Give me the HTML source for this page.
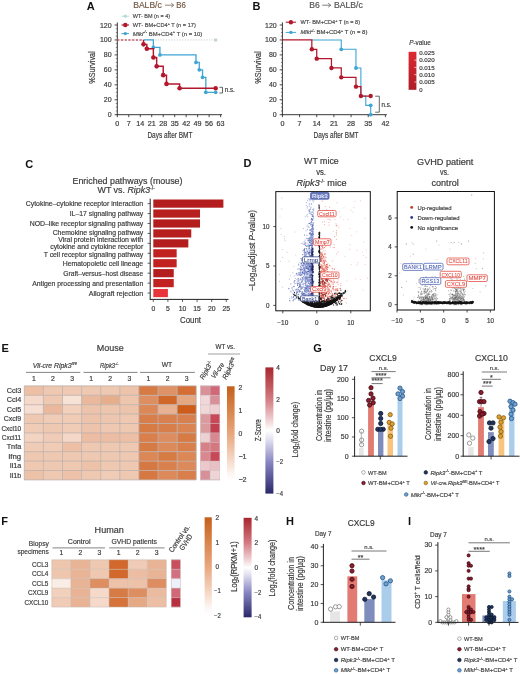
<!DOCTYPE html><html><head><meta charset="utf-8"><title>Figure</title><style>html,body{margin:0;padding:0;background:#fff;width:520px;height:674px;overflow:hidden}svg{display:block;font-family:"Liberation Sans",sans-serif;will-change:transform}</style></head><body><svg width="520" height="674" viewBox="0 0 520 674" font-family='"Liberation Sans", sans-serif'>
<defs><linearGradient id="gp" x1="0" y1="0" x2="0" y2="1"><stop offset="0" stop-color="#de2833"/><stop offset="1" stop-color="#ad1d25"/></linearGradient><linearGradient id="gz" x1="0" y1="0" x2="0" y2="1"><stop offset="0" stop-color="#c55f1c"/><stop offset="0.25" stop-color="#d8844a"/><stop offset="0.5" stop-color="#e8a67c"/><stop offset="0.75" stop-color="#f4d3bf"/><stop offset="0.93" stop-color="#fdf6f2"/><stop offset="1" stop-color="#ffffff"/></linearGradient><linearGradient id="gf" x1="0" y1="0" x2="0" y2="1"><stop offset="0" stop-color="#a8262e"/><stop offset="0.25" stop-color="#d27a80"/><stop offset="0.43" stop-color="#f2d8da"/><stop offset="0.5" stop-color="#ffffff"/><stop offset="0.57" stop-color="#e2e1f1"/><stop offset="0.75" stop-color="#8886c2"/><stop offset="1" stop-color="#2a2868"/></linearGradient></defs>
<rect width="520" height="674" fill="#fff"/>
<text x="86.80" y="9.80" font-size="11" fill="#111" font-weight="bold" >A</text>
<text x="133.20" y="7.70" font-size="8.2" fill="#735a45" stroke="#735a45" stroke-width="0.18" textLength="28.6" lengthAdjust="spacingAndGlyphs" >BALB/c</text>
<path d="M164.90,5.20 H173.20 M171.20,3.20 L173.80,5.20 L171.20,7.20" fill="none" stroke="#735a45" stroke-width="0.75"/>
<text x="176.20" y="7.70" font-size="8.2" fill="#735a45" stroke="#735a45" stroke-width="0.18" textLength="9.6" lengthAdjust="spacingAndGlyphs" >B6</text>
<line x1="117.30" y1="22.40" x2="117.30" y2="115.15" stroke="#222" stroke-width="0.9" />
<line x1="116.85" y1="114.70" x2="222.10" y2="114.70" stroke="#222" stroke-width="0.9" />
<line x1="114.60" y1="114.70" x2="117.30" y2="114.70" stroke="#222" stroke-width="0.8" />
<text x="111.60" y="117.20" font-size="7.0" fill="#3a3a3a" stroke="#3a3a3a" stroke-width="0.18" text-anchor="end" textLength="3.9" lengthAdjust="spacingAndGlyphs" >0</text>
<line x1="114.60" y1="99.75" x2="117.30" y2="99.75" stroke="#222" stroke-width="0.8" />
<text x="111.60" y="102.25" font-size="7.0" fill="#3a3a3a" stroke="#3a3a3a" stroke-width="0.18" text-anchor="end" textLength="7.8" lengthAdjust="spacingAndGlyphs" >20</text>
<line x1="114.60" y1="84.80" x2="117.30" y2="84.80" stroke="#222" stroke-width="0.8" />
<text x="111.60" y="87.30" font-size="7.0" fill="#3a3a3a" stroke="#3a3a3a" stroke-width="0.18" text-anchor="end" textLength="7.8" lengthAdjust="spacingAndGlyphs" >40</text>
<line x1="114.60" y1="69.85" x2="117.30" y2="69.85" stroke="#222" stroke-width="0.8" />
<text x="111.60" y="72.35" font-size="7.0" fill="#3a3a3a" stroke="#3a3a3a" stroke-width="0.18" text-anchor="end" textLength="7.8" lengthAdjust="spacingAndGlyphs" >60</text>
<line x1="114.60" y1="54.90" x2="117.30" y2="54.90" stroke="#222" stroke-width="0.8" />
<text x="111.60" y="57.40" font-size="7.0" fill="#3a3a3a" stroke="#3a3a3a" stroke-width="0.18" text-anchor="end" textLength="7.8" lengthAdjust="spacingAndGlyphs" >80</text>
<line x1="114.60" y1="39.95" x2="117.30" y2="39.95" stroke="#222" stroke-width="0.8" />
<text x="111.60" y="42.45" font-size="7.0" fill="#3a3a3a" stroke="#3a3a3a" stroke-width="0.18" text-anchor="end" textLength="11.7" lengthAdjust="spacingAndGlyphs" >100</text>
<line x1="114.60" y1="25.00" x2="117.30" y2="25.00" stroke="#222" stroke-width="0.8" />
<text x="111.60" y="27.50" font-size="7.0" fill="#3a3a3a" stroke="#3a3a3a" stroke-width="0.18" text-anchor="end" textLength="11.7" lengthAdjust="spacingAndGlyphs" >120</text>
<line x1="115.80" y1="110.96" x2="117.30" y2="110.96" stroke="#222" stroke-width="0.5" />
<line x1="115.80" y1="107.23" x2="117.30" y2="107.23" stroke="#222" stroke-width="0.5" />
<line x1="115.80" y1="103.49" x2="117.30" y2="103.49" stroke="#222" stroke-width="0.5" />
<line x1="115.80" y1="96.01" x2="117.30" y2="96.01" stroke="#222" stroke-width="0.5" />
<line x1="115.80" y1="92.28" x2="117.30" y2="92.28" stroke="#222" stroke-width="0.5" />
<line x1="115.80" y1="88.54" x2="117.30" y2="88.54" stroke="#222" stroke-width="0.5" />
<line x1="115.80" y1="81.06" x2="117.30" y2="81.06" stroke="#222" stroke-width="0.5" />
<line x1="115.80" y1="77.33" x2="117.30" y2="77.33" stroke="#222" stroke-width="0.5" />
<line x1="115.80" y1="73.59" x2="117.30" y2="73.59" stroke="#222" stroke-width="0.5" />
<line x1="115.80" y1="66.11" x2="117.30" y2="66.11" stroke="#222" stroke-width="0.5" />
<line x1="115.80" y1="62.38" x2="117.30" y2="62.38" stroke="#222" stroke-width="0.5" />
<line x1="115.80" y1="58.64" x2="117.30" y2="58.64" stroke="#222" stroke-width="0.5" />
<line x1="115.80" y1="51.16" x2="117.30" y2="51.16" stroke="#222" stroke-width="0.5" />
<line x1="115.80" y1="47.42" x2="117.30" y2="47.42" stroke="#222" stroke-width="0.5" />
<line x1="115.80" y1="43.69" x2="117.30" y2="43.69" stroke="#222" stroke-width="0.5" />
<line x1="115.80" y1="36.21" x2="117.30" y2="36.21" stroke="#222" stroke-width="0.5" />
<line x1="115.80" y1="32.47" x2="117.30" y2="32.47" stroke="#222" stroke-width="0.5" />
<line x1="115.80" y1="28.74" x2="117.30" y2="28.74" stroke="#222" stroke-width="0.5" />
<line x1="117.30" y1="114.70" x2="117.30" y2="117.20" stroke="#222" stroke-width="0.8" />
<text x="117.30" y="126.20" font-size="6.8" fill="#3a3a3a" stroke="#3a3a3a" stroke-width="0.18" text-anchor="middle" textLength="4.0" lengthAdjust="spacingAndGlyphs" >0</text>
<line x1="128.78" y1="114.70" x2="128.78" y2="117.20" stroke="#222" stroke-width="0.8" />
<text x="128.78" y="126.20" font-size="6.8" fill="#3a3a3a" stroke="#3a3a3a" stroke-width="0.18" text-anchor="middle" textLength="4.0" lengthAdjust="spacingAndGlyphs" >7</text>
<line x1="140.26" y1="114.70" x2="140.26" y2="117.20" stroke="#222" stroke-width="0.8" />
<text x="140.26" y="126.20" font-size="6.8" fill="#3a3a3a" stroke="#3a3a3a" stroke-width="0.18" text-anchor="middle" textLength="8.0" lengthAdjust="spacingAndGlyphs" >14</text>
<line x1="151.73" y1="114.70" x2="151.73" y2="117.20" stroke="#222" stroke-width="0.8" />
<text x="151.73" y="126.20" font-size="6.8" fill="#3a3a3a" stroke="#3a3a3a" stroke-width="0.18" text-anchor="middle" textLength="8.0" lengthAdjust="spacingAndGlyphs" >21</text>
<line x1="163.21" y1="114.70" x2="163.21" y2="117.20" stroke="#222" stroke-width="0.8" />
<text x="163.21" y="126.20" font-size="6.8" fill="#3a3a3a" stroke="#3a3a3a" stroke-width="0.18" text-anchor="middle" textLength="8.0" lengthAdjust="spacingAndGlyphs" >28</text>
<line x1="174.69" y1="114.70" x2="174.69" y2="117.20" stroke="#222" stroke-width="0.8" />
<text x="174.69" y="126.20" font-size="6.8" fill="#3a3a3a" stroke="#3a3a3a" stroke-width="0.18" text-anchor="middle" textLength="8.0" lengthAdjust="spacingAndGlyphs" >35</text>
<line x1="186.17" y1="114.70" x2="186.17" y2="117.20" stroke="#222" stroke-width="0.8" />
<text x="186.17" y="126.20" font-size="6.8" fill="#3a3a3a" stroke="#3a3a3a" stroke-width="0.18" text-anchor="middle" textLength="8.0" lengthAdjust="spacingAndGlyphs" >42</text>
<line x1="197.64" y1="114.70" x2="197.64" y2="117.20" stroke="#222" stroke-width="0.8" />
<text x="197.64" y="126.20" font-size="6.8" fill="#3a3a3a" stroke="#3a3a3a" stroke-width="0.18" text-anchor="middle" textLength="8.0" lengthAdjust="spacingAndGlyphs" >49</text>
<line x1="209.12" y1="114.70" x2="209.12" y2="117.20" stroke="#222" stroke-width="0.8" />
<text x="209.12" y="126.20" font-size="6.8" fill="#3a3a3a" stroke="#3a3a3a" stroke-width="0.18" text-anchor="middle" textLength="8.0" lengthAdjust="spacingAndGlyphs" >56</text>
<line x1="220.60" y1="114.70" x2="220.60" y2="117.20" stroke="#222" stroke-width="0.8" />
<text x="220.60" y="126.20" font-size="6.8" fill="#3a3a3a" stroke="#3a3a3a" stroke-width="0.18" text-anchor="middle" textLength="8.0" lengthAdjust="spacingAndGlyphs" >63</text>
<text x="169.90" y="138.00" font-size="8.6" fill="#3a3a3a" stroke="#3a3a3a" stroke-width="0.18" text-anchor="middle" textLength="45" lengthAdjust="spacingAndGlyphs" >Days after BMT</text>
<text x="95.40" y="67.50" font-size="9.0" fill="#3a3a3a" stroke="#3a3a3a" stroke-width="0.18" text-anchor="middle" textLength="32.5" lengthAdjust="spacingAndGlyphs" transform="rotate(-90 95.40 67.50)" >%Survival</text>
<line x1="117.30" y1="39.95" x2="215.68" y2="39.95" stroke="#c5cbcb" stroke-width="0.9" stroke-dasharray="1.2 1.5"/>
<circle cx="215.68" cy="39.95" r="1.8" fill="#c3d2d2" stroke="none" stroke-width="0.6" />
<path d="M143.53,39.95 H153.37 V47.42 H159.93 V54.90 H196.00 V62.38 H199.28 V69.85 H202.56 V77.33 H205.84 V92.28 H215.68" fill="none" stroke="#3ea5d5" stroke-width="1.3"/>
<circle cx="153.37" cy="47.42" r="1.85" fill="#3ea5d5" stroke="none" stroke-width="0.6" />
<circle cx="159.93" cy="54.90" r="1.85" fill="#3ea5d5" stroke="none" stroke-width="0.6" />
<circle cx="196.00" cy="62.38" r="1.85" fill="#3ea5d5" stroke="none" stroke-width="0.6" />
<circle cx="199.28" cy="69.85" r="1.85" fill="#3ea5d5" stroke="none" stroke-width="0.6" />
<circle cx="202.56" cy="77.33" r="1.85" fill="#3ea5d5" stroke="none" stroke-width="0.6" />
<circle cx="205.84" cy="92.28" r="1.85" fill="#3ea5d5" stroke="none" stroke-width="0.6" />
<circle cx="215.68" cy="92.28" r="1.85" fill="#3ea5d5" stroke="none" stroke-width="0.6" />
<path d="M143.53,39.95 H143.53 V44.36 H146.81 V48.77 H153.37 V57.52 H156.65 V66.34 H163.21 V75.16 H166.49 V83.90 H179.61 V88.31 H215.68" fill="none" stroke="#b3172c" stroke-width="1.45"/>
<line x1="117.30" y1="39.95" x2="143.53" y2="39.95" stroke="#b3172c" stroke-width="1.1" stroke-dasharray="2.2 1.5"/>
<circle cx="143.53" cy="44.36" r="2.3" fill="#b3172c" stroke="none" stroke-width="0.6" />
<circle cx="146.81" cy="48.77" r="2.3" fill="#b3172c" stroke="none" stroke-width="0.6" />
<circle cx="153.37" cy="57.52" r="2.3" fill="#b3172c" stroke="none" stroke-width="0.6" />
<circle cx="156.65" cy="66.34" r="2.3" fill="#b3172c" stroke="none" stroke-width="0.6" />
<circle cx="163.21" cy="75.16" r="2.3" fill="#b3172c" stroke="none" stroke-width="0.6" />
<circle cx="166.49" cy="83.90" r="2.3" fill="#b3172c" stroke="none" stroke-width="0.6" />
<circle cx="179.61" cy="88.31" r="2.3" fill="#b3172c" stroke="none" stroke-width="0.6" />
<circle cx="215.68" cy="88.31" r="2.3" fill="#b3172c" stroke="none" stroke-width="0.6" />
<path d="M219.4,87.3 H222.5 V93.0 H219.4" fill="none" stroke="#333" stroke-width="0.75"/>
<text x="224.80" y="92.30" font-size="6.4" fill="#3a3a3a" stroke="#3a3a3a" stroke-width="0.18" textLength="10" lengthAdjust="spacingAndGlyphs" >n.s.</text>
<line x1="121.50" y1="16.20" x2="129.10" y2="16.20" stroke="#b5dada" stroke-width="1.0" />
<circle cx="125.30" cy="16.20" r="1.6" fill="#b5dada" stroke="none" stroke-width="0.6" />
<line x1="121.50" y1="25.00" x2="129.10" y2="25.00" stroke="#b3172c" stroke-width="1.1" />
<circle cx="125.30" cy="25.00" r="2.2" fill="#b3172c" stroke="none" stroke-width="0.6" />
<line x1="121.50" y1="33.60" x2="129.10" y2="33.60" stroke="#3ea5d5" stroke-width="1.0" />
<circle cx="125.30" cy="33.60" r="1.7" fill="#3ea5d5" stroke="none" stroke-width="0.6" />
<text x="132.80" y="18.20" font-size="5.8" fill="#4a4a4a" stroke="#4a4a4a" stroke-width="0.18" textLength="37.2" lengthAdjust="spacingAndGlyphs" >WT- BM (n = 4)</text>
<text x="132.80" y="26.90" font-size="5.8" fill="#4a4a4a" stroke="#4a4a4a" stroke-width="0.18" textLength="63.0" lengthAdjust="spacingAndGlyphs" >WT- BM+CD4<tspan font-size="4.0" dy="-2.3">+</tspan><tspan dy="2.3"> T (n = 17)</tspan></text>
<text x="132.80" y="35.50" font-size="5.8" fill="#4a4a4a" stroke="#4a4a4a" stroke-width="0.18" textLength="69.5" lengthAdjust="spacingAndGlyphs" ><tspan font-style="italic">Mlkl</tspan><tspan font-size="4.0" dy="-2.3">-/-</tspan><tspan dy="2.3"> BM+CD4</tspan><tspan font-size="4.0" dy="-2.3">+</tspan><tspan dy="2.3"> T (n = 10)</tspan></text>
<text x="252.60" y="10.00" font-size="11" fill="#111" font-weight="bold" >B</text>
<text x="309.30" y="7.70" font-size="8.2" fill="#555" stroke="#555" stroke-width="0.18" textLength="10.5" lengthAdjust="spacingAndGlyphs" >B6</text>
<path d="M322.20,5.20 H330.20 M328.20,3.20 L330.80,5.20 L328.20,7.20" fill="none" stroke="#555" stroke-width="0.75"/>
<text x="333.90" y="7.70" font-size="8.2" fill="#555" stroke="#555" stroke-width="0.18" textLength="28.9" lengthAdjust="spacingAndGlyphs" >BALB/c</text>
<line x1="282.40" y1="22.40" x2="282.40" y2="115.15" stroke="#222" stroke-width="0.9" />
<line x1="281.95" y1="114.70" x2="386.90" y2="114.70" stroke="#222" stroke-width="0.9" />
<line x1="279.70" y1="114.70" x2="282.40" y2="114.70" stroke="#222" stroke-width="0.8" />
<text x="276.70" y="117.20" font-size="7.0" fill="#3a3a3a" stroke="#3a3a3a" stroke-width="0.18" text-anchor="end" textLength="3.9" lengthAdjust="spacingAndGlyphs" >0</text>
<line x1="279.70" y1="99.75" x2="282.40" y2="99.75" stroke="#222" stroke-width="0.8" />
<text x="276.70" y="102.25" font-size="7.0" fill="#3a3a3a" stroke="#3a3a3a" stroke-width="0.18" text-anchor="end" textLength="7.8" lengthAdjust="spacingAndGlyphs" >20</text>
<line x1="279.70" y1="84.80" x2="282.40" y2="84.80" stroke="#222" stroke-width="0.8" />
<text x="276.70" y="87.30" font-size="7.0" fill="#3a3a3a" stroke="#3a3a3a" stroke-width="0.18" text-anchor="end" textLength="7.8" lengthAdjust="spacingAndGlyphs" >40</text>
<line x1="279.70" y1="69.85" x2="282.40" y2="69.85" stroke="#222" stroke-width="0.8" />
<text x="276.70" y="72.35" font-size="7.0" fill="#3a3a3a" stroke="#3a3a3a" stroke-width="0.18" text-anchor="end" textLength="7.8" lengthAdjust="spacingAndGlyphs" >60</text>
<line x1="279.70" y1="54.90" x2="282.40" y2="54.90" stroke="#222" stroke-width="0.8" />
<text x="276.70" y="57.40" font-size="7.0" fill="#3a3a3a" stroke="#3a3a3a" stroke-width="0.18" text-anchor="end" textLength="7.8" lengthAdjust="spacingAndGlyphs" >80</text>
<line x1="279.70" y1="39.95" x2="282.40" y2="39.95" stroke="#222" stroke-width="0.8" />
<text x="276.70" y="42.45" font-size="7.0" fill="#3a3a3a" stroke="#3a3a3a" stroke-width="0.18" text-anchor="end" textLength="11.7" lengthAdjust="spacingAndGlyphs" >100</text>
<line x1="279.70" y1="25.00" x2="282.40" y2="25.00" stroke="#222" stroke-width="0.8" />
<text x="276.70" y="27.50" font-size="7.0" fill="#3a3a3a" stroke="#3a3a3a" stroke-width="0.18" text-anchor="end" textLength="11.7" lengthAdjust="spacingAndGlyphs" >120</text>
<line x1="280.90" y1="110.96" x2="282.40" y2="110.96" stroke="#222" stroke-width="0.5" />
<line x1="280.90" y1="107.23" x2="282.40" y2="107.23" stroke="#222" stroke-width="0.5" />
<line x1="280.90" y1="103.49" x2="282.40" y2="103.49" stroke="#222" stroke-width="0.5" />
<line x1="280.90" y1="96.01" x2="282.40" y2="96.01" stroke="#222" stroke-width="0.5" />
<line x1="280.90" y1="92.28" x2="282.40" y2="92.28" stroke="#222" stroke-width="0.5" />
<line x1="280.90" y1="88.54" x2="282.40" y2="88.54" stroke="#222" stroke-width="0.5" />
<line x1="280.90" y1="81.06" x2="282.40" y2="81.06" stroke="#222" stroke-width="0.5" />
<line x1="280.90" y1="77.33" x2="282.40" y2="77.33" stroke="#222" stroke-width="0.5" />
<line x1="280.90" y1="73.59" x2="282.40" y2="73.59" stroke="#222" stroke-width="0.5" />
<line x1="280.90" y1="66.11" x2="282.40" y2="66.11" stroke="#222" stroke-width="0.5" />
<line x1="280.90" y1="62.38" x2="282.40" y2="62.38" stroke="#222" stroke-width="0.5" />
<line x1="280.90" y1="58.64" x2="282.40" y2="58.64" stroke="#222" stroke-width="0.5" />
<line x1="280.90" y1="51.16" x2="282.40" y2="51.16" stroke="#222" stroke-width="0.5" />
<line x1="280.90" y1="47.42" x2="282.40" y2="47.42" stroke="#222" stroke-width="0.5" />
<line x1="280.90" y1="43.69" x2="282.40" y2="43.69" stroke="#222" stroke-width="0.5" />
<line x1="280.90" y1="36.21" x2="282.40" y2="36.21" stroke="#222" stroke-width="0.5" />
<line x1="280.90" y1="32.47" x2="282.40" y2="32.47" stroke="#222" stroke-width="0.5" />
<line x1="280.90" y1="28.74" x2="282.40" y2="28.74" stroke="#222" stroke-width="0.5" />
<line x1="282.40" y1="114.70" x2="282.40" y2="117.20" stroke="#222" stroke-width="0.8" />
<text x="282.40" y="126.20" font-size="6.8" fill="#3a3a3a" stroke="#3a3a3a" stroke-width="0.18" text-anchor="middle" textLength="4.0" lengthAdjust="spacingAndGlyphs" >0</text>
<line x1="299.57" y1="114.70" x2="299.57" y2="117.20" stroke="#222" stroke-width="0.8" />
<text x="299.57" y="126.20" font-size="6.8" fill="#3a3a3a" stroke="#3a3a3a" stroke-width="0.18" text-anchor="middle" textLength="4.0" lengthAdjust="spacingAndGlyphs" >7</text>
<line x1="316.73" y1="114.70" x2="316.73" y2="117.20" stroke="#222" stroke-width="0.8" />
<text x="316.73" y="126.20" font-size="6.8" fill="#3a3a3a" stroke="#3a3a3a" stroke-width="0.18" text-anchor="middle" textLength="8.0" lengthAdjust="spacingAndGlyphs" >14</text>
<line x1="333.90" y1="114.70" x2="333.90" y2="117.20" stroke="#222" stroke-width="0.8" />
<text x="333.90" y="126.20" font-size="6.8" fill="#3a3a3a" stroke="#3a3a3a" stroke-width="0.18" text-anchor="middle" textLength="8.0" lengthAdjust="spacingAndGlyphs" >21</text>
<line x1="351.07" y1="114.70" x2="351.07" y2="117.20" stroke="#222" stroke-width="0.8" />
<text x="351.07" y="126.20" font-size="6.8" fill="#3a3a3a" stroke="#3a3a3a" stroke-width="0.18" text-anchor="middle" textLength="8.0" lengthAdjust="spacingAndGlyphs" >28</text>
<line x1="368.23" y1="114.70" x2="368.23" y2="117.20" stroke="#222" stroke-width="0.8" />
<text x="368.23" y="126.20" font-size="6.8" fill="#3a3a3a" stroke="#3a3a3a" stroke-width="0.18" text-anchor="middle" textLength="8.0" lengthAdjust="spacingAndGlyphs" >35</text>
<line x1="385.40" y1="114.70" x2="385.40" y2="117.20" stroke="#222" stroke-width="0.8" />
<text x="385.40" y="126.20" font-size="6.8" fill="#3a3a3a" stroke="#3a3a3a" stroke-width="0.18" text-anchor="middle" textLength="8.0" lengthAdjust="spacingAndGlyphs" >42</text>
<text x="336.00" y="138.00" font-size="8.6" fill="#3a3a3a" stroke="#3a3a3a" stroke-width="0.18" text-anchor="middle" textLength="45" lengthAdjust="spacingAndGlyphs" >Days after BMT</text>
<text x="260.60" y="67.50" font-size="9.0" fill="#3a3a3a" stroke="#3a3a3a" stroke-width="0.18" text-anchor="middle" textLength="32.5" lengthAdjust="spacingAndGlyphs" transform="rotate(-90 260.60 67.50)" >%Survival</text>
<path d="M311.83,39.95 H341.26 V49.29 H355.97 V67.98 H360.88 V96.01 H365.78 V105.36 H370.69 V114.70 H370.69" fill="none" stroke="#3ea5d5" stroke-width="1.1"/>
<circle cx="341.26" cy="49.29" r="1.9" fill="#3ea5d5" stroke="none" stroke-width="0.6" />
<circle cx="355.97" cy="67.98" r="1.9" fill="#3ea5d5" stroke="none" stroke-width="0.6" />
<circle cx="370.69" cy="105.36" r="1.9" fill="#3ea5d5" stroke="none" stroke-width="0.6" />
<circle cx="370.69" cy="114.70" r="1.9" fill="#3ea5d5" stroke="none" stroke-width="0.6" />
<path d="M282.40,39.95 H311.83 V49.29 H316.73 V58.64 H331.45 V67.98 H341.26 V77.33 H355.97 V86.67 H360.88 V96.01 H370.69" fill="none" stroke="#b3172c" stroke-width="1.25"/>
<circle cx="311.83" cy="49.29" r="2.2" fill="#b3172c" stroke="none" stroke-width="0.6" />
<circle cx="316.73" cy="58.64" r="2.2" fill="#b3172c" stroke="none" stroke-width="0.6" />
<circle cx="331.45" cy="67.98" r="2.2" fill="#b3172c" stroke="none" stroke-width="0.6" />
<circle cx="341.26" cy="77.33" r="2.2" fill="#b3172c" stroke="none" stroke-width="0.6" />
<circle cx="355.97" cy="86.67" r="2.2" fill="#b3172c" stroke="none" stroke-width="0.6" />
<circle cx="360.88" cy="96.01" r="2.2" fill="#b3172c" stroke="none" stroke-width="0.6" />
<circle cx="370.69" cy="96.01" r="2.2" fill="#b3172c" stroke="none" stroke-width="0.6" />
<path d="M375.2,96.2 H379.3 V112.2 H375.2" fill="none" stroke="#333" stroke-width="0.75"/>
<text x="381.60" y="106.50" font-size="6.4" fill="#3a3a3a" stroke="#3a3a3a" stroke-width="0.18" textLength="10" lengthAdjust="spacingAndGlyphs" >n.s.</text>
<line x1="285.70" y1="22.20" x2="296.10" y2="22.20" stroke="#b3172c" stroke-width="1.1" />
<circle cx="290.90" cy="22.20" r="2.2" fill="#b3172c" stroke="none" stroke-width="0.6" />
<line x1="285.70" y1="32.40" x2="296.10" y2="32.40" stroke="#3ea5d5" stroke-width="1.0" />
<circle cx="290.90" cy="32.40" r="1.7" fill="#3ea5d5" stroke="none" stroke-width="0.6" />
<text x="300.40" y="24.30" font-size="5.8" fill="#4a4a4a" stroke="#4a4a4a" stroke-width="0.18" textLength="59.7" lengthAdjust="spacingAndGlyphs" >WT- BM+CD4<tspan font-size="4.0" dy="-2.3">+</tspan><tspan dy="2.3"> T (n = 8)</tspan></text>
<text x="300.40" y="34.40" font-size="5.8" fill="#4a4a4a" stroke="#4a4a4a" stroke-width="0.18" textLength="67" lengthAdjust="spacingAndGlyphs" ><tspan font-style="italic">Mlkl</tspan><tspan font-size="4.0" dy="-2.3">-/-</tspan><tspan dy="2.3"> BM+CD4</tspan><tspan font-size="4.0" dy="-2.3">+</tspan><tspan dy="2.3"> T (n = 8)</tspan></text>
<text x="420.00" y="45.40" font-size="7.0" fill="#3a3a3a" stroke="#3a3a3a" stroke-width="0.18" text-anchor="middle" textLength="21.5" lengthAdjust="spacingAndGlyphs" ><tspan font-style="italic">P</tspan>-value</text>
<rect x="408.60" y="51.80" width="7.80" height="38.00" fill="url(#gp)" />
<text x="419.20" y="55.00" font-size="6.0" fill="#3a3a3a" stroke="#3a3a3a" stroke-width="0.18" textLength="15.5" lengthAdjust="spacingAndGlyphs" >0.025</text>
<line x1="414.40" y1="60.10" x2="416.40" y2="60.10" stroke="#fff" stroke-width="0.7" />
<text x="419.20" y="62.30" font-size="6.0" fill="#3a3a3a" stroke="#3a3a3a" stroke-width="0.18" textLength="15.5" lengthAdjust="spacingAndGlyphs" >0.020</text>
<line x1="414.40" y1="67.40" x2="416.40" y2="67.40" stroke="#fff" stroke-width="0.7" />
<text x="419.20" y="69.60" font-size="6.0" fill="#3a3a3a" stroke="#3a3a3a" stroke-width="0.18" textLength="15.5" lengthAdjust="spacingAndGlyphs" >0.015</text>
<line x1="414.40" y1="74.70" x2="416.40" y2="74.70" stroke="#fff" stroke-width="0.7" />
<text x="419.20" y="76.90" font-size="6.0" fill="#3a3a3a" stroke="#3a3a3a" stroke-width="0.18" textLength="15.5" lengthAdjust="spacingAndGlyphs" >0.010</text>
<line x1="414.40" y1="82.00" x2="416.40" y2="82.00" stroke="#fff" stroke-width="0.7" />
<text x="419.20" y="84.20" font-size="6.0" fill="#3a3a3a" stroke="#3a3a3a" stroke-width="0.18" textLength="15.5" lengthAdjust="spacingAndGlyphs" >0.005</text>
<text x="419.20" y="91.50" font-size="6.0" fill="#3a3a3a" stroke="#3a3a3a" stroke-width="0.18" textLength="3.3" lengthAdjust="spacingAndGlyphs" >0</text>
<text x="25.30" y="167.80" font-size="11" fill="#111" font-weight="bold" >C</text>
<text x="127.50" y="183.80" font-size="8.6" fill="#3a3a3a" stroke="#3a3a3a" stroke-width="0.18" text-anchor="middle" textLength="110" lengthAdjust="spacingAndGlyphs" >Enriched pathways (mouse)</text>
<text x="97.50" y="193.00" font-size="8.6" fill="#3a3a3a" stroke="#3a3a3a" stroke-width="0.18" textLength="57.5" lengthAdjust="spacingAndGlyphs" >WT vs. <tspan font-style="italic">Ripk3</tspan><tspan font-size="5.0" dy="-2.8">-/-</tspan><tspan dy="2.8"></tspan></text>
<rect x="153.30" y="199.50" width="70.08" height="8.20" fill="#b31d1e" />
<line x1="147.60" y1="203.60" x2="150.20" y2="203.60" stroke="#222" stroke-width="0.7" />
<text x="143.20" y="206.25" font-size="7.0" fill="#3a3a3a" stroke="#3a3a3a" stroke-width="0.18" text-anchor="end" textLength="117.5" lengthAdjust="spacingAndGlyphs" >Cytokine–cytokine receptor interaction</text>
<rect x="153.30" y="209.44" width="46.72" height="8.20" fill="#b71f1f" />
<line x1="147.60" y1="213.54" x2="150.20" y2="213.54" stroke="#222" stroke-width="0.7" />
<text x="143.20" y="216.25" font-size="7.0" fill="#3a3a3a" stroke="#3a3a3a" stroke-width="0.18" text-anchor="end" textLength="73.5" lengthAdjust="spacingAndGlyphs" >IL–17 signaling pathway</text>
<rect x="153.30" y="219.38" width="46.72" height="8.20" fill="#b31d1e" />
<line x1="147.60" y1="223.48" x2="150.20" y2="223.48" stroke="#222" stroke-width="0.7" />
<text x="143.20" y="226.25" font-size="7.0" fill="#3a3a3a" stroke="#3a3a3a" stroke-width="0.18" text-anchor="end" textLength="113.5" lengthAdjust="spacingAndGlyphs" >NOD–like receptor signaling pathway</text>
<rect x="153.30" y="229.32" width="37.96" height="8.20" fill="#b71f1f" />
<line x1="147.60" y1="233.42" x2="150.20" y2="233.42" stroke="#222" stroke-width="0.7" />
<text x="143.20" y="234.50" font-size="7.0" fill="#3a3a3a" stroke="#3a3a3a" stroke-width="0.18" text-anchor="end" textLength="90.5" lengthAdjust="spacingAndGlyphs" >Chemokine signaling pathway</text>
<rect x="153.30" y="239.26" width="35.04" height="8.20" fill="#b31d1e" />
<line x1="147.60" y1="243.36" x2="150.20" y2="243.36" stroke="#222" stroke-width="0.7" />
<rect x="153.30" y="249.20" width="23.36" height="8.20" fill="#c22121" />
<line x1="147.60" y1="253.30" x2="150.20" y2="253.30" stroke="#222" stroke-width="0.7" />
<text x="143.20" y="257.00" font-size="7.0" fill="#3a3a3a" stroke="#3a3a3a" stroke-width="0.18" text-anchor="end" textLength="99.5" lengthAdjust="spacingAndGlyphs" >T cell receptor signaling pathway</text>
<rect x="153.30" y="259.14" width="23.36" height="8.20" fill="#c22121" />
<line x1="147.60" y1="263.24" x2="150.20" y2="263.24" stroke="#222" stroke-width="0.7" />
<text x="143.20" y="266.25" font-size="7.0" fill="#3a3a3a" stroke="#3a3a3a" stroke-width="0.18" text-anchor="end" textLength="80.5" lengthAdjust="spacingAndGlyphs" >Hematopoietic cell lineage</text>
<rect x="153.30" y="269.08" width="20.44" height="8.20" fill="#b51e1e" />
<line x1="147.60" y1="273.18" x2="150.20" y2="273.18" stroke="#222" stroke-width="0.7" />
<text x="143.20" y="275.75" font-size="7.0" fill="#3a3a3a" stroke="#3a3a3a" stroke-width="0.18" text-anchor="end" textLength="80" lengthAdjust="spacingAndGlyphs" >Graft–versus–host disease</text>
<rect x="153.30" y="279.02" width="20.44" height="8.20" fill="#c22121" />
<line x1="147.60" y1="283.12" x2="150.20" y2="283.12" stroke="#222" stroke-width="0.7" />
<text x="143.20" y="285.75" font-size="7.0" fill="#3a3a3a" stroke="#3a3a3a" stroke-width="0.18" text-anchor="end" textLength="111" lengthAdjust="spacingAndGlyphs" >Antigen processing and presentation</text>
<rect x="153.30" y="288.96" width="14.60" height="8.20" fill="#e8353c" />
<line x1="147.60" y1="293.06" x2="150.20" y2="293.06" stroke="#222" stroke-width="0.7" />
<text x="143.20" y="295.75" font-size="7.0" fill="#3a3a3a" stroke="#3a3a3a" stroke-width="0.18" text-anchor="end" textLength="54.5" lengthAdjust="spacingAndGlyphs" >Allograft rejection</text>
<text x="143.20" y="241.50" font-size="7.0" fill="#3a3a3a" stroke="#3a3a3a" stroke-width="0.18" text-anchor="end" textLength="85" lengthAdjust="spacingAndGlyphs" >Viral protein interaction with</text>
<text x="143.20" y="249.00" font-size="7.0" fill="#3a3a3a" stroke="#3a3a3a" stroke-width="0.18" text-anchor="end" textLength="93" lengthAdjust="spacingAndGlyphs" >cytokine and cytokine receptor</text>
<line x1="150.20" y1="198.60" x2="150.20" y2="299.80" stroke="#222" stroke-width="1.0" />
<line x1="149.80" y1="299.40" x2="228.50" y2="299.40" stroke="#222" stroke-width="1.0" />
<line x1="153.30" y1="299.40" x2="153.30" y2="302.00" stroke="#222" stroke-width="0.7" />
<text x="153.30" y="311.20" font-size="6.6" fill="#3a3a3a" stroke="#3a3a3a" stroke-width="0.18" text-anchor="middle" textLength="3.8" lengthAdjust="spacingAndGlyphs" >0</text>
<line x1="167.90" y1="299.40" x2="167.90" y2="302.00" stroke="#222" stroke-width="0.7" />
<text x="167.90" y="311.20" font-size="6.6" fill="#3a3a3a" stroke="#3a3a3a" stroke-width="0.18" text-anchor="middle" textLength="3.8" lengthAdjust="spacingAndGlyphs" >5</text>
<line x1="182.50" y1="299.40" x2="182.50" y2="302.00" stroke="#222" stroke-width="0.7" />
<text x="182.50" y="311.20" font-size="6.6" fill="#3a3a3a" stroke="#3a3a3a" stroke-width="0.18" text-anchor="middle" textLength="7.6" lengthAdjust="spacingAndGlyphs" >10</text>
<line x1="197.10" y1="299.40" x2="197.10" y2="302.00" stroke="#222" stroke-width="0.7" />
<text x="197.10" y="311.20" font-size="6.6" fill="#3a3a3a" stroke="#3a3a3a" stroke-width="0.18" text-anchor="middle" textLength="7.6" lengthAdjust="spacingAndGlyphs" >15</text>
<line x1="211.70" y1="299.40" x2="211.70" y2="302.00" stroke="#222" stroke-width="0.7" />
<text x="211.70" y="311.20" font-size="6.6" fill="#3a3a3a" stroke="#3a3a3a" stroke-width="0.18" text-anchor="middle" textLength="7.6" lengthAdjust="spacingAndGlyphs" >20</text>
<line x1="226.30" y1="299.40" x2="226.30" y2="302.00" stroke="#222" stroke-width="0.7" />
<text x="226.30" y="311.20" font-size="6.6" fill="#3a3a3a" stroke="#3a3a3a" stroke-width="0.18" text-anchor="middle" textLength="7.6" lengthAdjust="spacingAndGlyphs" >25</text>
<text x="190.50" y="323.00" font-size="8.2" fill="#3a3a3a" stroke="#3a3a3a" stroke-width="0.18" text-anchor="middle" textLength="21" lengthAdjust="spacingAndGlyphs" >Count</text>
<text x="243.60" y="166.50" font-size="11" fill="#111" font-weight="bold" >D</text>
<text x="321.40" y="164.40" font-size="8.4" fill="#3a3a3a" stroke="#3a3a3a" stroke-width="0.18" text-anchor="middle" textLength="34.6" lengthAdjust="spacingAndGlyphs" >WT mice</text>
<text x="321.10" y="174.90" font-size="8.4" fill="#3a3a3a" stroke="#3a3a3a" stroke-width="0.18" text-anchor="middle" textLength="9.8" lengthAdjust="spacingAndGlyphs" >vs.</text>
<text x="321.50" y="185.60" font-size="8.4" fill="#3a3a3a" stroke="#3a3a3a" stroke-width="0.18" text-anchor="middle" textLength="50" lengthAdjust="spacingAndGlyphs" ><tspan font-style="italic">Ripk3</tspan><tspan font-size="5.0" dy="-2.8">-/-</tspan><tspan dy="2.8"> mice</tspan></text>
<text x="445.20" y="164.80" font-size="8.4" fill="#3a3a3a" stroke="#3a3a3a" stroke-width="0.18" text-anchor="middle" textLength="56.3" lengthAdjust="spacingAndGlyphs" >GVHD patient</text>
<text x="444.50" y="175.10" font-size="8.4" fill="#3a3a3a" stroke="#3a3a3a" stroke-width="0.18" text-anchor="middle" textLength="9.1" lengthAdjust="spacingAndGlyphs" >vs.</text>
<text x="445.10" y="185.60" font-size="8.4" fill="#3a3a3a" stroke="#3a3a3a" stroke-width="0.18" text-anchor="middle" textLength="27.2" lengthAdjust="spacingAndGlyphs" >control</text>
<path d="M348.0 219.4h0M340.6 216.9h0M366.1 257.4h0M338.8 227.2h0M357.7 262.7h0M347.1 290.6h0M343.6 219.5h0M366.3 249.6h0M353.8 207.7h0M360.3 279.4h0M362.5 252.0h0M355.0 201.3h0" stroke="#f0c8c2" stroke-width="1.2" stroke-linecap="round" stroke-opacity="0.85" fill="none"/>
<path d="M349.9 244.7h0M352.9 212.1h0M339.2 211.7h0M356.8 264.9h0M365.1 264.4h0M351.1 210.2h0M363.4 255.6h0M345.1 256.4h0M347.0 280.8h0M357.1 250.4h0M351.2 264.4h0M350.0 228.6h0" stroke="#f0c8c2" stroke-width="1.2" stroke-linecap="round" stroke-opacity="0.85" fill="none"/>
<path d="M367.6 278.4h0M351.7 235.5h0M365.1 218.4h0M363.1 290.0h0M356.7 231.8h0M349.6 249.4h0M363.7 242.2h0M339.2 270.6h0M344.0 207.8h0M360.5 200.9h0M350.3 295.8h0M355.8 278.9h0" stroke="#f0c8c2" stroke-width="1.2" stroke-linecap="round" stroke-opacity="0.85" fill="none"/>
<path d="M279.5 281.4h0M287.1 252.3h0M282.4 287.1h0M292.4 293.1h0M295.0 232.0h0M281.7 198.1h0M293.8 266.5h0M290.5 275.8h0" stroke="#c7c4d8" stroke-width="1.2" stroke-linecap="round" stroke-opacity="0.85" fill="none"/>
<path d="M282.2 249.5h0M284.3 236.3h0M281.2 234.7h0M279.5 274.3h0M285.1 240.7h0M295.7 255.0h0M280.9 228.3h0" stroke="#c7c4d8" stroke-width="1.2" stroke-linecap="round" stroke-opacity="0.85" fill="none"/>
<path d="M280.0 216.0h0M290.7 283.9h0M281.7 208.8h0M280.3 261.4h0M284.5 238.8h0M282.5 257.4h0M289.0 261.2h0" stroke="#c7c4d8" stroke-width="1.2" stroke-linecap="round" stroke-opacity="0.85" fill="none"/>
<path d="M302.3 287.8h0M309.5 198.8h0M304.5 234.7h0M309.1 204.5h0M300.1 266.1h0M305.4 299.7h0M309.1 252.4h0M313.8 208.8h0M312.3 228.6h0M307.3 214.3h0M313.6 210.2h0M304.5 244.4h0M309.6 230.3h0M309.1 268.0h0M307.5 272.0h0M301.5 243.2h0M303.3 244.5h0M309.9 265.1h0M292.0 288.0h0M307.3 252.8h0M312.7 222.8h0M307.6 229.4h0M308.6 210.1h0M310.8 260.2h0M307.2 207.9h0M306.9 271.3h0M314.6 237.9h0M314.9 249.7h0M307.6 273.0h0M313.7 227.8h0M302.2 288.0h0M307.0 243.1h0M307.5 279.5h0M304.4 267.4h0M309.5 203.3h0M299.5 286.6h0M310.2 199.5h0M312.0 293.3h0M311.7 259.6h0M302.9 243.1h0M308.2 254.7h0M307.2 226.8h0M305.2 216.8h0M311.4 203.9h0M314.8 218.8h0M310.3 223.1h0M309.3 199.7h0M313.5 228.9h0M309.8 211.8h0M311.1 240.6h0M305.8 285.4h0M305.7 260.8h0M308.6 226.2h0M311.8 226.1h0" stroke="#8a98d4" stroke-width="1.1" stroke-linecap="round" stroke-opacity="0.8" fill="none"/>
<path d="M309.5 206.0h0M307.0 235.4h0M312.9 243.6h0M304.4 260.5h0M306.7 215.8h0M306.6 262.7h0M294.1 282.4h0M304.5 255.8h0M300.8 299.5h0M309.2 223.6h0M308.9 296.9h0M309.2 269.6h0M295.2 296.4h0M306.3 253.4h0M312.4 200.1h0M305.0 244.4h0M304.4 235.6h0M312.4 226.4h0M303.4 228.5h0M313.2 201.9h0M309.4 296.1h0M310.7 260.6h0M314.9 198.7h0M302.2 292.1h0M294.6 298.9h0M313.3 231.0h0M289.4 279.1h0M310.6 224.5h0M308.2 198.8h0M306.6 202.6h0M303.4 286.0h0M311.2 212.0h0M310.3 213.3h0M307.7 206.5h0M310.4 241.5h0M313.6 213.2h0M306.9 274.5h0M301.3 297.2h0M292.7 272.7h0M306.6 238.2h0M310.5 224.9h0M314.5 222.4h0M308.9 294.8h0M306.1 292.4h0M310.0 212.2h0M314.7 250.0h0M309.8 237.9h0M310.1 200.8h0M310.0 255.9h0M306.7 252.2h0M306.0 230.7h0M301.8 288.5h0M314.0 210.8h0" stroke="#8a98d4" stroke-width="1.1" stroke-linecap="round" stroke-opacity="0.8" fill="none"/>
<path d="M310.2 230.0h0M312.0 235.6h0M311.6 204.1h0M309.6 269.9h0M310.4 209.1h0M305.1 242.3h0M302.6 299.3h0M311.5 218.6h0M312.1 219.6h0M311.5 251.8h0M313.8 200.2h0M309.3 213.4h0M297.4 269.1h0M304.9 295.7h0M308.9 257.7h0M306.9 238.2h0M310.6 199.6h0M310.8 242.5h0M306.8 282.1h0M304.3 267.0h0M305.1 240.0h0M304.2 241.5h0M310.8 243.7h0M306.4 258.4h0M309.7 295.1h0M309.3 242.5h0M311.8 223.9h0M304.4 243.3h0M307.3 225.0h0M313.0 224.4h0M308.8 275.0h0M308.5 263.3h0M302.7 272.3h0M307.6 200.6h0M310.7 208.1h0M312.9 209.5h0M304.3 272.5h0M306.2 205.6h0M307.6 238.8h0M310.6 236.2h0M300.0 262.2h0M310.5 269.5h0M311.8 230.9h0M311.5 221.5h0M305.8 278.8h0M307.2 268.1h0M307.8 216.8h0M306.4 248.4h0M314.9 216.2h0M311.1 214.0h0M310.5 252.4h0M306.9 286.4h0M309.5 256.7h0" stroke="#8a98d4" stroke-width="1.1" stroke-linecap="round" stroke-opacity="0.8" fill="none"/>
<path d="M310.4 245.4h0M310.8 271.2h0M308.2 280.0h0M312.4 266.7h0M305.0 255.8h0M308.2 258.5h0M311.7 257.2h0M306.0 254.5h0M301.0 258.6h0M313.2 233.9h0M308.6 252.3h0M298.1 278.3h0M296.4 293.2h0M311.7 266.0h0M310.9 283.1h0M312.1 290.1h0M309.2 271.1h0M312.8 243.3h0M308.7 280.1h0M311.5 228.8h0M307.2 280.9h0M309.5 266.3h0M310.7 289.1h0M311.8 265.9h0M308.0 246.4h0M302.1 291.8h0M311.2 282.5h0M310.9 266.9h0M305.3 288.4h0M312.6 283.5h0M311.2 245.3h0M303.4 267.8h0M308.3 267.9h0M304.1 273.4h0M304.5 249.3h0M312.5 262.8h0M305.9 256.2h0M312.3 212.0h0M302.1 294.6h0M310.2 272.6h0M312.1 281.4h0M311.5 235.0h0M311.8 272.1h0M310.7 298.6h0M308.1 240.7h0M293.3 297.6h0M306.6 268.3h0M302.6 277.9h0M313.1 266.1h0M306.1 297.8h0M311.1 249.9h0M310.2 229.8h0M312.2 248.4h0M308.4 260.3h0M313.3 284.5h0M306.9 277.9h0M313.0 273.6h0M309.9 265.0h0M304.5 263.0h0M305.6 271.2h0M299.9 275.0h0M303.3 270.9h0M308.5 253.1h0M303.4 295.0h0M312.5 266.7h0M304.4 269.7h0M311.7 260.8h0M310.7 273.8h0M311.3 268.9h0M310.8 269.6h0M308.2 264.2h0M312.9 233.4h0M312.9 262.7h0M310.2 276.1h0M308.8 277.9h0M305.0 264.7h0M310.1 262.0h0M300.7 273.0h0M308.4 269.3h0M313.2 271.3h0M311.6 261.5h0M312.4 268.2h0M311.9 286.3h0M312.5 245.3h0M301.9 287.8h0M312.0 219.2h0M311.4 289.5h0M311.5 247.1h0M313.0 259.6h0M309.7 261.8h0M306.7 290.6h0M312.2 289.8h0M311.2 271.4h0M305.4 295.1h0M312.2 251.2h0M304.5 256.9h0M296.3 297.0h0M309.0 238.4h0M302.5 296.8h0M302.7 278.0h0M312.2 219.9h0M302.8 298.5h0M304.5 295.8h0M309.1 270.9h0M305.8 282.1h0M305.8 262.5h0M310.0 262.3h0M312.4 293.0h0M312.0 292.2h0M305.8 298.9h0M310.9 282.6h0M313.2 262.6h0M306.6 288.2h0M309.5 242.4h0M310.0 295.0h0M311.4 233.6h0M304.8 248.5h0M306.4 272.5h0M307.6 268.7h0M305.4 243.0h0M309.5 266.7h0M310.6 269.3h0M309.2 288.4h0M305.6 271.3h0M312.6 281.9h0M309.6 255.0h0M309.3 245.7h0M299.4 291.9h0M309.4 298.6h0M309.3 211.2h0M311.8 261.8h0M309.3 259.8h0M301.0 296.3h0M310.5 282.7h0M310.4 265.7h0M306.8 266.9h0M312.5 258.6h0M311.8 257.0h0M309.9 258.6h0M308.0 271.4h0M307.9 268.3h0M299.8 274.1h0M313.2 234.5h0M302.2 271.9h0M297.0 291.7h0M306.8 249.0h0M308.6 290.9h0M312.2 256.2h0M312.3 245.8h0M301.3 263.4h0" stroke="#34499f" stroke-width="1.2" stroke-linecap="round" stroke-opacity="0.8" fill="none"/>
<path d="M298.0 281.0h0M308.3 293.7h0M310.7 256.7h0M306.5 258.0h0M312.8 220.0h0M303.6 265.8h0M311.4 241.6h0M312.1 247.8h0M312.8 286.3h0M310.6 295.2h0M304.1 295.0h0M304.7 254.0h0M310.6 282.7h0M313.0 286.1h0M310.4 268.0h0M312.9 271.9h0M304.1 273.3h0M310.7 240.6h0M311.0 297.9h0M297.7 283.7h0M313.3 216.8h0M301.1 299.7h0M308.8 240.2h0M312.6 279.5h0M299.4 290.7h0M299.0 272.7h0M308.7 295.4h0M309.8 259.6h0M311.1 269.4h0M306.8 263.6h0M313.0 282.8h0M298.7 294.7h0M306.0 277.2h0M312.8 225.7h0M313.2 248.9h0M312.7 242.3h0M312.9 229.4h0M311.7 234.5h0M310.7 259.9h0M308.7 282.9h0M304.3 293.6h0M305.4 278.8h0M300.7 266.9h0M302.4 272.6h0M311.1 255.9h0M302.8 269.5h0M301.7 269.9h0M300.3 275.4h0M310.2 286.7h0M309.8 209.8h0M310.8 233.4h0M304.4 293.7h0M311.9 239.5h0M309.2 239.8h0M309.8 286.5h0M310.7 280.7h0M313.0 248.8h0M312.6 227.7h0M300.3 269.7h0M312.6 233.2h0M293.6 296.3h0M309.7 270.0h0M309.9 275.2h0M306.0 298.1h0M311.5 260.3h0M302.5 281.0h0M305.5 291.4h0M309.1 285.5h0M300.9 286.5h0M313.1 234.8h0M310.7 279.4h0M312.3 276.2h0M307.3 274.1h0M305.1 287.3h0M310.5 275.5h0M312.9 278.6h0M309.2 295.0h0M309.9 263.8h0M312.1 224.8h0M308.1 257.2h0M311.3 267.2h0M312.4 234.9h0M312.5 249.6h0M309.7 233.2h0M310.6 270.6h0M296.1 289.7h0M308.1 265.7h0M311.0 283.5h0M310.2 275.9h0M309.8 295.9h0M313.2 264.8h0M288.9 288.7h0M307.9 276.1h0M305.3 294.9h0M309.6 277.4h0M313.1 225.6h0M313.2 272.5h0M306.1 266.5h0M303.5 265.4h0M311.8 281.0h0M312.3 240.3h0M312.1 291.3h0M311.5 250.6h0M309.4 299.4h0M310.7 286.3h0M311.1 265.7h0M310.8 291.4h0M312.4 252.7h0M311.5 249.8h0M306.8 268.3h0M308.4 257.5h0M312.8 238.5h0M310.7 277.6h0M308.3 286.7h0M311.9 256.1h0M308.5 269.4h0M308.7 298.1h0M310.5 260.0h0M311.4 239.3h0M312.2 248.7h0M311.7 218.8h0M311.2 295.9h0M301.9 259.9h0M296.6 294.1h0M312.9 215.1h0M307.2 251.2h0M303.7 262.8h0M304.2 252.3h0M311.3 222.0h0M311.5 274.7h0M306.3 246.1h0M313.2 216.6h0M306.2 268.5h0M299.8 286.2h0M305.2 283.4h0M294.8 280.7h0M310.4 255.5h0M311.4 256.9h0M302.2 265.6h0M312.5 286.3h0M311.1 265.0h0M302.0 280.8h0M308.2 298.2h0M311.5 237.0h0M301.6 282.2h0M303.3 294.0h0M312.8 281.8h0M308.9 253.2h0M302.8 254.6h0" stroke="#34499f" stroke-width="1.2" stroke-linecap="round" stroke-opacity="0.8" fill="none"/>
<path d="M306.4 264.8h0M313.1 252.0h0M305.1 290.1h0M309.4 252.1h0M298.9 279.9h0M308.6 271.4h0M311.7 243.6h0M309.5 270.0h0M306.9 261.3h0M307.6 260.2h0M313.2 249.9h0M308.9 295.5h0M311.9 269.8h0M305.1 297.6h0M307.9 300.2h0M312.4 248.0h0M312.1 275.7h0M297.5 285.2h0M307.1 287.3h0M313.2 248.0h0M307.4 262.6h0M310.8 269.2h0M312.1 241.3h0M311.3 252.5h0M302.0 274.9h0M308.0 271.0h0M310.1 266.9h0M305.3 272.5h0M311.5 263.2h0M313.4 223.0h0M306.9 278.0h0M312.6 292.9h0M299.7 284.6h0M309.3 271.9h0M312.0 245.0h0M301.7 297.8h0M309.2 254.2h0M312.5 285.6h0M311.0 265.5h0M312.6 250.7h0M313.3 258.3h0M313.3 281.1h0M312.9 264.0h0M307.7 260.5h0M310.4 256.9h0M311.8 252.5h0M312.8 231.9h0M304.2 259.3h0M302.5 259.2h0M309.0 264.5h0M299.0 268.8h0M307.4 260.7h0M298.5 296.9h0M308.6 259.9h0M310.1 259.2h0M301.2 297.2h0M310.4 293.7h0M309.8 261.5h0M312.6 281.2h0M303.6 263.7h0M312.3 265.4h0M311.7 254.0h0M311.0 268.4h0M307.4 285.2h0M300.3 291.3h0M294.0 286.4h0M313.3 296.1h0M304.6 290.5h0M311.4 245.0h0M309.4 246.2h0M312.3 297.5h0M304.3 274.5h0M309.6 266.4h0M312.7 254.0h0M304.7 268.5h0M308.7 291.5h0M311.2 234.6h0M309.5 252.7h0M307.8 266.8h0M307.9 289.7h0M306.1 265.0h0M310.0 274.8h0M312.2 291.3h0M304.1 250.1h0M309.2 223.4h0M304.6 270.6h0M312.2 226.5h0M307.6 286.6h0M309.1 283.6h0M305.9 267.6h0M298.7 287.5h0M300.4 285.1h0M309.7 233.3h0M312.5 258.1h0M309.0 280.2h0M303.9 297.9h0M302.1 262.8h0M304.7 251.1h0M311.6 249.5h0M306.7 288.5h0M303.6 276.8h0M305.3 252.3h0M302.9 272.5h0M297.3 292.5h0M312.8 296.6h0M308.3 259.5h0M304.5 298.5h0M312.5 290.5h0M301.8 293.4h0M309.3 240.1h0M312.8 279.8h0M312.3 291.6h0M309.2 288.2h0M312.3 216.5h0M302.6 294.1h0M300.9 289.2h0M305.6 280.8h0M310.0 269.0h0M309.2 266.1h0M305.4 288.8h0M312.3 281.3h0M312.2 256.8h0M305.8 295.5h0M309.4 262.0h0M296.7 273.3h0M310.7 277.1h0M306.1 279.7h0M312.2 250.7h0M307.5 258.7h0M312.5 288.3h0M300.6 269.1h0M306.4 278.2h0M307.6 277.7h0M309.6 248.3h0M305.3 287.5h0M312.6 269.0h0M313.1 248.9h0M310.4 266.2h0M308.2 263.1h0M312.0 284.7h0M308.3 268.7h0M289.8 300.7h0M299.4 286.2h0M311.8 277.0h0M309.5 277.2h0M293.1 300.7h0M298.2 274.2h0M303.4 293.4h0M310.7 255.6h0" stroke="#34499f" stroke-width="1.2" stroke-linecap="round" stroke-opacity="0.8" fill="none"/>
<path d="M312.1 288.2h0M313.2 291.0h0M313.2 280.8h0M309.9 239.2h0M312.5 287.9h0M303.4 260.0h0M309.1 280.7h0M311.8 285.3h0M311.9 234.1h0M311.7 276.8h0M309.5 271.6h0M304.0 289.6h0M299.0 300.4h0M311.3 264.3h0M313.3 228.8h0M307.2 285.6h0M311.4 300.7h0M312.0 278.7h0M308.8 259.6h0M310.2 258.1h0M300.9 285.0h0M307.3 297.2h0M304.9 257.2h0M302.7 258.2h0M312.9 258.4h0M313.2 267.6h0M311.5 239.3h0M311.5 222.5h0M304.9 290.2h0M309.5 300.2h0M302.6 259.5h0M312.5 279.7h0M302.9 264.6h0M300.3 270.9h0M310.9 272.3h0M313.1 224.9h0M312.7 273.4h0M310.3 260.9h0M305.8 284.4h0M313.3 276.3h0M312.8 228.1h0M301.8 268.1h0M310.4 233.3h0M303.6 260.6h0M305.6 288.3h0M301.9 281.7h0M300.8 272.1h0M298.2 289.1h0M308.8 247.8h0M308.7 280.4h0M307.9 299.3h0M312.7 271.4h0M310.4 237.5h0M312.7 235.3h0M307.7 245.5h0M293.4 286.7h0M302.7 266.1h0M309.5 293.7h0M309.5 270.3h0M312.2 273.0h0M310.1 281.9h0M293.5 296.5h0M300.8 286.6h0M304.6 291.4h0M313.2 212.0h0M313.3 241.7h0M311.5 241.1h0M301.4 269.0h0M311.2 281.7h0M307.4 273.9h0M310.6 289.1h0M312.4 294.9h0M305.4 281.8h0M309.0 227.2h0M307.3 251.5h0M295.4 278.5h0M312.6 246.8h0M311.6 279.3h0M310.8 289.7h0M302.5 287.0h0M302.2 292.1h0M312.7 214.6h0M310.9 254.3h0M310.1 257.4h0M306.6 257.0h0M304.7 291.6h0M304.6 296.3h0M313.3 261.7h0M313.2 229.4h0M307.1 289.6h0M301.7 267.3h0M311.2 272.4h0M313.4 276.8h0M308.0 261.8h0M312.8 264.5h0M301.5 293.6h0M309.1 250.2h0M313.0 250.5h0M308.1 280.9h0M299.7 299.6h0M312.8 283.4h0M307.7 263.3h0M311.3 233.3h0M306.7 286.8h0M310.8 294.5h0M311.0 230.7h0M306.5 271.7h0M310.9 224.5h0M307.5 294.9h0M292.1 287.8h0M295.9 283.5h0M310.6 238.6h0M307.4 256.5h0M311.9 236.3h0M306.1 273.7h0M312.6 267.1h0M312.2 234.2h0M308.5 240.7h0M296.8 289.2h0M303.2 250.8h0M303.0 273.2h0M307.6 265.7h0M310.9 230.8h0M301.0 299.9h0M311.8 298.6h0M311.0 220.1h0M306.1 271.1h0M309.0 248.5h0M301.9 277.6h0M308.5 281.5h0M296.5 298.5h0M300.1 284.2h0M307.5 264.6h0M306.3 256.8h0M313.0 258.5h0M309.5 251.1h0M301.8 260.3h0M307.7 278.9h0M313.2 266.6h0M312.3 288.2h0M312.3 261.0h0M313.3 271.7h0M305.6 287.2h0M312.1 271.0h0M297.2 282.1h0M300.8 270.1h0M309.6 241.6h0M310.2 272.0h0M298.4 291.1h0M309.8 237.3h0M311.7 265.2h0M312.7 285.0h0M305.2 262.1h0M302.9 278.7h0M311.7 242.2h0M310.7 239.0h0M309.8 265.0h0M313.0 291.0h0M311.6 237.9h0M312.3 282.6h0M309.8 234.1h0M296.4 273.8h0M300.7 283.1h0M306.2 276.4h0M305.5 277.3h0M297.8 284.8h0M305.7 266.4h0M304.3 298.1h0M310.2 280.9h0M308.5 286.1h0M313.4 281.6h0M312.3 276.4h0M311.7 291.1h0M312.7 276.7h0M301.3 293.5h0M311.2 237.1h0M302.2 269.1h0M298.4 264.9h0M303.9 283.2h0M313.2 277.0h0M303.9 283.5h0M301.1 295.9h0M310.2 268.2h0M309.6 284.4h0" stroke="#8290cf" stroke-width="1.2" stroke-linecap="round" stroke-opacity="0.8" fill="none"/>
<path d="M302.3 279.2h0M313.4 240.4h0M304.9 262.5h0M300.1 287.4h0M310.7 279.9h0M306.0 273.6h0M296.8 292.1h0M311.8 241.5h0M308.6 268.8h0M297.2 296.1h0M312.7 263.9h0M304.7 275.0h0M309.3 297.8h0M310.5 258.1h0M300.5 278.5h0M310.5 268.8h0M307.2 264.1h0M305.4 245.5h0M309.4 281.4h0M312.0 289.5h0M308.4 277.3h0M310.0 259.0h0M301.2 297.1h0M311.3 294.8h0M302.3 273.3h0M305.9 285.7h0M312.7 272.4h0M306.5 258.2h0M313.3 260.1h0M307.6 265.8h0M302.7 261.5h0M300.7 272.6h0M301.0 288.7h0M312.4 237.5h0M309.2 265.2h0M308.2 238.9h0M308.9 294.5h0M312.3 227.2h0M309.8 264.0h0M306.2 288.0h0M309.0 294.1h0M309.8 277.3h0M311.0 283.5h0M313.1 237.7h0M308.0 292.3h0M310.3 243.7h0M291.0 284.0h0M312.4 262.4h0M291.4 296.8h0M298.0 293.9h0M309.7 251.8h0M313.4 269.8h0M312.1 235.5h0M310.7 260.8h0M313.1 209.4h0M301.6 274.8h0M312.2 239.9h0M303.7 300.3h0M310.1 286.4h0M308.5 261.0h0M305.2 284.9h0M310.6 232.3h0M308.9 298.9h0M305.7 288.7h0M310.8 274.9h0M309.4 281.3h0M312.8 283.7h0M305.2 281.6h0M313.0 272.0h0M310.2 283.9h0M309.0 272.5h0M313.3 287.2h0M308.4 283.4h0M307.6 281.3h0M304.0 293.9h0M313.1 278.7h0M312.4 239.0h0M309.4 276.1h0M304.7 291.7h0M306.8 282.9h0M306.4 292.7h0M308.3 293.6h0M310.3 283.6h0M295.4 290.0h0M306.3 297.7h0M305.8 265.1h0M305.1 253.4h0M298.7 264.2h0M307.6 280.2h0M310.7 286.2h0M313.1 293.2h0M290.8 291.8h0M310.5 285.4h0M307.7 290.6h0M313.4 238.5h0M312.1 290.8h0M311.2 229.6h0M308.1 244.1h0M310.1 265.4h0M305.7 268.9h0M312.6 235.5h0M311.8 277.7h0M312.6 297.3h0M301.3 264.1h0M307.2 300.1h0M309.4 267.5h0M304.2 272.1h0M306.2 255.7h0M300.7 275.1h0M289.9 298.6h0M311.0 252.2h0M301.4 282.5h0M309.2 279.7h0M305.1 265.9h0M312.4 284.7h0M313.0 218.9h0M309.7 278.1h0M301.6 265.1h0M311.5 296.8h0M308.0 257.4h0M312.9 252.3h0M309.6 247.6h0M294.2 281.5h0M305.9 298.8h0M305.1 281.1h0M313.4 270.2h0M308.3 252.5h0M312.1 254.8h0M303.2 250.2h0M298.7 283.1h0M309.5 279.7h0M311.6 231.4h0M308.8 289.2h0M301.0 263.8h0M306.6 275.1h0M309.8 251.8h0M301.1 300.9h0M302.0 279.6h0M310.3 264.1h0M302.0 287.3h0M304.2 268.4h0M312.9 236.4h0M307.7 261.6h0M311.7 255.4h0M310.4 238.0h0M307.1 286.7h0M312.0 281.8h0M312.0 274.7h0M309.3 269.0h0M313.1 284.1h0M308.0 267.4h0M312.8 294.4h0M307.0 291.3h0M312.1 248.3h0M309.5 240.2h0M313.3 268.7h0M300.7 279.7h0M312.5 231.0h0M310.0 255.7h0M309.1 286.5h0M312.9 261.7h0M307.0 289.6h0M308.8 245.1h0M303.9 298.3h0M312.8 273.9h0M312.3 230.6h0M312.0 246.3h0M308.0 290.6h0M303.7 265.3h0M313.0 218.1h0M305.1 297.9h0M306.7 273.2h0M299.7 273.0h0M300.8 275.7h0M305.8 296.6h0M300.4 279.0h0M310.8 235.4h0M311.4 222.2h0M312.3 256.1h0M312.6 289.4h0M309.3 273.5h0M312.5 284.1h0M312.4 231.4h0M312.2 262.2h0" stroke="#8290cf" stroke-width="1.2" stroke-linecap="round" stroke-opacity="0.8" fill="none"/>
<path d="M312.0 238.9h0M297.0 279.7h0M300.1 286.3h0M305.6 258.4h0M307.7 269.6h0M305.7 289.4h0M307.5 267.9h0M293.5 290.8h0M312.6 215.4h0M307.5 295.6h0M312.5 241.3h0M311.7 298.6h0M297.9 275.6h0M306.3 282.2h0M302.5 284.2h0M311.4 270.1h0M310.3 260.4h0M309.6 295.7h0M306.0 274.0h0M311.8 257.7h0M312.1 229.4h0M313.1 298.9h0M304.8 275.2h0M311.0 207.0h0M303.1 297.7h0M313.0 262.5h0M310.5 238.2h0M310.3 223.1h0M304.3 268.6h0M306.9 251.1h0M305.2 269.0h0M310.9 296.8h0M313.2 239.1h0M312.5 287.8h0M308.4 264.6h0M303.6 287.1h0M311.4 270.0h0M312.1 247.2h0M312.6 266.3h0M306.2 294.3h0M305.5 245.5h0M308.6 266.2h0M302.9 292.1h0M313.0 264.8h0M313.2 231.7h0M307.7 291.6h0M306.8 277.6h0M313.0 263.6h0M305.1 287.6h0M309.9 287.0h0M309.3 288.8h0M298.8 289.6h0M310.2 242.9h0M305.2 293.2h0M312.6 237.5h0M312.4 265.4h0M313.2 232.6h0M308.7 274.0h0M308.6 252.3h0M312.4 292.3h0M307.6 272.0h0M308.5 277.4h0M292.0 298.1h0M308.7 277.2h0M293.7 299.7h0M310.1 291.4h0M309.9 259.0h0M309.1 258.3h0M311.4 264.3h0M312.4 246.6h0M300.1 286.8h0M304.6 271.6h0M308.1 277.6h0M310.3 242.3h0M308.1 291.2h0M304.9 263.9h0M312.0 244.4h0M308.3 290.6h0M312.6 228.6h0M311.9 224.6h0M310.9 234.2h0M309.9 279.8h0M292.7 289.9h0M312.4 291.3h0M307.0 285.7h0M307.2 267.3h0M311.0 249.0h0M311.3 249.2h0M298.5 289.6h0M310.6 234.9h0M298.9 281.1h0M301.9 273.8h0M305.8 291.3h0M296.2 274.8h0M305.7 266.8h0M311.8 283.5h0M313.3 269.6h0M291.0 291.0h0M309.5 299.1h0M309.8 253.6h0M311.0 230.3h0M307.2 285.7h0M306.3 267.8h0M311.2 281.2h0M305.5 276.9h0M310.0 290.4h0M308.2 252.9h0M311.4 293.9h0M310.0 295.3h0M312.2 282.5h0M311.0 286.7h0M312.8 260.4h0M310.7 288.7h0M313.1 231.2h0M311.1 257.3h0M295.5 298.9h0M312.1 255.1h0M305.7 259.9h0M309.7 269.5h0M294.6 283.8h0M308.6 287.2h0M310.2 244.5h0M306.9 253.7h0M308.3 249.0h0M310.0 250.1h0M310.0 265.4h0M297.8 289.1h0M299.8 282.8h0M311.0 291.8h0M308.6 273.5h0M312.8 230.9h0M312.9 247.6h0M313.1 278.7h0M304.1 278.2h0M301.9 288.8h0M311.6 214.2h0M313.1 236.3h0M305.1 300.6h0M305.9 245.4h0M303.6 259.9h0M306.5 286.9h0M309.4 292.1h0M307.6 287.7h0M304.6 254.1h0M310.8 283.8h0M308.0 257.3h0M313.2 243.2h0M312.5 272.4h0M304.7 264.2h0M304.2 279.9h0M311.2 286.5h0M297.3 290.8h0M304.5 277.2h0M311.9 299.5h0M312.4 275.0h0M311.5 299.6h0M312.8 262.6h0M313.1 267.8h0M307.3 288.6h0M310.5 286.5h0M304.9 297.7h0M306.3 274.0h0M303.3 284.3h0M310.0 238.7h0M311.0 261.1h0M312.9 245.1h0M308.4 297.4h0M312.7 259.9h0M294.3 276.0h0M304.9 288.9h0M304.8 298.7h0M303.2 279.7h0M301.1 274.5h0M310.5 252.0h0M306.3 294.9h0M309.2 275.1h0M308.9 269.5h0M307.0 289.4h0M293.3 294.1h0M311.3 299.7h0M298.9 283.3h0M305.1 278.8h0M303.6 268.7h0M311.3 214.8h0" stroke="#8290cf" stroke-width="1.2" stroke-linecap="round" stroke-opacity="0.8" fill="none"/>
<path d="M330.3 220.0h0M337.1 202.7h0M336.0 223.7h0M321.2 241.0h0M322.5 212.8h0M325.4 239.8h0M333.9 213.2h0M328.9 222.5h0M334.6 236.4h0M330.2 246.9h0M322.5 222.1h0M336.6 235.1h0M324.3 221.3h0M330.9 211.9h0M329.2 219.1h0" stroke="#ee9a8e" stroke-width="1.1" stroke-linecap="round" stroke-opacity="0.85" fill="none"/>
<path d="M327.9 219.3h0M333.3 231.3h0M336.2 232.2h0M323.3 256.0h0M336.4 239.6h0M336.4 230.6h0M334.6 212.9h0M325.0 206.6h0M321.6 252.9h0M329.0 225.0h0M334.5 214.3h0M331.2 214.2h0M334.6 247.6h0M336.4 233.3h0M332.6 261.0h0" stroke="#ee9a8e" stroke-width="1.1" stroke-linecap="round" stroke-opacity="0.85" fill="none"/>
<path d="M336.6 254.0h0M323.4 257.6h0M338.0 252.0h0M326.6 209.7h0M326.7 216.3h0M329.6 207.3h0M336.8 225.0h0M336.1 225.8h0M335.0 219.5h0M322.3 200.9h0M333.2 247.6h0M337.0 226.1h0M334.1 244.6h0M324.4 224.6h0M328.4 244.6h0" stroke="#ee9a8e" stroke-width="1.1" stroke-linecap="round" stroke-opacity="0.85" fill="none"/>
<path d="M325.0 287.0h0M325.2 267.9h0M320.9 256.7h0M325.3 278.6h0M321.6 269.8h0M323.1 277.3h0M329.1 298.8h0M328.6 267.4h0M328.3 296.4h0M337.4 291.1h0M326.0 272.8h0M328.6 297.3h0M321.8 290.6h0M329.3 297.8h0M321.3 267.5h0M337.0 282.5h0M323.9 243.5h0M323.3 265.4h0M326.9 290.2h0M327.7 289.4h0M326.2 280.2h0M334.2 294.9h0M325.1 253.6h0M329.5 292.0h0M333.6 290.0h0M323.3 257.6h0M336.0 293.7h0M333.4 289.3h0M327.6 284.2h0M322.2 261.9h0M327.8 301.7h0M321.1 266.9h0M336.2 282.6h0M324.5 279.7h0M325.8 291.2h0M323.1 251.0h0M338.2 284.4h0M326.5 290.2h0M322.5 252.8h0M333.8 297.3h0M323.9 274.9h0M322.7 283.3h0M334.3 300.6h0M330.6 273.0h0M321.4 276.1h0M323.4 270.7h0M329.9 277.0h0M321.4 281.5h0M324.1 288.2h0M333.2 288.5h0M320.8 298.8h0M323.7 294.6h0M325.9 257.3h0M323.7 298.5h0M326.8 264.6h0M323.7 278.7h0M329.1 265.0h0M326.3 290.3h0M329.3 292.2h0M326.7 283.1h0M321.0 275.3h0M322.8 287.3h0M321.9 278.6h0M326.5 266.4h0M323.2 271.3h0M328.4 282.6h0M332.0 283.9h0M324.2 262.2h0M329.5 286.3h0M325.0 256.1h0M334.2 296.7h0M321.7 286.7h0M334.0 275.0h0M322.8 278.0h0M320.6 252.8h0M320.5 286.2h0M320.9 255.7h0M321.8 267.4h0M327.5 271.2h0M329.4 289.7h0M338.8 299.9h0M328.8 271.8h0M321.9 285.7h0M330.6 281.7h0M325.8 267.1h0M324.2 281.9h0M324.2 286.3h0M327.8 290.5h0M322.6 289.3h0M326.2 296.0h0M322.8 248.8h0M320.8 288.4h0M324.1 274.6h0M326.7 295.3h0M322.0 261.5h0M325.3 278.2h0M320.5 287.3h0M321.3 286.9h0M336.4 300.9h0M327.3 274.7h0M326.7 265.3h0M335.0 300.0h0M321.5 243.7h0M323.1 298.8h0M325.7 285.6h0" stroke="#f3a498" stroke-width="1.2" stroke-linecap="round" stroke-opacity="0.8" fill="none"/>
<path d="M335.3 294.5h0M326.6 266.7h0M326.3 293.5h0M333.0 295.0h0M326.8 291.7h0M324.2 271.7h0M322.3 285.5h0M320.7 254.3h0M323.1 266.3h0M326.3 278.2h0M327.4 275.7h0M325.6 246.4h0M322.6 247.8h0M322.8 285.6h0M320.8 292.8h0M346.1 302.7h0M321.3 260.3h0M324.6 253.8h0M324.8 296.1h0M329.1 288.5h0M328.2 300.8h0M323.5 260.1h0M340.2 288.4h0M322.3 286.1h0M321.4 282.2h0M323.4 296.2h0M330.7 293.6h0M320.8 267.6h0M320.7 285.1h0M321.3 270.7h0M322.8 273.8h0M322.2 245.5h0M330.9 290.9h0M328.2 278.4h0M331.4 276.1h0M322.6 279.6h0M321.4 286.7h0M325.4 295.1h0M338.1 279.8h0M328.3 282.7h0M325.0 296.9h0M326.9 279.5h0M332.3 273.9h0M322.0 293.7h0M332.4 272.0h0M327.8 263.2h0M324.9 301.1h0M321.0 276.4h0M326.4 261.4h0M326.7 299.5h0M322.2 255.1h0M344.3 298.4h0M325.0 279.1h0M321.7 272.6h0M321.7 248.9h0M324.9 272.5h0M322.7 284.5h0M321.2 285.6h0M327.3 285.0h0M329.7 273.6h0M320.8 272.0h0M322.0 302.2h0M323.9 287.7h0M323.5 261.6h0M322.8 269.9h0M321.4 265.1h0M342.5 296.6h0M324.1 258.4h0M331.2 301.9h0M322.8 260.2h0M326.2 273.9h0M325.1 250.9h0M321.4 293.3h0M330.4 296.7h0M321.4 276.2h0M320.5 293.9h0M333.6 280.0h0M324.8 292.9h0M335.5 290.6h0M333.6 289.0h0M323.0 269.4h0M327.6 282.2h0M323.0 256.1h0M326.9 276.5h0M325.4 293.9h0M322.5 297.0h0M322.9 280.6h0M331.8 278.3h0M328.8 284.5h0M321.8 297.1h0M323.9 273.0h0M324.4 294.2h0M326.6 287.9h0M321.5 270.7h0M327.1 287.8h0M323.4 279.9h0M321.9 273.1h0M323.0 272.4h0M336.1 290.7h0M323.2 288.7h0M321.8 259.3h0M321.0 265.3h0M323.6 268.3h0M323.6 291.8h0M321.2 293.9h0" stroke="#f3a498" stroke-width="1.2" stroke-linecap="round" stroke-opacity="0.8" fill="none"/>
<path d="M324.1 292.8h0M331.8 300.5h0M334.0 291.1h0M324.0 269.9h0M323.2 281.2h0M340.6 285.4h0M334.2 282.4h0M327.3 274.9h0M320.9 254.7h0M320.4 260.2h0M325.8 257.4h0M328.0 267.1h0M320.6 264.2h0M321.5 281.4h0M330.0 286.4h0M324.8 270.9h0M324.6 265.2h0M333.0 295.0h0M328.7 291.3h0M330.6 281.8h0M327.5 272.3h0M321.5 264.9h0M326.6 274.1h0M320.7 273.9h0M325.6 259.8h0M327.2 290.5h0M321.6 260.4h0M326.5 293.2h0M332.4 287.1h0M324.4 271.2h0M333.1 287.9h0M323.4 274.3h0M332.9 282.2h0M330.1 298.5h0M325.3 282.8h0M325.3 279.3h0M321.5 259.9h0M322.9 281.5h0M326.2 265.3h0M337.6 295.0h0M323.2 268.8h0M325.2 283.6h0M332.4 277.2h0M327.4 300.6h0M323.6 248.6h0M322.7 295.4h0M339.6 295.4h0M324.8 256.9h0M322.5 270.9h0M324.3 290.0h0M323.5 285.5h0M322.3 271.8h0M321.9 289.5h0M325.6 272.4h0M320.5 266.3h0M320.5 290.9h0M329.8 284.9h0M321.8 255.7h0M329.4 290.8h0M346.5 298.5h0M321.1 281.3h0M321.4 292.3h0M320.4 273.6h0M327.2 277.2h0M325.9 290.8h0M335.3 294.5h0M326.5 269.8h0M325.0 277.1h0M331.4 281.7h0M327.2 301.5h0M321.4 282.6h0M327.2 293.9h0M335.4 301.8h0M336.0 286.6h0M330.6 287.5h0M322.5 276.6h0M332.6 282.3h0M338.1 302.6h0M322.8 275.8h0M333.7 279.9h0M321.4 260.3h0M325.4 280.8h0M321.1 271.3h0M326.7 268.1h0M328.1 294.3h0M325.0 287.8h0M322.5 282.1h0M329.1 290.9h0M324.4 261.1h0M327.1 266.2h0M326.0 257.7h0M325.8 269.1h0M322.5 301.9h0M332.0 295.5h0M325.5 293.4h0M321.5 288.3h0M324.1 265.7h0M321.0 281.4h0M323.0 286.2h0M329.0 277.8h0M321.0 264.8h0M340.9 283.5h0M325.2 275.5h0M323.1 273.1h0" stroke="#f3a498" stroke-width="1.2" stroke-linecap="round" stroke-opacity="0.8" fill="none"/>
<path d="M322.8 268.8h0M321.7 298.8h0M342.2 296.7h0M322.8 272.2h0M328.9 292.0h0M320.4 272.4h0M320.7 267.5h0M321.0 266.9h0M331.2 295.8h0M336.0 290.1h0M328.7 293.6h0M326.0 278.0h0M328.6 279.6h0M342.0 300.6h0M323.9 289.9h0M321.2 297.9h0M327.9 274.9h0M328.8 275.6h0M321.4 286.8h0M327.9 275.5h0M339.9 293.2h0M327.2 274.1h0M327.5 271.8h0M322.5 297.2h0M336.9 296.8h0M329.1 289.8h0M327.1 296.1h0M325.1 300.5h0M326.6 301.5h0M324.4 262.7h0M325.8 270.6h0M339.1 293.2h0M321.1 268.2h0M325.1 287.5h0M327.3 264.7h0M327.4 267.1h0M333.2 284.1h0M324.2 274.7h0M320.5 259.6h0M324.1 291.6h0M323.8 273.5h0M330.5 276.4h0M327.1 286.5h0M320.6 261.4h0M323.9 286.0h0M326.4 268.5h0M323.9 292.9h0M321.9 273.8h0M333.0 296.6h0M329.3 280.3h0M333.7 297.8h0M334.6 294.1h0M324.4 300.1h0M324.8 282.4h0M323.2 276.8h0M329.6 274.8h0M335.7 299.3h0M324.7 299.2h0M329.6 293.0h0M331.2 290.9h0M322.3 266.5h0M322.1 300.9h0M323.3 287.5h0M324.2 269.9h0M332.8 288.8h0M320.3 258.3h0M325.0 273.3h0M324.8 268.1h0M328.3 284.9h0" stroke="#e4483a" stroke-width="1.2" stroke-linecap="round" stroke-opacity="0.8" fill="none"/>
<path d="M324.4 285.4h0M329.9 265.7h0M324.2 287.3h0M340.2 288.4h0M322.8 247.5h0M324.9 272.5h0M326.3 293.1h0M340.9 299.0h0M321.3 300.5h0M320.8 249.2h0M322.6 292.8h0M321.5 301.3h0M337.3 294.1h0M326.5 266.6h0M322.3 273.1h0M323.5 260.7h0M333.6 286.3h0M321.5 296.6h0M325.0 261.4h0M337.4 295.2h0M322.2 280.0h0M320.4 286.3h0M337.8 290.4h0M321.9 258.6h0M331.7 295.1h0M328.8 278.8h0M321.0 271.4h0M322.7 278.8h0M323.0 269.5h0M339.1 292.5h0M321.9 275.0h0M329.1 283.3h0M322.8 284.0h0M324.7 264.0h0M325.3 265.8h0M322.6 258.2h0M329.5 299.2h0M320.9 286.1h0M322.6 282.4h0M323.2 263.2h0M335.9 300.4h0M320.3 293.4h0M322.5 246.0h0M326.6 290.5h0M323.5 286.1h0M320.8 266.5h0M325.1 274.5h0M321.4 256.9h0M334.3 269.2h0M322.8 267.9h0M324.9 270.1h0M324.9 254.2h0M337.7 282.0h0M331.6 292.0h0M326.2 275.0h0M327.1 279.9h0M322.0 265.1h0M326.0 267.1h0M332.4 299.3h0M324.4 277.0h0M322.2 273.6h0M324.5 275.2h0M324.3 284.7h0M341.2 300.4h0M321.4 273.6h0M337.7 288.9h0M332.2 268.7h0M325.0 282.8h0M326.6 264.5h0" stroke="#e4483a" stroke-width="1.2" stroke-linecap="round" stroke-opacity="0.8" fill="none"/>
<path d="M320.9 295.4h0M330.8 280.2h0M324.4 288.5h0M321.9 246.3h0M334.8 299.9h0M327.2 267.7h0M330.4 285.9h0M328.5 299.4h0M340.1 296.6h0M321.2 295.6h0M326.1 279.7h0M321.7 261.2h0M321.4 256.7h0M335.2 289.2h0M329.6 276.7h0M325.5 289.8h0M329.9 286.4h0M320.8 254.4h0M321.6 253.7h0M337.7 296.7h0M331.8 275.4h0M337.4 290.2h0M327.3 269.4h0M324.1 271.2h0M321.0 260.7h0M322.6 254.3h0M329.5 277.1h0M323.8 275.1h0M322.2 255.3h0M322.8 286.3h0M329.1 284.4h0M329.6 296.2h0M324.5 272.4h0M332.3 293.5h0M322.1 268.2h0M336.4 289.0h0M322.8 281.6h0M320.8 289.8h0M320.9 283.3h0M325.5 279.1h0M329.2 296.7h0M321.2 277.2h0M331.6 281.6h0M325.5 287.8h0M320.9 284.8h0M334.2 281.8h0M321.5 258.8h0M324.0 292.8h0M321.0 297.6h0M330.6 298.2h0M320.8 272.9h0M334.1 300.5h0M321.4 256.3h0M336.3 294.2h0M323.8 296.7h0M322.0 274.3h0M324.9 260.2h0M324.0 263.8h0M327.9 285.5h0M333.4 286.8h0M323.5 256.6h0M323.9 270.0h0M324.6 282.5h0M326.4 292.4h0M324.4 247.5h0M328.6 293.9h0M343.8 298.5h0M322.8 296.3h0" stroke="#e4483a" stroke-width="1.2" stroke-linecap="round" stroke-opacity="0.8" fill="none"/>
<path d="M320.7 290.0h0M324.5 287.3h0M321.0 282.3h0M324.6 298.1h0M325.4 294.1h0M321.7 291.6h0M326.2 281.1h0M327.3 280.9h0M326.8 290.2h0M324.1 288.2h0M323.6 286.5h0M324.3 294.3h0M324.5 300.2h0M321.5 289.7h0M325.3 301.3h0M321.7 287.2h0M324.3 282.4h0M325.0 294.4h0M322.6 282.9h0M323.9 300.6h0M321.9 297.3h0M321.0 299.1h0M323.2 280.3h0M323.7 281.6h0M324.2 283.1h0M321.0 287.5h0M327.1 279.7h0M325.1 300.9h0M326.8 292.1h0M321.2 278.8h0" stroke="#8a1810" stroke-width="1.2" stroke-linecap="round" stroke-opacity="0.85" fill="none"/>
<path d="M321.8 301.0h0M320.6 283.3h0M325.2 291.3h0M323.1 278.3h0M324.3 301.0h0M327.3 300.4h0M325.8 288.2h0M322.9 294.4h0M322.8 289.4h0M325.5 295.3h0M326.9 290.4h0M324.3 287.7h0M326.9 289.0h0M322.3 294.7h0M325.1 288.9h0M322.8 280.8h0M321.3 288.2h0M321.9 295.5h0M323.4 297.9h0M324.7 291.6h0M324.9 286.2h0M322.6 291.2h0M325.7 296.2h0M321.6 299.0h0M324.7 288.1h0M321.7 292.9h0M324.7 283.9h0M323.0 284.4h0M322.4 281.5h0M326.3 293.5h0" stroke="#8a1810" stroke-width="1.2" stroke-linecap="round" stroke-opacity="0.85" fill="none"/>
<path d="M326.1 301.8h0M321.0 289.9h0M322.2 301.1h0M325.6 301.5h0M320.9 281.3h0M324.8 291.5h0M326.1 288.3h0M322.0 287.9h0M323.4 289.1h0M327.1 278.7h0M326.4 279.0h0M323.7 294.8h0M326.8 278.7h0M324.3 289.5h0M321.5 293.7h0M321.8 278.9h0M325.8 301.9h0M323.1 295.5h0M327.5 299.1h0M325.8 280.2h0M323.0 300.9h0M321.8 298.7h0M325.6 286.2h0M323.0 283.8h0M326.2 278.5h0M325.8 283.2h0M327.5 280.9h0M322.5 292.0h0M326.5 301.1h0M321.4 301.5h0" stroke="#8a1810" stroke-width="1.2" stroke-linecap="round" stroke-opacity="0.85" fill="none"/>
<path d="M331.3 297.1h0M332.7 297.6h0M337.7 298.0h0M340.8 293.8h0M328.4 298.4h0M334.0 302.5h0M335.2 297.9h0M340.9 290.1h0M331.5 299.5h0M333.5 304.9h0M320.3 298.6h0M339.4 293.3h0M338.0 295.9h0M332.4 300.2h0M324.6 303.0h0M330.2 303.7h0M338.5 293.4h0M321.1 298.5h0M329.9 301.4h0M328.9 298.8h0M320.5 304.6h0M341.6 304.2h0M332.9 302.9h0M322.7 301.9h0M326.9 303.8h0M330.9 296.5h0M341.4 296.0h0M327.5 299.1h0M331.9 297.4h0M326.4 299.4h0M341.4 304.3h0M337.0 300.7h0M334.5 298.6h0M337.7 298.1h0M331.0 304.5h0M339.3 303.3h0" stroke="#111" stroke-width="1.2" stroke-linecap="round" stroke-opacity="0.85" fill="none"/>
<path d="M330.7 302.8h0M338.5 302.1h0M335.9 303.2h0M338.7 301.4h0M332.7 295.0h0M337.9 293.3h0M341.7 303.6h0M332.7 299.6h0M332.1 296.1h0M336.0 293.1h0M339.5 295.7h0M324.9 304.1h0M322.8 301.3h0M339.5 299.6h0M322.3 303.6h0M340.0 297.3h0M332.7 298.1h0M333.3 298.9h0M337.3 299.4h0M336.2 297.9h0M339.4 303.6h0M340.1 298.4h0M333.3 302.4h0M328.9 299.9h0M339.8 304.2h0M324.4 301.8h0M331.2 298.7h0M333.3 299.9h0M336.1 297.1h0M341.0 295.9h0M337.1 303.9h0M332.0 303.7h0M337.2 304.3h0M320.9 299.6h0M336.9 300.1h0M339.4 293.1h0" stroke="#111" stroke-width="1.2" stroke-linecap="round" stroke-opacity="0.85" fill="none"/>
<path d="M332.9 297.7h0M335.3 303.3h0M324.7 304.6h0M341.1 304.1h0M332.0 303.4h0M337.3 294.4h0M329.6 302.6h0M341.8 300.6h0M335.2 296.0h0M335.1 293.2h0M330.6 300.7h0M328.4 302.0h0M321.1 299.4h0M324.4 303.1h0M321.8 301.3h0M339.1 298.0h0M336.3 299.3h0M321.6 301.6h0M330.3 301.2h0M340.8 301.9h0M337.4 305.0h0M331.2 298.0h0M331.0 297.8h0M327.5 303.4h0M330.1 300.2h0M335.8 302.5h0M327.5 297.9h0M336.2 304.9h0M321.4 304.0h0M336.5 297.6h0M336.5 302.9h0M334.4 293.6h0M326.4 304.5h0M331.7 297.1h0M340.0 299.2h0" stroke="#111" stroke-width="1.2" stroke-linecap="round" stroke-opacity="0.85" fill="none"/>
<path d="M309.5 305.0h0M316.2 306.5h0M314.1 305.8h0M312.3 306.3h0M335.3 300.0h0M317.4 305.5h0M326.6 304.7h0M326.8 304.1h0M333.2 301.7h0M319.1 306.7h0M313.7 305.1h0M328.4 302.6h0M318.4 303.6h0M332.4 302.3h0M331.0 303.6h0M314.2 306.1h0M328.5 303.9h0M314.3 306.7h0M326.6 304.6h0M326.3 305.2h0M303.1 301.7h0M318.4 303.9h0M313.1 305.4h0M332.1 301.5h0M321.1 302.3h0M308.8 303.8h0M330.2 304.6h0M310.7 305.1h0M314.1 305.6h0M314.6 306.7h0M331.9 303.1h0M320.1 305.5h0M322.6 305.5h0M323.6 305.0h0M314.5 304.8h0M319.3 306.1h0M321.6 304.2h0M332.1 301.0h0M308.6 303.0h0M314.7 302.5h0M322.3 305.8h0M330.1 302.6h0M320.7 302.3h0M322.6 305.6h0M323.1 306.8h0M323.8 305.6h0M328.7 303.2h0M326.0 304.5h0M311.3 306.0h0M327.1 305.0h0M315.5 306.5h0M302.2 300.5h0M345.4 291.5h0M323.7 305.9h0M344.8 292.8h0M315.7 306.6h0M318.7 305.8h0M320.8 305.8h0M342.8 293.2h0M334.7 301.8h0M326.0 303.6h0M332.6 302.1h0M319.3 305.6h0M319.2 307.3h0M321.7 305.7h0M339.7 296.9h0M325.6 304.6h0M329.0 303.7h0M307.3 303.2h0M312.1 304.4h0M318.5 305.9h0M330.8 301.7h0M316.5 307.2h0M318.6 306.1h0M315.2 305.0h0M322.0 305.9h0M330.7 301.2h0M321.1 305.0h0M322.0 305.8h0M310.2 304.6h0M320.1 302.2h0M319.8 306.8h0M308.8 304.8h0M334.3 298.7h0M340.0 295.5h0M315.3 307.1h0M329.1 304.3h0M322.6 306.4h0M326.8 304.9h0M323.7 306.2h0M309.8 305.4h0M327.9 302.2h0M311.7 303.8h0M322.3 303.5h0M318.1 304.5h0M311.8 305.7h0M330.8 304.2h0M306.4 301.2h0M313.1 305.8h0M334.4 301.2h0M303.7 302.2h0M326.8 302.5h0M320.3 306.9h0M315.3 305.5h0M338.4 297.4h0M318.3 303.8h0M328.8 302.3h0M315.6 304.7h0M334.5 299.5h0M317.9 303.4h0M315.0 306.9h0M330.2 300.8h0M314.4 301.6h0M311.4 304.7h0M327.0 303.2h0M321.1 307.2h0M331.2 303.5h0M323.9 303.9h0M296.9 296.8h0M321.6 306.6h0M315.7 306.8h0M325.7 305.7h0M317.4 302.0h0M325.9 306.1h0M321.5 305.9h0M310.6 304.4h0M332.1 302.8h0M327.3 303.4h0M323.0 306.7h0M320.5 307.2h0M327.1 304.2h0M320.3 305.0h0M305.9 303.0h0M326.4 306.0h0M331.9 303.2h0M318.7 305.5h0M313.9 305.1h0M317.2 305.7h0M323.6 304.6h0M318.5 307.1h0M317.8 305.1h0M324.0 304.4h0M302.8 301.8h0M316.5 306.7h0M329.2 302.4h0M333.2 301.9h0M326.7 305.4h0M325.7 304.9h0M330.4 303.0h0M310.5 304.4h0M336.1 299.4h0M300.9 300.6h0M317.0 305.5h0M329.3 304.2h0M309.2 303.7h0M328.2 302.7h0M322.5 305.0h0M313.7 306.7h0M327.0 305.3h0M317.8 305.7h0M323.8 304.6h0M336.7 300.3h0M310.1 303.5h0M333.6 301.5h0M313.2 305.1h0M304.9 301.2h0M325.8 305.9h0M323.3 306.4h0M316.8 304.8h0M321.9 306.6h0M318.7 305.8h0M320.5 306.3h0M330.9 303.8h0M318.9 306.8h0M320.0 307.1h0M311.9 306.3h0M334.5 302.0h0M329.3 304.8h0M322.6 304.2h0M316.8 305.1h0M310.8 302.9h0M327.9 305.5h0M339.1 298.2h0M328.0 302.5h0M322.1 306.3h0M340.1 297.4h0M322.6 306.4h0M304.6 303.0h0M331.3 302.8h0M324.2 303.2h0M295.9 295.4h0M326.4 303.6h0M325.3 304.4h0M300.6 300.1h0M341.7 295.6h0M319.7 305.8h0M294.1 294.2h0M311.7 306.0h0M330.2 304.2h0M327.9 304.3h0M319.6 305.2h0M315.2 305.4h0M328.5 304.7h0M314.6 305.7h0M334.0 300.4h0M327.3 305.1h0M326.0 305.9h0M330.6 303.3h0M328.0 301.1h0M310.1 304.6h0M327.0 303.7h0M329.1 303.4h0M333.2 302.3h0M312.5 302.9h0M314.1 305.8h0M328.1 305.2h0M325.4 303.6h0M316.5 305.9h0M323.7 306.0h0M301.6 300.9h0M334.3 302.2h0M331.4 302.7h0M321.6 304.9h0M320.9 307.2h0M327.8 305.2h0M329.0 304.3h0M333.2 302.5h0M345.5 290.4h0M328.0 303.9h0M330.8 303.5h0M309.0 304.7h0M333.3 299.9h0M336.8 298.3h0M309.8 303.5h0M337.7 298.7h0M309.1 304.9h0M335.4 298.8h0M320.8 306.8h0M324.8 306.3h0M310.1 305.7h0M329.1 304.3h0M328.2 304.3h0M306.4 304.1h0M320.0 306.2h0M308.8 304.6h0M323.2 306.5h0M343.6 292.8h0M316.0 302.7h0M314.0 305.0h0M323.6 305.5h0M340.7 296.6h0M316.6 301.6h0M325.2 306.3h0M318.1 304.0h0M326.2 303.6h0M333.4 302.2h0M319.0 307.1h0M325.7 305.3h0M314.8 305.0h0M317.1 305.7h0M317.3 304.7h0M322.0 305.3h0M333.5 299.6h0M317.5 304.3h0M298.8 298.4h0M326.7 304.2h0M317.6 305.0h0M321.3 307.0h0M296.7 297.2h0M337.9 299.5h0M335.0 300.9h0M309.1 305.1h0M320.0 303.4h0M313.5 303.9h0M318.7 306.8h0M322.9 305.8h0M319.6 304.7h0M320.9 306.9h0M305.8 301.5h0M302.2 299.0h0M321.0 305.4h0M319.7 306.3h0M323.5 306.0h0M317.3 304.5h0M315.0 306.5h0M306.6 302.2h0M325.8 303.7h0M325.7 304.5h0M325.2 305.4h0M330.0 304.4h0M311.6 306.1h0M320.7 303.7h0M330.2 302.5h0M317.6 305.3h0M323.5 304.2h0M323.7 306.6h0M325.4 306.2h0M329.5 303.9h0M317.9 305.9h0M326.3 306.0h0M318.0 304.0h0M306.3 304.2h0M327.5 302.1h0M308.9 303.2h0M320.7 307.1h0M319.6 306.2h0M323.6 300.5h0M303.5 300.3h0M311.8 303.6h0M315.7 306.5h0M328.2 305.1h0M323.1 306.7h0M327.7 303.7h0M306.5 304.3h0M316.1 306.9h0M332.0 302.0h0M317.2 303.9h0M317.3 307.1h0M312.4 306.5h0M320.0 306.6h0M331.7 303.4h0M307.1 303.2h0M318.0 306.8h0M314.3 306.0h0M318.0 307.0h0M322.2 306.4h0M337.0 299.5h0M334.2 300.6h0M324.9 306.4h0M327.6 303.6h0M330.3 302.6h0M312.6 301.7h0M332.5 300.6h0M341.9 294.6h0M317.2 304.5h0M326.9 305.1h0M315.0 299.7h0M321.2 306.3h0M333.0 301.1h0M319.0 304.0h0M329.5 302.9h0M327.1 304.8h0M336.9 297.2h0M326.6 304.6h0M311.6 305.6h0M316.4 307.0h0M319.1 303.3h0M305.1 302.5h0M317.7 304.6h0M318.1 305.4h0M315.1 306.5h0M303.4 301.0h0M319.7 306.9h0M312.9 305.2h0M318.2 306.1h0M300.2 298.0h0M331.8 302.1h0M319.5 306.1h0M319.2 307.0h0M306.1 301.5h0M330.9 301.7h0M325.5 304.0h0M323.0 305.6h0M334.4 299.9h0M340.9 295.7h0M328.8 304.6h0M312.3 304.5h0M323.6 306.6h0M313.2 301.8h0M318.1 304.9h0M329.7 302.2h0M314.7 306.7h0M320.2 305.3h0M316.4 305.5h0M305.5 303.2h0M311.5 305.1h0M328.2 304.0h0M321.7 305.9h0M326.2 304.8h0M333.4 302.3h0M323.1 305.3h0M327.7 303.6h0M316.9 306.4h0M325.9 303.5h0M343.0 293.9h0M313.9 305.0h0M324.4 304.0h0M314.9 307.0h0M330.1 303.2h0M321.6 306.7h0M316.3 305.1h0M338.9 295.5h0M308.7 304.5h0M317.3 305.6h0M328.1 305.5h0M328.5 305.3h0M321.1 306.0h0M315.1 304.3h0M305.3 303.2h0M307.6 303.2h0M321.5 304.6h0M318.2 307.2h0M320.3 306.5h0M342.0 295.3h0M335.1 300.9h0M336.6 297.8h0M314.8 305.9h0M337.7 296.5h0M321.7 306.7h0M320.7 306.6h0M315.7 305.5h0M318.3 307.1h0M316.3 304.0h0M324.5 304.8h0M317.2 306.3h0M316.6 306.6h0M308.3 303.7h0M315.2 305.7h0M329.4 304.0h0M341.6 295.0h0M323.4 304.2h0M314.8 306.1h0M314.0 304.2h0M336.8 299.9h0M328.9 304.3h0M315.8 304.9h0M315.8 305.3h0M324.0 304.9h0M310.4 305.0h0M326.8 303.4h0M312.0 305.8h0M306.0 304.0h0M319.9 305.3h0M319.8 305.6h0M322.5 304.5h0M326.7 304.6h0M333.9 301.1h0M324.3 305.6h0M325.5 303.7h0M316.0 306.1h0M315.9 302.0h0M328.8 302.4h0M323.8 306.7h0M317.2 305.8h0M303.1 300.8h0M313.6 306.8h0M318.7 307.0h0M331.2 302.0h0M312.3 302.1h0M319.3 306.2h0M312.7 305.5h0M326.9 303.5h0M313.2 305.3h0M328.1 303.9h0M304.4 299.4h0M320.0 307.0h0M324.8 305.2h0M332.1 301.4h0M329.0 304.3h0M313.0 303.5h0M310.8 304.4h0M328.3 303.6h0M327.9 304.8h0M330.9 303.3h0M318.2 303.9h0" stroke="#111" stroke-width="1.2" stroke-linecap="round" stroke-opacity="0.9" fill="none"/>
<path d="M333.6 301.2h0M315.2 306.0h0M332.6 301.0h0M323.0 307.0h0M318.9 305.2h0M312.2 306.0h0M330.6 302.7h0M313.5 304.9h0M312.0 305.7h0M328.9 305.1h0M327.1 305.6h0M325.5 306.2h0M324.0 306.7h0M321.1 306.9h0M338.2 296.7h0M319.3 306.9h0M326.1 304.8h0M314.7 305.3h0M316.0 304.8h0M314.7 305.8h0M314.6 303.4h0M295.2 295.4h0M321.4 305.5h0M325.3 305.7h0M337.6 299.6h0M319.2 306.5h0M319.7 307.1h0M322.9 304.3h0M319.3 305.1h0M316.7 306.8h0M331.7 302.1h0M331.4 301.8h0M328.0 304.7h0M314.9 304.5h0M308.8 302.7h0M317.1 307.2h0M304.9 300.2h0M328.5 303.5h0M319.7 307.3h0M325.3 306.0h0M313.2 304.8h0M326.8 305.0h0M317.7 306.4h0M316.0 306.4h0M326.0 306.2h0M319.0 306.6h0M318.6 307.4h0M323.1 306.8h0M321.7 305.2h0M326.0 303.0h0M303.9 302.7h0M322.3 306.2h0M323.0 301.1h0M330.4 304.3h0M315.4 303.8h0M328.1 303.4h0M309.7 304.9h0M307.9 304.9h0M313.0 303.8h0M317.6 307.4h0M319.5 305.9h0M315.8 304.3h0M331.5 302.3h0M321.2 303.7h0M311.5 306.0h0M325.9 305.4h0M320.7 306.4h0M307.7 303.6h0M321.9 306.2h0M318.4 305.8h0M338.1 296.7h0M316.4 303.2h0M317.1 307.3h0M317.0 302.7h0M336.5 299.9h0M330.6 302.3h0M322.7 304.7h0M306.4 302.1h0M318.1 304.7h0M325.9 305.8h0M306.6 302.1h0M332.0 303.0h0M323.3 304.4h0M328.0 302.5h0M312.4 304.3h0M315.9 306.2h0M321.0 306.6h0M321.0 307.1h0M312.1 302.5h0M332.1 301.9h0M336.3 299.4h0M314.1 305.4h0M324.5 306.2h0M318.9 305.5h0M337.6 298.9h0M323.0 305.7h0M323.5 304.1h0M303.2 298.6h0M325.6 306.2h0M339.8 298.0h0M306.2 302.1h0M322.9 306.0h0M321.9 303.8h0M321.6 306.2h0M314.3 305.5h0M327.2 305.9h0M306.6 302.5h0M318.2 305.0h0M316.6 305.4h0M322.1 307.1h0M309.0 305.4h0M324.4 305.1h0M328.8 303.3h0M302.6 301.2h0M328.0 305.0h0M331.4 302.2h0M339.6 293.7h0M319.5 305.0h0M324.1 305.0h0M310.2 305.3h0M328.4 304.9h0M315.3 306.8h0M326.1 304.9h0M318.5 306.2h0M310.7 303.4h0M315.3 306.4h0M320.1 303.3h0M305.4 302.3h0M314.1 304.7h0M307.9 304.9h0M324.3 304.8h0M326.5 305.3h0M328.6 303.5h0M313.9 306.0h0M316.9 307.0h0M324.6 303.9h0M307.1 304.6h0M329.2 302.0h0M316.1 306.8h0M317.8 307.0h0M328.5 301.7h0M330.0 304.3h0M335.7 301.3h0M331.3 301.7h0M320.0 306.9h0M329.3 304.3h0M328.8 305.2h0M339.3 297.6h0M340.3 296.3h0M329.5 303.6h0M312.1 306.4h0M316.0 305.1h0M324.1 306.0h0M327.1 304.9h0M326.6 305.8h0M315.6 306.0h0M319.2 306.4h0M314.3 306.2h0M322.7 307.0h0M311.4 302.7h0M309.6 305.5h0M318.8 307.2h0M340.3 296.5h0M319.3 302.7h0M317.9 305.1h0M312.3 305.6h0M344.0 292.6h0M313.4 304.0h0M334.0 301.7h0M321.5 306.6h0M302.9 301.7h0M337.9 297.7h0M316.2 306.8h0M307.2 301.4h0M326.8 304.4h0M315.0 303.3h0M314.5 306.6h0M320.7 305.0h0M310.7 302.7h0M324.7 306.3h0M312.3 306.5h0M320.0 306.7h0M329.7 302.7h0M326.0 303.7h0M326.4 302.2h0M324.7 305.6h0M313.2 306.5h0M337.9 298.3h0M317.0 306.1h0M314.8 306.2h0M332.2 302.6h0M319.4 307.3h0M313.7 306.7h0M337.6 299.3h0M331.2 303.3h0M330.7 303.2h0M324.2 305.3h0M316.9 306.0h0M313.6 305.9h0M320.1 305.2h0M315.8 304.6h0M330.4 300.4h0M316.7 304.7h0M323.2 305.8h0M324.2 305.3h0M326.0 306.2h0M321.5 306.9h0M317.8 306.5h0M315.3 304.8h0M320.7 306.5h0M330.2 304.5h0M331.0 303.6h0M323.5 305.1h0M312.8 304.7h0M328.0 305.2h0M323.6 303.2h0M303.3 302.3h0M329.1 304.6h0M331.2 301.7h0M320.1 304.3h0M321.0 305.4h0M329.0 300.7h0M340.1 296.0h0M323.7 305.0h0M311.2 306.1h0M345.3 291.2h0M322.2 305.0h0M316.2 303.0h0M317.1 305.0h0M331.9 300.5h0M315.3 306.9h0M311.6 303.3h0M328.2 303.5h0M327.2 305.8h0M316.0 306.0h0M309.4 305.0h0M331.6 301.0h0M323.9 303.9h0M313.2 304.3h0M323.0 305.2h0M317.8 301.9h0M320.0 306.9h0M313.6 306.4h0M322.5 306.2h0M328.4 305.3h0M304.8 302.4h0M322.4 306.4h0M302.2 300.1h0M318.9 301.1h0M335.6 300.9h0M324.0 304.6h0M321.2 305.5h0M314.5 304.0h0M309.5 304.6h0M323.5 304.2h0M338.4 297.1h0M313.1 305.5h0M324.6 302.8h0M323.5 304.7h0M323.1 305.4h0M314.9 305.4h0M324.6 305.6h0M329.0 304.8h0M315.9 305.5h0M325.0 306.4h0M330.0 304.3h0M322.3 307.1h0M323.3 306.7h0M319.0 304.5h0M313.3 305.0h0M331.8 301.3h0M325.2 301.6h0M304.3 302.3h0M310.7 305.3h0M331.1 303.3h0M321.0 304.0h0M304.7 301.9h0M317.3 304.7h0M316.8 304.9h0M317.6 304.4h0M329.9 304.6h0M328.1 303.9h0M328.2 303.5h0M318.3 305.9h0M322.1 305.7h0M331.6 302.7h0M316.9 305.6h0M327.2 305.6h0M320.3 303.3h0M339.9 296.3h0M319.2 306.9h0M316.6 305.3h0M302.3 301.7h0M335.3 301.4h0M323.3 305.6h0M316.1 305.5h0M323.0 304.1h0M325.2 306.3h0M337.2 297.9h0M327.8 304.4h0M341.6 293.4h0M344.9 291.1h0M321.0 306.4h0M323.5 305.4h0M315.9 306.8h0M321.3 305.2h0M318.2 305.7h0M316.6 305.0h0M316.5 305.1h0M318.3 307.0h0M334.4 300.9h0M330.4 303.9h0M322.6 306.4h0M345.7 291.8h0M319.9 305.6h0M327.9 304.4h0M310.7 303.7h0M341.6 295.0h0M326.0 304.4h0M304.7 302.9h0M307.7 304.2h0M298.3 298.6h0M317.3 301.0h0M327.1 304.7h0M316.7 306.9h0M324.1 306.7h0M332.5 302.2h0M313.8 304.5h0M318.4 306.8h0M319.3 304.7h0M331.1 302.8h0M324.1 305.5h0M316.0 306.2h0M331.3 303.6h0M314.1 304.4h0M314.0 306.6h0M306.3 303.8h0M307.2 303.8h0M327.0 303.5h0M322.6 306.1h0M325.5 305.4h0M307.7 304.7h0M327.9 301.8h0M314.7 305.0h0M317.3 301.6h0M313.9 305.3h0M323.8 303.3h0M316.6 304.8h0M302.0 300.6h0M328.2 302.3h0M316.2 304.7h0M314.2 306.9h0M327.5 304.7h0M328.2 305.3h0M319.8 306.2h0M322.9 304.9h0M329.5 303.0h0M314.6 304.9h0M312.3 305.1h0M317.8 304.8h0M327.8 304.0h0M333.1 302.5h0M322.7 305.2h0M318.5 306.7h0M323.8 305.6h0M311.2 303.0h0M320.6 306.4h0M301.2 299.5h0M327.6 304.5h0M307.9 304.6h0M333.7 302.3h0M336.0 300.0h0M308.9 305.0h0M327.2 303.8h0M333.2 301.0h0M318.0 306.0h0M314.6 306.3h0M338.9 298.7h0M312.2 306.4h0M328.7 305.0h0M317.9 304.5h0M334.9 301.8h0M327.9 304.3h0M318.8 305.4h0M339.6 297.3h0M326.8 304.1h0M321.4 303.1h0M315.8 306.9h0M312.7 303.6h0M321.0 302.7h0M333.9 302.5h0M312.7 306.6h0M328.0 304.3h0M315.2 304.5h0M331.2 303.2h0M335.0 301.0h0M311.6 303.6h0M312.8 305.1h0M327.5 303.3h0M319.9 306.3h0M300.7 299.4h0M328.4 305.0h0M321.6 307.0h0M311.4 304.7h0M321.9 306.3h0M321.4 306.7h0M321.1 305.0h0M320.0 305.4h0M315.3 303.5h0M329.8 304.4h0M336.4 299.7h0M321.9 306.4h0M325.2 306.4h0M332.1 300.5h0M323.7 306.7h0M326.1 302.5h0M326.8 304.2h0M321.3 301.7h0M321.2 306.2h0M328.6 304.4h0M312.7 305.9h0M323.1 303.1h0M313.0 305.8h0M332.0 303.6h0M318.9 305.4h0M317.0 302.8h0M305.2 302.3h0M310.4 305.1h0M314.8 305.0h0M320.4 304.2h0M314.0 306.6h0M327.6 305.0h0M314.2 305.7h0M327.6 304.8h0M323.3 302.1h0M319.6 305.0h0M327.6 305.3h0M333.6 302.5h0M334.6 301.7h0M322.6 305.4h0M321.3 306.2h0M321.7 305.5h0M325.4 303.5h0M320.4 306.2h0M326.0 305.2h0M310.8 304.6h0M314.3 304.5h0M330.1 302.1h0M317.8 304.3h0M321.6 306.6h0M310.1 305.5h0M304.4 301.9h0M316.4 304.0h0M333.8 300.9h0M337.0 298.7h0M327.0 304.3h0M321.9 304.6h0M320.9 303.2h0M315.2 306.9h0M306.2 302.1h0M315.9 304.5h0M310.0 305.1h0M326.0 303.4h0M327.6 301.8h0M317.8 303.6h0" stroke="#111" stroke-width="1.2" stroke-linecap="round" stroke-opacity="0.9" fill="none"/>
<path d="M318.3 306.2h0M298.2 297.5h0M309.1 304.3h0M314.2 305.0h0M319.5 305.1h0M324.9 305.2h0M307.6 303.2h0M324.8 304.2h0M315.8 306.4h0M329.4 303.4h0M331.7 300.9h0M318.9 306.6h0M328.7 303.8h0M301.5 299.0h0M309.9 305.2h0M318.9 307.4h0M326.3 305.5h0M332.3 300.4h0M329.9 302.4h0M328.4 304.1h0M317.9 302.0h0M312.9 305.9h0M309.4 304.8h0M303.0 300.5h0M320.1 305.1h0M319.9 305.8h0M340.7 294.4h0M333.7 299.3h0M323.2 305.0h0M317.3 305.1h0M303.3 301.5h0M335.9 300.0h0M314.0 305.7h0M324.9 306.3h0M308.3 303.9h0M330.0 303.6h0M312.1 303.3h0M323.9 304.7h0M320.8 306.2h0M329.1 301.1h0M324.7 306.1h0M336.4 298.0h0M338.2 295.6h0M313.6 305.2h0M310.2 304.4h0M322.2 306.9h0M311.1 305.9h0M314.8 306.6h0M324.6 306.3h0M323.2 305.2h0M310.9 305.9h0M306.0 303.4h0M312.9 305.6h0M329.4 301.6h0M327.1 303.9h0M319.4 306.9h0M323.7 304.4h0M318.5 302.6h0M319.2 305.3h0M333.1 301.4h0M324.3 306.4h0M313.8 306.0h0M318.9 306.3h0M317.4 303.1h0M315.7 305.7h0M325.2 306.1h0M308.2 301.9h0M313.6 305.6h0M302.9 302.3h0M327.9 304.2h0M325.0 306.2h0M319.9 304.8h0M330.9 302.6h0M307.6 300.1h0M308.1 304.5h0M335.2 300.1h0M304.6 301.7h0M320.4 305.8h0M333.4 302.3h0M323.4 306.1h0M324.0 304.2h0M327.5 304.9h0M311.5 303.7h0M308.6 302.6h0M320.3 304.8h0M320.4 304.8h0M321.4 305.5h0M315.0 303.0h0M310.3 303.9h0M321.6 304.8h0M321.1 306.5h0M324.0 305.2h0M322.3 304.9h0M320.3 305.2h0M323.2 305.0h0M317.1 303.7h0M324.8 306.1h0M321.2 306.5h0M307.4 302.0h0M313.9 306.1h0M324.4 303.7h0M322.0 304.6h0M337.5 297.5h0M301.8 300.5h0M326.0 306.1h0M315.0 307.1h0M313.0 300.2h0M293.9 294.6h0M325.0 304.0h0M336.8 299.9h0M319.3 306.4h0M309.9 302.0h0M323.9 304.6h0M314.5 305.4h0M323.2 305.9h0M309.8 304.3h0M314.5 306.1h0M329.3 302.0h0M316.8 306.7h0M315.0 306.9h0M327.6 302.9h0M294.6 295.3h0M323.9 306.3h0M329.2 300.7h0M330.4 302.5h0M302.5 301.8h0M329.6 302.2h0M305.5 299.8h0M294.5 292.4h0M324.8 306.4h0M326.6 305.3h0M312.2 305.0h0M317.7 307.3h0M322.8 306.8h0M339.7 297.1h0M325.5 304.8h0M310.6 304.8h0M301.0 299.6h0M334.5 300.2h0M310.1 302.3h0M319.4 305.9h0M326.7 304.2h0M331.2 303.3h0M335.1 299.9h0M327.2 305.2h0M321.3 304.5h0M318.9 306.5h0M340.3 293.3h0M331.4 302.2h0M344.1 293.5h0M311.7 305.5h0M323.3 306.4h0M333.9 302.4h0M316.1 303.8h0M318.5 306.3h0M328.0 303.7h0M305.2 302.1h0M313.2 305.7h0M330.8 301.8h0M312.8 303.9h0M307.7 303.6h0M324.0 306.6h0M332.6 302.0h0M312.5 306.1h0M318.2 303.7h0M330.9 302.9h0M310.4 306.0h0M318.7 305.7h0M338.8 298.1h0M319.8 302.8h0M326.7 303.5h0M317.0 305.9h0M324.3 306.3h0M332.9 300.5h0M304.0 302.4h0M326.4 306.1h0M317.9 307.3h0M324.0 304.8h0M332.1 302.9h0M324.3 304.9h0M333.9 299.4h0M310.1 301.4h0M324.0 305.8h0M318.6 306.4h0M329.2 304.9h0M318.2 304.8h0M319.5 306.0h0M331.5 303.9h0M307.9 304.9h0M315.2 306.0h0M322.8 301.6h0M336.5 299.3h0M302.4 301.8h0M321.8 306.8h0M317.3 305.0h0M320.3 306.1h0M298.8 299.0h0M303.9 301.9h0M324.1 304.9h0M310.3 304.4h0M316.1 306.5h0M334.0 301.6h0M334.9 301.3h0M321.6 306.8h0M317.3 303.6h0M331.8 302.9h0M315.6 307.0h0M314.3 305.1h0M329.2 303.3h0M328.2 303.6h0M317.3 305.7h0M317.8 306.7h0M325.6 305.3h0M319.5 307.0h0M318.2 305.3h0M319.9 306.4h0M329.6 304.5h0M306.4 303.0h0M326.7 305.7h0M333.4 302.0h0M318.5 306.9h0M308.8 305.0h0M321.1 305.4h0M335.7 300.2h0M321.6 306.8h0M312.8 301.5h0M307.9 301.5h0M304.0 301.7h0M321.8 304.2h0M340.4 297.4h0M324.3 301.8h0M333.2 301.2h0M343.8 293.0h0M322.7 305.7h0M320.7 307.3h0M319.0 306.8h0M318.6 304.0h0M315.5 306.8h0M321.4 304.6h0M304.4 302.7h0M329.9 302.7h0M304.2 298.2h0M334.4 299.0h0M314.2 303.4h0M336.6 300.5h0M310.7 305.3h0M322.5 307.1h0M335.4 300.6h0M326.0 304.1h0M333.3 302.6h0M317.3 306.5h0M330.7 303.4h0M322.2 304.7h0M319.6 307.3h0M314.8 301.4h0M329.8 302.0h0M309.4 304.6h0M311.9 303.5h0M314.5 305.4h0M318.9 306.6h0M340.7 295.1h0M327.8 305.1h0M314.8 306.1h0M306.9 303.8h0M321.7 304.7h0M317.7 303.9h0M330.9 303.5h0M318.2 304.9h0M325.6 304.0h0M315.7 306.6h0M321.7 304.7h0M336.5 299.6h0M317.1 307.2h0M326.5 305.9h0M320.6 304.8h0M303.2 298.2h0M326.8 305.6h0M327.3 305.6h0M333.6 301.8h0M319.9 301.2h0M307.3 302.7h0M337.5 299.9h0M316.1 305.9h0M326.7 303.8h0M320.3 305.2h0M335.5 301.4h0M304.9 302.9h0M332.4 301.6h0M325.7 303.5h0M321.6 307.0h0M317.4 306.0h0M309.3 305.1h0M315.8 306.6h0M332.8 301.3h0M323.8 304.4h0M310.2 305.2h0M318.5 306.6h0M340.0 297.8h0M321.9 305.2h0M322.9 303.1h0M324.2 306.4h0M306.8 302.9h0M307.1 302.8h0M306.2 303.6h0M329.9 303.1h0M336.4 300.3h0M310.8 303.4h0M316.9 306.8h0M325.4 303.6h0M325.9 302.6h0M308.9 304.1h0M320.4 306.4h0M298.4 297.0h0M306.3 301.2h0M328.9 305.0h0M328.1 304.2h0M326.9 305.4h0M318.8 307.0h0M332.0 301.6h0M345.4 291.8h0M312.9 306.5h0M333.6 301.8h0M320.8 307.3h0M313.7 305.7h0M314.2 304.3h0M306.4 304.0h0M307.2 303.4h0M318.9 306.9h0M314.5 307.0h0M328.4 304.2h0M313.9 304.9h0M309.6 303.6h0M315.1 304.0h0M334.4 298.1h0M316.4 304.7h0M332.3 303.5h0M326.4 304.0h0M310.4 304.5h0M330.7 303.5h0M316.4 305.0h0M305.2 300.8h0M323.9 305.2h0M306.2 301.8h0M306.9 302.8h0M314.7 304.5h0M320.0 304.1h0M326.8 304.1h0M315.4 306.4h0M321.3 305.9h0M314.3 302.6h0M342.1 295.6h0M328.3 304.9h0M340.0 293.3h0M328.4 302.4h0M322.9 303.6h0M326.6 305.9h0M323.3 305.6h0M315.5 305.4h0M319.1 306.2h0M319.0 306.3h0M325.5 305.1h0M317.6 303.9h0M315.2 306.0h0M318.9 306.1h0M319.4 301.7h0M317.7 305.7h0M307.7 303.0h0M322.5 301.3h0M307.8 304.1h0M321.2 303.0h0M318.6 306.8h0M328.1 303.5h0M299.9 298.2h0M319.1 307.2h0M314.7 306.0h0M321.1 304.9h0M319.4 303.3h0M317.7 306.8h0M326.6 301.8h0M318.1 307.0h0M313.8 304.6h0M319.6 304.5h0M311.0 301.3h0M322.6 305.4h0M314.2 303.8h0M313.9 306.4h0M329.0 303.8h0M328.2 305.1h0M303.9 302.1h0M310.6 305.4h0M332.9 301.1h0M319.8 306.1h0M299.5 298.7h0M327.0 305.2h0M304.1 302.7h0M327.8 303.2h0M323.3 306.0h0M309.7 303.5h0M317.1 305.5h0M317.2 306.8h0M316.1 307.1h0M307.5 304.7h0M331.0 302.2h0M331.5 301.7h0M321.2 306.0h0M316.6 303.4h0M303.2 301.4h0M310.2 303.0h0M335.6 300.3h0M335.6 299.3h0M312.5 306.1h0M329.8 302.2h0M325.7 305.0h0M312.9 301.3h0M326.6 300.4h0M329.4 303.9h0M333.9 301.7h0M302.5 299.1h0M313.0 303.6h0M303.9 302.6h0M320.0 307.1h0M333.9 298.6h0M339.1 298.2h0M336.1 298.0h0M328.2 304.2h0M330.4 301.3h0M311.9 303.4h0M324.4 304.8h0M320.5 307.0h0M313.2 305.9h0M328.6 303.7h0M314.0 304.8h0M333.8 301.7h0M321.4 304.0h0M336.1 297.7h0M328.7 304.2h0M322.5 305.8h0M324.5 305.7h0M317.3 305.4h0M323.5 306.3h0M323.5 306.8h0M327.5 301.7h0M318.2 305.2h0M333.3 302.7h0M324.2 306.0h0M313.4 305.2h0M317.5 303.7h0M335.3 301.0h0M331.8 301.6h0M319.1 305.7h0M310.7 305.7h0M312.2 304.0h0M322.3 304.6h0M336.0 299.6h0M324.3 303.9h0M321.0 305.1h0M328.3 304.7h0M321.0 306.2h0M320.0 306.2h0M309.3 304.7h0M314.6 306.4h0M320.5 303.1h0M323.0 306.1h0M317.2 306.4h0M312.5 306.2h0" stroke="#111" stroke-width="1.2" stroke-linecap="round" stroke-opacity="0.9" fill="none"/>
<path d="M319.4 207.1h0M319.1 214.7h0M318.8 214.2h0M318.9 215.7h0M318.7 210.5h0M318.2 208.1h0M319.6 209.2h0M318.8 207.6h0M319.1 208.4h0" stroke="#111" stroke-width="0.9" stroke-linecap="round" stroke-opacity="0.8" fill="none"/>
<path d="M318.9 213.8h0M319.3 213.2h0M319.1 207.9h0M319.4 206.9h0M319.4 205.3h0M318.6 211.8h0M318.7 205.0h0M318.5 206.2h0" stroke="#111" stroke-width="0.9" stroke-linecap="round" stroke-opacity="0.8" fill="none"/>
<path d="M318.7 205.0h0M319.2 208.0h0M319.1 206.0h0M318.9 212.8h0M319.5 211.7h0M318.3 212.7h0M318.4 214.8h0M319.1 210.6h0" stroke="#111" stroke-width="0.9" stroke-linecap="round" stroke-opacity="0.8" fill="none"/>
<path d="M315.2,196 L318.2,196 L318.6,245 L318.6,287 L313.4,287 L313.4,245 Z" fill="#fff" fill-opacity="0.95"/>
<path d="M319.4 271.6h0M318.8 287.4h0M319.3 262.2h0M319.2 234.8h0M319.8 296.9h0M319.8 258.2h0M319.2 251.2h0M319.3 252.3h0M319.3 241.8h0M320.0 241.9h0M318.9 285.3h0M319.5 278.2h0M319.4 246.2h0M319.2 251.0h0M319.2 285.8h0M319.4 263.8h0M319.4 280.9h0M318.8 272.2h0M319.5 292.0h0M320.1 290.9h0M319.0 297.4h0M319.8 240.5h0M319.6 278.1h0M319.8 290.1h0M319.5 256.9h0M319.0 251.3h0M319.8 291.7h0M319.4 291.4h0M319.6 238.1h0M319.0 279.6h0M319.1 237.5h0M318.6 292.2h0M319.7 233.7h0M318.4 234.0h0M319.3 266.3h0M318.8 264.0h0M319.8 240.0h0M319.1 277.5h0M318.9 297.8h0M319.3 296.7h0M319.7 279.5h0M319.4 299.6h0M319.6 275.3h0M319.8 266.9h0M319.8 295.4h0M319.6 266.1h0M319.2 288.4h0M319.5 280.2h0M319.4 235.9h0M319.2 246.9h0M319.1 295.9h0M319.6 259.6h0M319.5 275.1h0M319.4 268.7h0M319.1 268.8h0M319.3 280.9h0M320.0 268.1h0M319.9 251.3h0M318.9 294.1h0M319.8 281.8h0M319.1 273.7h0M319.2 280.8h0M319.2 301.1h0M319.5 284.0h0M318.7 267.1h0M319.4 236.3h0M319.3 283.9h0M319.2 237.9h0M318.9 291.0h0M319.7 290.4h0M319.8 285.8h0M319.4 282.5h0M319.2 276.6h0M319.5 255.0h0M319.8 237.3h0M319.1 252.0h0M318.9 290.1h0M319.4 290.1h0M319.1 276.3h0M319.5 276.9h0M319.8 296.6h0M319.3 234.2h0M319.4 271.0h0M319.3 255.6h0M319.6 267.5h0M319.7 273.3h0M319.3 280.3h0M319.3 287.1h0M318.7 265.3h0M319.6 300.6h0M319.2 295.9h0M319.5 267.1h0M319.7 267.2h0M319.4 269.0h0M318.7 282.4h0M319.2 274.3h0M319.6 245.1h0M319.6 294.2h0M320.0 297.6h0M318.9 283.3h0M319.8 232.8h0M319.5 272.1h0M319.9 289.1h0M320.0 252.7h0M320.1 257.2h0M319.7 271.7h0M319.5 262.0h0M319.8 233.1h0M319.1 236.3h0M319.3 286.0h0M319.1 237.5h0M319.6 293.3h0M320.1 242.5h0M319.7 275.0h0M319.4 238.9h0M319.5 285.0h0M320.0 266.7h0M319.2 247.0h0M319.4 262.9h0M319.3 238.1h0M319.2 301.0h0M319.4 269.0h0M320.0 286.1h0M319.6 267.8h0M319.7 233.0h0M319.0 240.6h0M319.7 242.4h0M319.6 252.5h0M319.3 273.5h0M319.2 251.1h0M319.5 292.9h0M319.0 282.2h0M319.6 233.9h0M318.9 242.3h0M319.5 282.1h0M319.8 260.2h0M319.7 239.8h0M318.6 274.1h0M319.3 234.0h0M319.5 301.6h0M319.1 252.7h0M319.4 261.3h0M319.3 292.5h0M319.3 240.3h0M319.2 292.5h0M319.8 253.5h0M319.1 286.7h0M319.8 247.8h0M319.6 237.8h0M319.0 292.0h0M319.9 279.1h0M319.3 257.1h0M319.4 239.3h0M319.5 257.8h0M319.5 276.9h0M319.3 252.1h0M319.0 251.1h0M320.1 298.7h0M319.2 264.2h0M319.8 267.5h0M319.0 274.9h0M319.8 271.2h0M319.7 275.9h0M319.7 240.6h0M319.6 282.0h0M318.8 256.7h0M319.5 257.9h0M319.0 232.6h0M319.1 245.3h0M319.7 243.4h0M319.7 282.7h0M319.9 285.0h0M319.5 277.9h0M318.8 237.0h0M319.2 262.5h0M319.6 255.7h0M319.8 290.6h0M319.6 259.8h0M319.3 249.6h0M319.1 234.0h0M319.4 291.7h0M318.5 245.6h0M319.2 286.0h0M319.8 286.6h0M319.0 274.3h0M319.7 301.0h0M319.1 286.1h0M319.3 301.9h0M319.6 267.1h0M319.6 291.9h0M319.3 284.7h0M319.2 259.7h0M319.5 293.8h0M319.9 288.4h0M319.4 257.5h0M318.9 245.1h0M319.3 292.3h0M319.3 250.9h0M319.2 251.8h0M319.4 297.2h0M319.1 285.4h0M319.5 258.2h0M318.7 289.3h0M319.6 246.7h0M319.7 282.9h0M319.4 288.7h0M319.6 232.1h0M319.5 239.5h0M319.6 300.4h0M319.3 262.4h0M319.3 288.7h0M319.4 250.4h0M319.1 291.3h0M319.8 298.6h0M319.1 269.1h0M319.1 232.6h0M319.7 289.8h0M319.9 278.0h0M319.0 287.5h0M319.6 248.6h0M319.3 246.8h0M319.9 276.7h0M319.6 253.8h0M319.1 285.9h0M319.2 243.5h0M319.6 235.1h0M319.6 248.6h0M319.5 269.5h0M319.4 236.9h0M319.4 237.6h0M319.9 297.1h0M319.3 294.0h0M319.6 284.8h0M319.6 274.8h0M319.8 280.1h0M319.6 296.4h0M319.7 259.5h0M318.9 292.7h0M319.3 289.3h0M319.2 258.3h0M319.8 244.2h0M319.5 270.8h0M319.2 242.2h0M319.7 257.1h0M319.3 300.9h0M319.5 233.4h0M319.1 264.8h0M319.7 255.6h0M319.3 247.0h0M319.3 250.0h0M319.0 265.5h0M319.8 235.5h0M319.4 288.3h0M319.7 298.6h0M319.7 234.7h0M319.6 236.9h0M319.8 252.1h0M319.1 252.2h0M319.1 251.0h0M319.6 300.1h0" stroke="#111" stroke-width="1.0" stroke-linecap="round" stroke-opacity="0.9" fill="none"/>
<path d="M312.3 291.4h0M312.2 297.9h0M312.0 301.4h0M312.0 285.7h0M312.7 296.3h0M312.7 252.3h0M311.9 300.3h0M312.1 269.6h0M312.5 267.4h0M312.3 277.0h0M312.6 278.8h0M311.3 278.4h0M311.2 284.2h0M312.1 253.8h0M312.4 298.8h0M312.0 252.0h0M312.7 256.8h0M312.7 256.9h0M312.3 289.8h0M312.2 264.1h0M313.1 286.3h0M311.9 297.1h0M312.4 256.8h0M311.9 300.3h0M313.1 275.6h0M312.2 282.0h0M311.8 262.3h0M312.7 267.8h0M312.8 286.3h0M311.9 280.3h0M313.0 262.6h0M312.3 292.9h0M311.9 279.1h0M312.0 279.9h0M312.8 259.9h0M313.2 254.8h0M312.6 253.0h0M313.3 269.7h0M313.0 272.3h0M312.7 275.1h0M312.3 265.2h0M312.1 290.8h0M312.1 275.5h0M312.7 259.7h0M311.9 263.5h0M311.6 263.5h0M312.3 292.9h0M312.6 300.8h0M312.8 248.7h0M312.7 291.9h0M311.9 257.1h0M312.6 279.9h0M312.3 260.5h0M312.5 276.3h0M312.0 297.8h0M313.3 257.6h0M312.1 282.9h0M312.4 259.3h0M312.8 269.1h0M313.0 283.6h0M312.4 248.8h0M311.6 253.6h0M311.4 274.0h0M312.2 301.6h0M312.6 291.6h0M312.4 255.8h0M312.4 262.0h0M312.3 251.7h0M312.8 249.4h0M312.2 252.2h0M312.5 277.3h0M312.2 295.0h0M313.3 292.9h0M313.2 261.4h0M312.7 267.7h0M312.5 301.5h0M312.5 269.9h0M312.8 272.2h0M311.9 286.1h0M313.2 266.8h0M311.9 290.2h0M312.5 269.0h0M311.3 288.3h0M311.6 253.7h0M312.7 289.0h0M312.7 269.0h0M312.1 275.5h0M312.6 259.1h0M312.7 265.8h0M312.9 265.8h0M313.0 271.5h0M313.0 281.9h0M312.6 254.4h0M313.3 296.4h0M311.7 267.7h0M313.0 281.4h0M312.8 262.4h0M312.1 264.3h0M313.1 298.9h0M312.6 280.7h0M312.2 260.3h0M313.4 272.1h0M312.3 266.9h0M312.5 252.8h0M312.1 295.4h0M312.5 301.9h0M313.8 281.3h0M312.6 299.8h0M312.2 276.6h0M312.4 282.0h0M312.0 277.6h0M311.9 252.2h0M312.2 253.1h0M312.4 295.2h0M312.2 275.5h0M312.8 271.1h0M312.6 295.9h0M311.7 263.1h0M312.3 268.6h0M312.2 269.6h0M312.8 260.3h0M312.4 279.0h0M312.0 301.2h0M312.3 289.2h0M312.5 280.4h0M312.3 257.7h0M312.1 284.1h0M312.6 292.0h0M313.0 256.5h0M312.3 298.4h0M312.2 279.2h0M312.2 254.4h0M312.4 260.9h0M311.5 294.0h0M312.4 258.5h0M311.9 293.2h0M311.9 282.0h0M313.2 267.3h0M311.3 268.4h0M312.0 260.3h0M312.0 251.1h0M313.1 251.2h0M311.7 289.0h0M312.2 266.5h0M312.0 254.3h0M312.4 297.6h0M312.4 290.4h0M313.5 282.3h0M312.2 255.2h0M313.1 266.5h0M311.6 260.7h0M312.7 300.0h0M312.4 290.7h0M311.1 274.5h0M312.3 257.8h0M312.4 268.2h0M313.4 294.9h0M312.1 267.7h0M311.1 288.8h0M312.8 285.9h0M311.4 296.0h0M312.9 254.2h0M312.1 266.6h0M311.7 293.6h0M312.1 259.2h0M312.3 269.9h0M313.2 251.9h0M313.0 262.9h0M312.0 290.7h0M313.0 255.0h0M312.2 272.4h0M313.0 301.9h0M312.6 285.6h0M310.8 263.4h0M312.5 295.7h0M312.1 283.3h0M312.0 264.9h0M311.8 268.9h0M312.0 269.9h0M313.1 288.6h0M312.4 295.2h0M312.1 279.3h0M312.7 295.4h0M312.3 248.7h0M312.6 284.3h0M311.2 294.4h0M313.0 296.3h0M313.1 272.0h0M313.0 269.1h0M312.8 292.8h0M312.5 270.3h0M312.9 265.3h0M312.6 265.0h0M313.3 262.3h0M312.3 257.8h0M311.8 270.3h0M311.6 255.6h0M312.4 289.2h0M311.8 250.1h0M312.1 270.8h0" stroke="#1c2250" stroke-width="1.0" stroke-linecap="round" stroke-opacity="0.85" fill="none"/>
<rect x="275.8" y="191.6" width="94.5" height="119.2" fill="none" stroke="#111" stroke-width="1"/>
<line x1="273.30" y1="305.40" x2="275.80" y2="305.40" stroke="#222" stroke-width="0.8" />
<text x="269.60" y="307.70" font-size="6.6" fill="#3a3a3a" stroke="#3a3a3a" stroke-width="0.18" text-anchor="end" textLength="3.5" lengthAdjust="spacingAndGlyphs" >0</text>
<line x1="273.30" y1="266.00" x2="275.80" y2="266.00" stroke="#222" stroke-width="0.8" />
<text x="269.60" y="268.30" font-size="6.6" fill="#3a3a3a" stroke="#3a3a3a" stroke-width="0.18" text-anchor="end" textLength="3.5" lengthAdjust="spacingAndGlyphs" >5</text>
<line x1="273.30" y1="226.60" x2="275.80" y2="226.60" stroke="#222" stroke-width="0.8" />
<text x="269.60" y="228.90" font-size="6.6" fill="#3a3a3a" stroke="#3a3a3a" stroke-width="0.18" text-anchor="end" textLength="7.0" lengthAdjust="spacingAndGlyphs" >10</text>
<line x1="282.80" y1="310.80" x2="282.80" y2="313.30" stroke="#222" stroke-width="0.8" />
<text x="282.80" y="324.60" font-size="6.6" fill="#3a3a3a" stroke="#3a3a3a" stroke-width="0.18" text-anchor="middle" textLength="11" lengthAdjust="spacingAndGlyphs" >−10</text>
<line x1="316.80" y1="310.80" x2="316.80" y2="313.30" stroke="#222" stroke-width="0.8" />
<text x="316.80" y="324.60" font-size="6.6" fill="#3a3a3a" stroke="#3a3a3a" stroke-width="0.18" text-anchor="middle" textLength="3.5" lengthAdjust="spacingAndGlyphs" >0</text>
<line x1="350.80" y1="310.80" x2="350.80" y2="313.30" stroke="#222" stroke-width="0.8" />
<text x="350.80" y="324.60" font-size="6.6" fill="#3a3a3a" stroke="#3a3a3a" stroke-width="0.18" text-anchor="middle" textLength="7" lengthAdjust="spacingAndGlyphs" >10</text>
<text x="254.60" y="250.50" font-size="8.6" fill="#3a3a3a" stroke="#3a3a3a" stroke-width="0.18" text-anchor="middle" textLength="81" lengthAdjust="spacingAndGlyphs" transform="rotate(-90 254.60 250.50)" >−Log<tspan font-size="5.0" dy="1.8">10</tspan><tspan dy="-1.8">(adjust </tspan><tspan font-style="italic">P</tspan>-value)</text>
<rect x="310.6" y="192.6" width="18.4" height="6.6" rx="1.3" fill="#6f80c0" stroke="#3b4f9c" stroke-width="0.75"/>
<text x="319.80" y="197.90" font-size="5.9" fill="#eef0ff" stroke="#eef0ff" stroke-width="0.08" text-anchor="middle" textLength="15.599999999999977" lengthAdjust="spacingAndGlyphs" >Ripk3</text>
<rect x="317.7" y="210.5" width="18.4" height="6.3" rx="1.3" fill="#fff" stroke="#e0463a" stroke-width="0.75"/>
<text x="326.90" y="215.65" font-size="5.9" fill="#e0463a" stroke="#e0463a" stroke-width="0.08" text-anchor="middle" textLength="15.600000000000033" lengthAdjust="spacingAndGlyphs" >Cxcl11</text>
<rect x="313.6" y="238.8" width="17.4" height="6.5" rx="1.3" fill="#fff" stroke="#e0463a" stroke-width="0.75"/>
<text x="322.30" y="244.05" font-size="5.9" fill="#e0463a" stroke="#e0463a" stroke-width="0.08" text-anchor="middle" textLength="14.599999999999977" lengthAdjust="spacingAndGlyphs" >Mmp7</text>
<rect x="302.4" y="256.8" width="17.4" height="6.1" rx="1.3" fill="#fff" stroke="#3a4a8a" stroke-width="0.75"/>
<text x="311.10" y="261.85" font-size="5.9" fill="#3a4a8a" stroke="#3a4a8a" stroke-width="0.08" text-anchor="middle" textLength="14.600000000000033" lengthAdjust="spacingAndGlyphs" >Lrmp</text>
<rect x="320.7" y="272.0" width="18.3" height="6.4" rx="1.3" fill="#fff" stroke="#e0463a" stroke-width="0.75"/>
<text x="329.85" y="277.20" font-size="5.9" fill="#e0463a" stroke="#e0463a" stroke-width="0.08" text-anchor="middle" textLength="15.50000000000001" lengthAdjust="spacingAndGlyphs" >Cxcl10</text>
<rect x="310.6" y="286.6" width="17.4" height="5.6" rx="1.3" fill="#fff" stroke="#e0463a" stroke-width="0.75"/>
<text x="319.30" y="291.40" font-size="5.9" fill="#e0463a" stroke="#e0463a" stroke-width="0.08" text-anchor="middle" textLength="14.599999999999977" lengthAdjust="spacingAndGlyphs" >Cxcl9</text>
<rect x="300.6" y="295.8" width="17.9" height="5.5" rx="1.3" fill="#fff" stroke="#3a4a8a" stroke-width="0.75"/>
<text x="309.55" y="300.55" font-size="5.9" fill="#3a4a8a" stroke="#3a4a8a" stroke-width="0.08" text-anchor="middle" textLength="15.099999999999977" lengthAdjust="spacingAndGlyphs" >Bank1</text>
<path d="M421.4 279.8h0M432.0 299.4h0M452.9 284.4h0M413.3 299.6h0M460.9 263.7h0M399.8 273.1h0M403.4 295.1h0M460.7 292.0h0M483.6 252.9h0M418.5 281.9h0M411.7 262.3h0M425.3 297.8h0" stroke="#b0b0b0" stroke-width="1.2" stroke-linecap="round" stroke-opacity="0.7" fill="none"/>
<path d="M453.3 243.0h0M438.3 283.6h0M414.2 297.0h0M410.3 256.1h0M449.8 249.0h0M476.3 268.7h0M458.7 242.4h0M425.8 249.0h0M481.8 276.7h0M412.1 242.9h0M439.0 245.0h0M472.8 288.5h0" stroke="#b0b0b0" stroke-width="1.2" stroke-linecap="round" stroke-opacity="0.7" fill="none"/>
<path d="M483.4 258.8h0M454.4 287.5h0M416.4 283.8h0M436.7 259.5h0M406.5 281.3h0M475.1 263.2h0M413.3 244.2h0M475.8 258.6h0M438.4 280.7h0M454.5 242.4h0M401.0 263.6h0M480.1 291.9h0" stroke="#b0b0b0" stroke-width="1.2" stroke-linecap="round" stroke-opacity="0.7" fill="none"/>
<path d="M471.7 194.9h0M468.5 241.1h0M485.7 285.9h0M413.3 254.1h0" stroke="#9a9a9a" stroke-width="1.4" stroke-linecap="round" stroke-opacity="0.8" fill="none"/>
<path d="M451.2 242.6h0M436.7 241.1h0M401.7 287.4h0" stroke="#9a9a9a" stroke-width="1.4" stroke-linecap="round" stroke-opacity="0.8" fill="none"/>
<path d="M461.4 244.0h0M406.3 244.0h0M482.5 268.6h0" stroke="#9a9a9a" stroke-width="1.4" stroke-linecap="round" stroke-opacity="0.8" fill="none"/>
<path d="M422.0 303.6h0M437.2 303.2h0M433.1 294.0h0M424.1 291.6h0M435.9 299.2h0M427.5 291.1h0M424.4 290.8h0M423.8 299.3h0M427.7 300.1h0M425.4 298.7h0M436.1 300.3h0M435.1 293.9h0M431.2 296.3h0M431.4 297.3h0M431.4 298.0h0M430.8 301.2h0M426.0 296.0h0M427.9 301.5h0M424.2 289.5h0M428.9 300.1h0M424.1 296.6h0M422.0 293.2h0M427.7 304.6h0M423.7 300.7h0M435.8 296.5h0M427.3 289.9h0M426.8 304.1h0M423.2 302.6h0M427.6 297.5h0M435.4 301.0h0M420.9 287.7h0M430.9 299.1h0M431.7 303.7h0M427.9 298.6h0M419.7 298.4h0M428.9 298.9h0M434.9 295.2h0M421.1 304.2h0M432.5 294.8h0M430.6 303.8h0M428.3 302.3h0M425.5 292.0h0M417.9 297.3h0M426.6 278.1h0M432.0 299.4h0M428.5 300.7h0M433.4 279.4h0M431.9 291.3h0M432.1 276.3h0M429.4 291.4h0M427.7 284.5h0M430.1 301.3h0M429.9 304.2h0M438.0 303.4h0M427.4 301.9h0M429.1 299.3h0M423.5 299.0h0M429.3 302.3h0M434.7 302.6h0M419.9 296.9h0M426.3 300.1h0M431.2 297.9h0M428.3 303.6h0M419.0 287.5h0M425.3 300.8h0M428.2 293.0h0M427.1 302.6h0M433.2 296.9h0M421.1 300.5h0M430.7 300.2h0M430.0 297.4h0M432.9 297.4h0M432.3 302.9h0M426.3 292.1h0M425.7 297.6h0M425.3 301.2h0M434.0 293.6h0M435.7 298.4h0M428.5 294.6h0M434.6 298.4h0M426.4 283.1h0M427.3 302.8h0M437.7 302.0h0M431.9 296.6h0M431.8 295.9h0M431.0 299.3h0M431.8 304.5h0M435.8 280.2h0M430.8 303.2h0M423.6 299.4h0M430.5 284.4h0M433.7 302.8h0M426.1 296.2h0M422.4 304.5h0M422.0 299.3h0M435.3 286.4h0M424.5 303.0h0M430.3 299.8h0M425.9 296.9h0M432.5 301.1h0M429.2 303.3h0M427.2 286.4h0M425.9 295.4h0M422.9 299.4h0M427.6 296.4h0M425.0 300.7h0M423.7 302.5h0M427.0 293.8h0M435.0 276.3h0M428.1 298.0h0M432.5 298.5h0M424.2 302.0h0M427.5 300.2h0M426.8 297.5h0M424.6 298.7h0M433.8 296.6h0M426.9 301.2h0M432.3 287.0h0M424.1 299.9h0M434.0 299.2h0M432.0 301.9h0M429.8 296.5h0M420.4 303.7h0M422.1 304.6h0M435.8 290.8h0M430.1 300.5h0M432.0 301.1h0M452.4 294.3h0M457.4 294.9h0M463.6 298.5h0M457.4 303.8h0M465.2 291.0h0M454.7 300.3h0M453.0 300.9h0M456.1 293.7h0M460.0 303.5h0M455.6 297.2h0M457.5 294.0h0M458.0 294.1h0M457.2 289.7h0M463.6 290.7h0M456.6 297.0h0M456.7 303.8h0M455.4 301.8h0M463.3 294.1h0M455.1 304.3h0M459.7 300.8h0M449.2 299.9h0M461.2 288.3h0M454.4 302.8h0M460.7 299.2h0M457.4 290.8h0M452.3 302.9h0M450.6 293.1h0M449.7 300.2h0M457.9 291.2h0M455.1 298.4h0M449.7 284.4h0M452.0 296.3h0M451.4 302.8h0M455.9 297.7h0M455.4 291.4h0M458.5 286.4h0M455.5 285.6h0M455.3 294.6h0M457.2 290.9h0M452.5 301.5h0M453.8 295.0h0M453.1 294.9h0M459.7 285.6h0M460.3 298.0h0M456.2 290.3h0M452.9 299.1h0M450.7 297.3h0M456.0 294.7h0M461.9 303.1h0M458.4 287.9h0M458.8 285.6h0M463.2 290.2h0M448.9 303.6h0M461.6 298.2h0M456.5 299.5h0M456.4 291.5h0M461.5 283.2h0M460.7 297.6h0M455.9 289.2h0M461.9 301.2h0M454.4 295.0h0M457.7 297.3h0M461.1 290.8h0M457.4 303.6h0M463.1 281.1h0M451.9 297.9h0M460.9 297.2h0M462.5 297.9h0M461.7 300.8h0M451.1 297.7h0M451.2 282.5h0M459.0 298.5h0M454.3 298.8h0M457.7 300.1h0M463.1 286.6h0M457.8 296.0h0M464.1 289.4h0M453.9 286.9h0M452.8 301.7h0M464.5 303.6h0M455.6 297.1h0M463.5 299.3h0M459.5 301.2h0M460.2 293.2h0M462.2 304.7h0M460.3 295.6h0M457.0 302.4h0M461.0 302.8h0M452.0 303.5h0M456.8 303.2h0M458.0 295.2h0M462.4 296.9h0M456.8 298.6h0M457.9 292.7h0M460.7 287.3h0M461.0 299.7h0M455.1 297.4h0M455.3 285.4h0M450.7 303.2h0M452.0 294.2h0M458.9 300.7h0M457.2 288.3h0M461.2 283.0h0M457.3 297.8h0M462.1 296.5h0M454.7 304.5h0M459.5 300.8h0M456.5 303.8h0M458.3 304.1h0M458.6 299.9h0M460.9 297.3h0M455.1 299.5h0M456.8 303.2h0M465.9 303.6h0M458.2 303.3h0M452.2 302.4h0M461.8 296.2h0M456.1 304.1h0M462.2 297.2h0M464.2 292.4h0M463.3 303.4h0M455.6 293.2h0M458.3 299.0h0M451.2 297.5h0M459.4 295.9h0M461.7 298.8h0M455.5 292.8h0" stroke="#444" stroke-width="1.1" stroke-linecap="round" stroke-opacity="0.5" fill="none"/>
<path d="M428.8 300.4h0M429.6 298.9h0M420.6 303.7h0M429.1 294.0h0M421.2 304.6h0M421.6 291.9h0M426.9 291.4h0M429.6 302.8h0M420.5 302.4h0M424.5 302.1h0M434.0 300.8h0M435.8 294.0h0M422.8 297.3h0M421.9 298.6h0M420.9 294.2h0M432.8 295.1h0M432.2 297.7h0M420.7 298.0h0M429.4 296.9h0M434.1 303.1h0M430.4 300.5h0M419.7 303.8h0M429.0 300.8h0M427.0 298.7h0M425.3 304.5h0M432.5 282.6h0M429.8 297.8h0M418.8 295.8h0M434.9 303.8h0M436.8 299.0h0M427.4 303.6h0M423.5 277.6h0M418.6 291.9h0M422.4 281.1h0M423.3 300.1h0M437.0 294.8h0M423.6 279.7h0M424.9 297.7h0M434.6 296.9h0M425.4 298.6h0M433.6 302.6h0M429.7 298.3h0M428.4 295.0h0M434.6 279.6h0M432.4 301.2h0M423.5 297.9h0M435.4 303.5h0M436.2 282.5h0M428.1 282.4h0M436.7 302.8h0M430.9 300.4h0M424.0 300.4h0M436.5 303.7h0M429.1 302.3h0M430.0 302.1h0M427.1 300.9h0M426.0 276.9h0M426.4 292.7h0M427.4 298.1h0M418.2 291.6h0M430.7 285.6h0M421.9 296.4h0M430.3 302.3h0M432.1 294.8h0M436.0 304.4h0M425.7 297.3h0M433.2 289.1h0M424.4 302.8h0M430.7 280.8h0M423.0 302.9h0M420.5 289.0h0M425.5 297.5h0M434.3 303.5h0M431.7 304.5h0M427.4 303.2h0M437.8 301.4h0M431.0 302.3h0M422.5 304.3h0M426.9 291.3h0M421.5 297.5h0M430.0 289.1h0M428.1 298.6h0M436.6 287.9h0M433.5 295.0h0M420.5 297.0h0M421.8 303.0h0M425.3 285.6h0M428.0 297.0h0M425.1 296.6h0M424.6 300.9h0M427.4 295.5h0M429.7 304.3h0M428.6 299.4h0M425.5 288.5h0M430.3 303.7h0M423.8 304.1h0M428.6 294.9h0M421.3 301.3h0M423.3 293.0h0M419.5 303.6h0M434.8 288.5h0M434.3 304.3h0M433.4 299.2h0M428.4 289.4h0M426.6 303.8h0M422.4 301.4h0M435.5 289.9h0M428.4 304.5h0M428.8 302.7h0M432.3 301.4h0M426.0 298.9h0M432.1 303.9h0M418.7 303.4h0M428.6 298.8h0M418.8 279.9h0M424.2 278.7h0M424.1 302.0h0M430.5 303.4h0M417.5 302.5h0M418.7 292.6h0M429.7 294.5h0M422.7 297.4h0M423.2 282.1h0M424.7 301.6h0M424.3 286.3h0M429.1 303.0h0M420.3 297.9h0M461.3 304.0h0M453.0 287.2h0M460.3 279.3h0M458.3 297.1h0M462.3 295.3h0M452.9 294.2h0M453.7 298.7h0M463.8 300.1h0M453.4 301.4h0M457.1 278.9h0M464.2 300.4h0M456.1 289.6h0M465.4 294.8h0M455.2 276.0h0M454.3 303.7h0M454.8 302.8h0M458.1 302.2h0M461.1 304.1h0M463.7 302.1h0M456.1 301.6h0M458.8 300.5h0M462.6 299.7h0M455.8 301.9h0M456.8 302.6h0M449.3 304.4h0M455.6 298.5h0M456.9 295.9h0M457.2 299.8h0M458.4 287.7h0M461.5 292.2h0M451.7 294.3h0M462.4 304.0h0M464.4 294.1h0M463.4 289.3h0M460.7 291.5h0M458.5 303.2h0M456.9 293.2h0M455.9 297.2h0M462.7 288.6h0M465.1 303.2h0M461.7 293.7h0M455.6 295.9h0M454.1 304.7h0M463.6 299.5h0M461.8 298.0h0M462.6 302.1h0M457.0 279.1h0M456.4 296.9h0M461.6 303.0h0M457.0 301.8h0M465.3 301.3h0M461.1 281.2h0M450.1 295.0h0M457.5 301.0h0M452.3 301.7h0M463.9 299.2h0M455.8 297.9h0M457.6 293.3h0M456.9 303.2h0M462.6 301.8h0M450.0 298.4h0M458.8 293.9h0M463.7 290.9h0M455.8 304.3h0M453.3 291.0h0M460.3 301.7h0M455.7 301.6h0M459.1 302.7h0M450.1 286.7h0M449.8 302.8h0M455.0 300.8h0M459.0 301.8h0M449.8 300.8h0M452.3 297.4h0M458.3 298.8h0M450.6 304.0h0M460.4 299.8h0M457.0 287.2h0M462.7 300.4h0M451.2 303.9h0M460.2 304.6h0M460.8 301.6h0M454.0 290.8h0M460.4 302.6h0M461.7 302.6h0M456.4 304.4h0M455.0 304.7h0M459.8 300.8h0M463.5 295.3h0M459.8 288.5h0M456.7 299.8h0M455.9 296.5h0M459.8 298.0h0M456.7 291.0h0M462.4 293.6h0M457.4 301.6h0M464.4 299.9h0M460.8 285.3h0M458.1 297.9h0M452.5 297.0h0M456.4 284.9h0M457.6 303.8h0M458.0 289.2h0M460.9 301.6h0M453.9 295.5h0M454.6 297.6h0M461.3 299.9h0M454.2 295.6h0M458.8 285.1h0M453.4 298.1h0M450.4 303.7h0M462.9 301.6h0M456.8 294.7h0M453.4 301.9h0M457.0 295.5h0M461.8 296.3h0M463.7 276.3h0M462.6 294.1h0M451.1 290.8h0M462.2 298.3h0M461.4 304.3h0M450.3 302.8h0M457.9 302.2h0M459.9 303.8h0M452.9 301.3h0M461.5 302.4h0" stroke="#444" stroke-width="1.1" stroke-linecap="round" stroke-opacity="0.5" fill="none"/>
<path d="M436.8 303.2h0M422.0 294.3h0M423.6 298.2h0M434.6 282.3h0M433.4 295.2h0M426.0 289.3h0M429.6 287.8h0M424.5 291.5h0M435.8 295.2h0M423.5 298.9h0M424.4 292.2h0M436.3 300.2h0M424.0 291.0h0M424.2 303.6h0M429.2 292.7h0M430.4 299.7h0M435.9 302.5h0M426.2 297.5h0M430.7 299.5h0M425.4 295.6h0M430.8 291.3h0M423.8 297.4h0M422.2 285.3h0M417.7 297.3h0M431.0 303.8h0M430.0 284.2h0M428.6 301.6h0M425.6 301.9h0M435.2 278.5h0M431.2 292.1h0M418.3 300.3h0M428.9 281.5h0M421.2 300.5h0M432.6 298.6h0M419.4 298.1h0M428.9 293.4h0M425.4 290.0h0M427.2 297.9h0M435.3 288.5h0M437.2 303.3h0M437.3 298.6h0M426.5 296.2h0M424.0 302.4h0M431.5 290.5h0M426.9 299.5h0M421.7 299.9h0M428.8 299.5h0M437.0 301.7h0M426.0 300.3h0M425.8 278.9h0M428.0 300.1h0M427.8 288.6h0M430.0 298.1h0M426.9 304.6h0M423.3 303.1h0M425.2 288.5h0M427.3 299.0h0M425.8 297.6h0M424.4 299.5h0M433.0 298.8h0M433.2 304.6h0M421.3 294.1h0M423.1 288.9h0M426.8 302.5h0M420.9 302.4h0M423.8 301.8h0M431.9 298.2h0M429.1 296.8h0M427.1 298.3h0M433.8 294.1h0M425.4 292.8h0M418.8 296.9h0M437.9 304.2h0M427.6 283.2h0M431.4 303.5h0M426.5 301.0h0M425.2 291.3h0M424.6 293.6h0M418.6 303.5h0M420.3 299.9h0M433.1 301.3h0M432.1 296.9h0M421.7 294.1h0M424.6 301.5h0M420.6 293.1h0M427.6 300.7h0M427.6 300.5h0M418.4 295.3h0M432.9 304.3h0M424.6 303.9h0M435.8 295.6h0M421.5 291.2h0M436.4 297.5h0M424.7 293.8h0M432.4 286.5h0M436.9 303.3h0M420.5 301.0h0M430.1 303.1h0M429.5 303.3h0M425.2 303.0h0M425.9 304.7h0M432.9 299.7h0M436.9 283.4h0M426.5 301.0h0M428.4 302.1h0M425.9 299.8h0M425.9 286.4h0M435.9 302.4h0M425.4 302.5h0M421.5 304.7h0M426.8 294.8h0M422.2 297.7h0M422.9 281.6h0M437.0 277.6h0M426.8 304.0h0M424.9 289.0h0M432.4 299.2h0M422.3 300.7h0M427.5 294.2h0M433.8 295.4h0M427.6 290.6h0M426.0 298.2h0M426.4 303.4h0M420.9 294.6h0M433.2 286.8h0M429.0 300.7h0M456.0 290.9h0M456.6 290.2h0M462.9 298.8h0M459.6 291.0h0M453.4 296.8h0M451.7 298.7h0M451.5 302.9h0M455.1 297.6h0M461.4 301.1h0M456.4 303.5h0M456.5 301.7h0M453.9 299.0h0M462.5 303.2h0M448.8 302.0h0M454.6 288.4h0M448.6 290.8h0M456.0 288.3h0M460.8 301.3h0M449.9 296.3h0M461.9 289.5h0M455.9 301.2h0M452.5 277.4h0M462.6 303.1h0M449.1 294.4h0M460.5 295.7h0M456.1 297.2h0M464.7 294.8h0M459.7 303.3h0M452.5 299.8h0M462.2 294.3h0M452.7 295.7h0M457.7 299.9h0M463.8 289.6h0M456.1 302.7h0M451.1 289.9h0M455.5 295.6h0M463.5 296.9h0M458.8 296.0h0M455.7 298.9h0M458.6 275.8h0M459.0 298.3h0M460.0 299.9h0M455.5 289.0h0M459.5 297.5h0M460.7 303.3h0M463.3 300.3h0M454.5 299.5h0M464.0 300.1h0M458.6 293.0h0M459.6 296.7h0M456.2 300.7h0M460.0 302.1h0M453.2 304.2h0M461.0 304.4h0M456.3 289.4h0M457.0 295.7h0M455.6 299.7h0M449.6 298.9h0M452.4 280.0h0M453.6 303.1h0M455.5 301.8h0M450.1 300.5h0M458.3 286.2h0M460.5 297.1h0M460.4 288.7h0M459.8 294.5h0M450.4 298.9h0M464.6 279.1h0M462.4 302.3h0M460.4 298.5h0M453.0 297.3h0M450.8 278.4h0M450.6 298.9h0M455.6 304.4h0M453.4 281.1h0M451.2 298.9h0M460.5 302.6h0M455.6 291.8h0M451.9 286.2h0M451.5 281.4h0M456.3 299.6h0M459.6 294.2h0M458.1 304.6h0M452.5 294.4h0M453.2 299.9h0M459.5 297.9h0M456.3 303.1h0M456.5 303.3h0M456.5 304.7h0M452.9 288.8h0M454.8 304.4h0M458.6 297.1h0M457.1 296.9h0M457.0 303.0h0M452.5 297.7h0M454.6 298.0h0M461.5 298.2h0M456.0 292.7h0M450.5 302.6h0M452.6 303.6h0M459.7 291.3h0M453.2 298.7h0M454.6 300.1h0M464.5 296.9h0M458.0 291.3h0M452.8 301.3h0M453.9 298.8h0M457.8 292.8h0M454.2 296.6h0M464.0 288.9h0M460.2 294.1h0M463.4 297.7h0M459.7 300.2h0M454.1 295.3h0M459.8 297.3h0M457.5 298.8h0M461.1 292.5h0M460.7 290.2h0M452.5 303.6h0M453.6 299.9h0M451.9 302.2h0M459.1 296.3h0M464.1 297.0h0M450.3 304.5h0M453.0 298.7h0M463.4 301.7h0M451.8 279.8h0" stroke="#444" stroke-width="1.1" stroke-linecap="round" stroke-opacity="0.5" fill="none"/>
<path d="M469.1 302.3h0M460.4 302.5h0M473.0 301.6h0M459.6 301.9h0M440.2 302.7h0M425.8 301.9h0M447.3 303.5h0M428.2 302.7h0M455.3 302.7h0M471.3 302.1h0M450.0 302.8h0M420.8 303.5h0M419.3 302.5h0M426.1 303.1h0M442.2 303.3h0M459.0 303.5h0M459.6 302.9h0M438.8 302.4h0M418.7 303.4h0M472.1 302.5h0M424.0 302.1h0M450.3 302.5h0M452.6 302.7h0M414.6 301.8h0M457.4 303.1h0M434.3 302.9h0M434.6 302.3h0M436.7 303.3h0M422.0 303.2h0M416.0 302.2h0M430.5 303.4h0M448.1 303.1h0M441.0 303.1h0M437.4 303.6h0M458.1 303.3h0M463.3 303.3h0M447.9 302.9h0M419.9 303.4h0M420.5 303.4h0M429.7 302.3h0M454.2 303.0h0M411.8 300.7h0M458.7 302.6h0M429.5 303.3h0M461.1 302.3h0M425.5 302.0h0M471.8 302.3h0M466.8 302.2h0M468.6 302.5h0M467.5 303.4h0M428.8 303.0h0M420.2 302.1h0M453.4 302.8h0M456.4 302.3h0M425.6 303.2h0M461.6 302.0h0M452.4 303.0h0M427.2 303.0h0M425.6 302.2h0M443.9 303.2h0M436.8 303.3h0M464.5 302.6h0M425.2 302.4h0M434.6 302.1h0M462.4 303.3h0M471.1 302.0h0M443.0 302.9h0M430.4 303.4h0M424.2 302.5h0M421.3 303.0h0M423.1 302.0h0M426.4 302.8h0M447.7 302.5h0M416.3 302.6h0M450.4 302.2h0M437.5 302.3h0M448.9 302.0h0M466.5 302.4h0M472.9 302.2h0M429.0 302.8h0M416.5 302.6h0M467.4 303.4h0M441.4 302.2h0M450.3 302.2h0M428.3 301.9h0M444.2 303.1h0M446.6 302.4h0M443.5 302.9h0M471.4 303.5h0M436.9 302.3h0M434.7 302.6h0M449.5 302.2h0M432.6 302.8h0M432.2 302.3h0M431.6 303.0h0M450.0 302.4h0M453.5 302.9h0M419.2 302.8h0M434.5 302.5h0M464.4 302.8h0M465.9 302.6h0M432.6 302.6h0M438.4 301.9h0M427.2 302.7h0M457.4 302.1h0M420.0 303.5h0M412.2 301.4h0M454.0 303.0h0M447.0 303.5h0M435.5 302.8h0M427.2 302.9h0M463.6 302.9h0M425.9 303.3h0M465.6 303.5h0M430.2 303.5h0M436.5 303.5h0M435.8 303.3h0M464.4 303.0h0M434.5 303.5h0M425.0 302.4h0M440.0 303.3h0M416.8 302.5h0M472.0 303.1h0M427.3 303.2h0M434.7 302.2h0M466.3 302.0h0M442.6 303.0h0M450.7 302.4h0M432.9 303.3h0M455.3 302.7h0M427.0 302.0h0M472.6 302.7h0M432.2 303.3h0M435.8 302.1h0M413.5 301.7h0M470.4 302.8h0M414.3 302.0h0M465.1 302.7h0M425.0 303.5h0M465.9 303.5h0M448.2 302.0h0M420.7 302.3h0M424.6 302.5h0M453.1 302.2h0M438.5 302.1h0M454.5 302.6h0M461.3 303.4h0M437.5 303.2h0M454.3 301.9h0M429.5 302.9h0M436.6 303.3h0M454.7 302.0h0M458.8 303.5h0M451.9 303.5h0M426.4 302.4h0M466.5 302.9h0M453.7 302.5h0M457.6 302.2h0M415.6 302.5h0M453.5 302.8h0M466.1 302.2h0M419.5 302.0h0M457.3 302.3h0M447.0 301.9h0M424.5 303.1h0M468.4 302.5h0M432.8 303.0h0" stroke="#111" stroke-width="1.5" stroke-linecap="round" stroke-opacity="0.9" fill="none"/>
<path d="M444.9 303.0h0M466.6 303.5h0M451.0 303.4h0M459.3 302.7h0M434.2 301.9h0M432.9 302.6h0M437.5 302.8h0M434.8 302.2h0M438.3 303.5h0M418.1 302.1h0M424.5 303.0h0M463.9 302.5h0M420.9 302.1h0M431.5 303.6h0M443.4 302.0h0M430.8 302.9h0M459.9 302.8h0M412.0 300.8h0M440.6 302.2h0M423.4 302.0h0M458.8 302.7h0M466.4 302.9h0M457.7 302.7h0M439.3 301.9h0M449.9 303.5h0M444.2 302.0h0M431.9 303.2h0M442.3 302.9h0M445.7 302.9h0M470.5 302.0h0M418.0 303.3h0M426.7 303.6h0M440.3 303.0h0M445.2 302.1h0M447.5 302.5h0M459.3 302.6h0M454.6 302.6h0M452.7 302.1h0M440.9 303.2h0M436.5 302.8h0M445.2 303.2h0M470.5 303.3h0M443.0 303.0h0M472.6 302.8h0M466.3 302.1h0M468.0 302.7h0M449.1 303.3h0M427.8 303.5h0M427.1 302.7h0M412.1 301.9h0M442.8 302.2h0M461.7 302.4h0M472.8 301.6h0M433.3 302.4h0M412.3 301.0h0M420.8 302.8h0M469.0 303.4h0M439.5 302.4h0M431.1 303.5h0M415.6 301.8h0M433.9 302.5h0M446.4 302.5h0M449.5 301.9h0M416.9 302.3h0M431.6 302.7h0M441.7 302.3h0M423.5 302.1h0M440.5 303.0h0M428.7 303.0h0M435.3 302.8h0M453.4 303.4h0M460.3 303.1h0M415.8 302.4h0M442.8 302.8h0M461.0 302.4h0M416.6 303.5h0M417.2 302.9h0M435.5 302.2h0M453.0 303.3h0M422.5 302.5h0M472.1 301.7h0M411.5 301.9h0M456.8 302.7h0M445.1 303.0h0M417.3 302.5h0M456.0 302.6h0M422.0 303.4h0M459.1 302.5h0M440.5 303.0h0M437.6 303.3h0M426.3 301.9h0M464.7 302.7h0M431.7 302.3h0M427.7 303.1h0M437.8 302.5h0M467.7 302.7h0M420.2 302.0h0M426.7 302.7h0M444.2 303.6h0M460.3 303.1h0M419.5 303.5h0M414.7 302.9h0M439.1 303.5h0M429.4 302.4h0M454.8 302.6h0M454.7 303.4h0M443.8 302.9h0M428.1 302.9h0M429.2 303.4h0M430.2 302.0h0M458.3 303.1h0M431.9 302.9h0M418.7 302.1h0M424.5 302.9h0M437.3 303.3h0M434.9 301.9h0M420.3 302.9h0M447.8 303.3h0M464.4 302.0h0M472.3 301.8h0M430.3 302.7h0M432.4 302.2h0M446.4 302.9h0M437.2 303.0h0M440.1 302.6h0M413.6 302.3h0M448.9 302.3h0M418.6 302.5h0M452.7 302.4h0M471.1 302.5h0M449.2 303.0h0M419.3 302.1h0M422.8 302.2h0M429.4 303.6h0M437.8 302.6h0M435.6 302.1h0M427.8 303.1h0M460.9 302.0h0M463.0 303.3h0M458.7 302.0h0M419.1 302.5h0M444.8 302.6h0M439.8 302.0h0M451.7 302.8h0M422.2 302.4h0M454.2 302.8h0M432.1 303.1h0M472.5 302.8h0M459.7 302.1h0M421.2 303.5h0M426.1 303.3h0M435.5 303.4h0M461.1 303.2h0M444.7 302.0h0M470.6 303.1h0M413.6 302.5h0M424.9 302.8h0M444.0 302.4h0M461.1 302.1h0M460.6 303.1h0M419.8 303.4h0M442.9 303.5h0M421.9 303.1h0M436.9 303.5h0M436.1 303.3h0M425.9 303.6h0M418.6 302.5h0" stroke="#111" stroke-width="1.5" stroke-linecap="round" stroke-opacity="0.9" fill="none"/>
<path d="M418.4 302.2h0M417.8 302.6h0M445.4 302.6h0M457.9 303.0h0M429.2 302.5h0M468.9 302.4h0M454.3 302.8h0M440.3 302.8h0M439.9 302.1h0M442.1 302.4h0M433.2 302.3h0M446.2 303.3h0M421.9 302.5h0M437.3 302.1h0M440.2 302.8h0M430.5 302.7h0M466.6 303.0h0M438.8 303.0h0M448.8 302.1h0M425.1 302.6h0M465.1 302.4h0M454.6 303.0h0M442.0 303.4h0M439.1 303.4h0M466.6 303.3h0M465.0 303.0h0M469.4 302.3h0M429.9 302.6h0M436.9 302.5h0M466.0 303.5h0M414.9 301.7h0M413.4 301.8h0M454.9 302.7h0M426.9 303.0h0M460.2 302.1h0M436.8 303.5h0M420.1 302.4h0M455.6 302.0h0M428.5 303.3h0M421.0 302.5h0M416.6 303.3h0M462.0 302.6h0M434.9 302.1h0M417.8 303.1h0M473.0 302.6h0M430.8 303.3h0M422.8 302.9h0M449.1 302.3h0M455.1 303.3h0M459.1 302.6h0M471.5 302.3h0M461.9 303.6h0M440.6 302.2h0M413.5 302.9h0M460.1 302.3h0M434.4 303.0h0M422.4 302.1h0M467.4 302.5h0M413.6 301.5h0M460.4 302.3h0M450.1 303.4h0M445.4 302.0h0M453.2 303.2h0M443.1 303.5h0M431.3 302.2h0M431.1 302.8h0M451.7 303.0h0M466.8 303.4h0M469.5 303.2h0M455.9 303.4h0M447.7 302.2h0M455.3 302.9h0M460.4 303.3h0M465.8 303.5h0M424.0 303.2h0M466.8 303.0h0M463.1 303.3h0M437.9 302.1h0M421.6 302.9h0M444.8 303.3h0M472.8 302.5h0M412.6 302.4h0M415.4 302.3h0M429.2 302.8h0M435.9 302.9h0M441.1 302.9h0M421.2 302.9h0M452.1 302.7h0M472.6 302.8h0M425.1 302.7h0M432.1 303.0h0M464.2 302.5h0M447.5 302.7h0M411.8 302.0h0M428.0 303.3h0M415.1 302.8h0M463.7 303.2h0M457.0 303.1h0M431.8 303.4h0M415.1 301.8h0M452.6 302.7h0M471.7 302.7h0M452.9 302.7h0M471.7 303.3h0M429.1 302.9h0M414.6 302.8h0M416.3 302.7h0M428.7 303.0h0M425.7 302.2h0M465.0 303.5h0M422.7 303.4h0M472.5 302.1h0M439.3 302.4h0M458.5 302.9h0M470.8 302.1h0M450.6 302.8h0M471.4 301.9h0M427.0 303.3h0M423.7 303.0h0M414.4 301.6h0M434.5 302.6h0M448.8 303.5h0M446.9 303.4h0M435.9 302.9h0M446.4 302.7h0M472.4 303.0h0M451.4 303.2h0M413.2 302.1h0M451.5 302.5h0M444.6 302.3h0M428.6 303.0h0M422.1 303.0h0M469.7 303.6h0M464.9 302.3h0M421.2 303.0h0M448.7 302.8h0M426.7 302.9h0M455.4 303.4h0M461.9 303.2h0M440.9 303.0h0M437.0 302.1h0M442.2 302.9h0M422.0 303.5h0M416.9 303.5h0M458.9 302.2h0M444.6 302.1h0M412.6 302.5h0M430.1 303.6h0M414.7 303.1h0M443.3 301.9h0M412.7 301.5h0M418.9 302.8h0M414.9 303.1h0M438.3 302.0h0M467.5 302.1h0M436.0 303.1h0M464.4 302.5h0M445.9 303.3h0M459.6 302.8h0M437.7 302.4h0M425.4 303.1h0M434.4 302.8h0M465.9 302.9h0M444.2 303.3h0M460.8 303.6h0M426.2 302.0h0" stroke="#111" stroke-width="1.5" stroke-linecap="round" stroke-opacity="0.9" fill="none"/>
<rect x="397.2" y="191.5" width="97.2" height="118.5" fill="none" stroke="#111" stroke-width="1"/>
<line x1="394.70" y1="304.70" x2="397.20" y2="304.70" stroke="#222" stroke-width="0.8" />
<text x="391.80" y="307.00" font-size="6.6" fill="#3a3a3a" stroke="#3a3a3a" stroke-width="0.18" text-anchor="end" textLength="3.5" lengthAdjust="spacingAndGlyphs" >0</text>
<line x1="394.70" y1="275.80" x2="397.20" y2="275.80" stroke="#222" stroke-width="0.8" />
<text x="391.80" y="278.10" font-size="6.6" fill="#3a3a3a" stroke="#3a3a3a" stroke-width="0.18" text-anchor="end" textLength="3.5" lengthAdjust="spacingAndGlyphs" >2</text>
<line x1="394.70" y1="246.90" x2="397.20" y2="246.90" stroke="#222" stroke-width="0.8" />
<text x="391.80" y="249.20" font-size="6.6" fill="#3a3a3a" stroke="#3a3a3a" stroke-width="0.18" text-anchor="end" textLength="3.5" lengthAdjust="spacingAndGlyphs" >4</text>
<line x1="394.70" y1="218.00" x2="397.20" y2="218.00" stroke="#222" stroke-width="0.8" />
<text x="391.80" y="220.30" font-size="6.6" fill="#3a3a3a" stroke="#3a3a3a" stroke-width="0.18" text-anchor="end" textLength="3.5" lengthAdjust="spacingAndGlyphs" >6</text>
<line x1="397.00" y1="310.00" x2="397.00" y2="312.50" stroke="#222" stroke-width="0.8" />
<text x="397.00" y="323.30" font-size="6.6" fill="#3a3a3a" stroke="#3a3a3a" stroke-width="0.18" text-anchor="middle" textLength="11" lengthAdjust="spacingAndGlyphs" >−10</text>
<line x1="420.35" y1="310.00" x2="420.35" y2="312.50" stroke="#222" stroke-width="0.8" />
<text x="420.35" y="323.30" font-size="6.6" fill="#3a3a3a" stroke="#3a3a3a" stroke-width="0.18" text-anchor="middle" textLength="7.5" lengthAdjust="spacingAndGlyphs" >−5</text>
<line x1="443.70" y1="310.00" x2="443.70" y2="312.50" stroke="#222" stroke-width="0.8" />
<text x="443.70" y="323.30" font-size="6.6" fill="#3a3a3a" stroke="#3a3a3a" stroke-width="0.18" text-anchor="middle" textLength="3.5" lengthAdjust="spacingAndGlyphs" >0</text>
<line x1="467.05" y1="310.00" x2="467.05" y2="312.50" stroke="#222" stroke-width="0.8" />
<text x="467.05" y="323.30" font-size="6.6" fill="#3a3a3a" stroke="#3a3a3a" stroke-width="0.18" text-anchor="middle" textLength="3.5" lengthAdjust="spacingAndGlyphs" >5</text>
<line x1="490.40" y1="310.00" x2="490.40" y2="312.50" stroke="#222" stroke-width="0.8" />
<text x="490.40" y="323.30" font-size="6.6" fill="#3a3a3a" stroke="#3a3a3a" stroke-width="0.18" text-anchor="middle" textLength="7" lengthAdjust="spacingAndGlyphs" >10</text>
<circle cx="411.70" cy="207.40" r="1.4" fill="#c0392b" stroke="none" stroke-width="0.6" />
<text x="417.50" y="209.50" font-size="6.0" fill="#444" stroke="#444" stroke-width="0.18" textLength="34" lengthAdjust="spacingAndGlyphs" >Up-regulated</text>
<circle cx="411.70" cy="217.50" r="1.4" fill="#2c3e85" stroke="none" stroke-width="0.6" />
<text x="417.50" y="219.60" font-size="6.0" fill="#444" stroke="#444" stroke-width="0.18" textLength="42" lengthAdjust="spacingAndGlyphs" >Down-regulated</text>
<circle cx="411.70" cy="227.40" r="1.4" fill="#111" stroke="none" stroke-width="0.6" />
<text x="417.50" y="229.50" font-size="6.0" fill="#444" stroke="#444" stroke-width="0.18" textLength="40.5" lengthAdjust="spacingAndGlyphs" >No significance</text>
<rect x="402.7" y="263.7" width="20.8" height="6.7" rx="1.3" fill="#fff" stroke="#4a5fb3" stroke-width="0.75"/>
<text x="413.10" y="269.05" font-size="5.9" fill="#4a5fb3" stroke="#4a5fb3" stroke-width="0.08" text-anchor="middle" textLength="18.00000000000001" lengthAdjust="spacingAndGlyphs" >BANK1</text>
<rect x="423.8" y="263.3" width="19.2" height="6.7" rx="1.3" fill="#fff" stroke="#4a5fb3" stroke-width="0.75"/>
<text x="433.40" y="268.65" font-size="5.9" fill="#4a5fb3" stroke="#4a5fb3" stroke-width="0.08" text-anchor="middle" textLength="16.399999999999988" lengthAdjust="spacingAndGlyphs" >LRMP</text>
<rect x="420.0" y="277.7" width="20.8" height="6.7" rx="1.3" fill="#fff" stroke="#4a5fb3" stroke-width="0.75"/>
<text x="430.40" y="283.05" font-size="5.9" fill="#4a5fb3" stroke="#4a5fb3" stroke-width="0.08" text-anchor="middle" textLength="18.00000000000001" lengthAdjust="spacingAndGlyphs" >RGS13</text>
<rect x="447.0" y="258.0" width="22.0" height="6.8" rx="1.3" fill="#fff" stroke="#e0463a" stroke-width="0.75"/>
<text x="458.00" y="263.40" font-size="5.9" fill="#e0463a" stroke="#e0463a" stroke-width="0.08" text-anchor="middle" textLength="19.2" lengthAdjust="spacingAndGlyphs" >CXCL11</text>
<rect x="440.2" y="271.3" width="21.1" height="6.4" rx="1.3" fill="#fff" stroke="#e0463a" stroke-width="0.75"/>
<text x="450.75" y="276.50" font-size="5.9" fill="#e0463a" stroke="#e0463a" stroke-width="0.08" text-anchor="middle" textLength="18.300000000000022" lengthAdjust="spacingAndGlyphs" >CXCL10</text>
<rect x="467.0" y="274.8" width="20.3" height="6.7" rx="1.3" fill="#fff" stroke="#e0463a" stroke-width="0.75"/>
<text x="477.15" y="280.15" font-size="5.9" fill="#e0463a" stroke="#e0463a" stroke-width="0.08" text-anchor="middle" textLength="17.50000000000001" lengthAdjust="spacingAndGlyphs" >MMP7</text>
<rect x="445.4" y="280.6" width="21.1" height="6.7" rx="1.3" fill="#fff" stroke="#e0463a" stroke-width="0.75"/>
<text x="455.95" y="285.95" font-size="5.9" fill="#e0463a" stroke="#e0463a" stroke-width="0.08" text-anchor="middle" textLength="18.300000000000022" lengthAdjust="spacingAndGlyphs" >CXCL9</text>
<text x="1.60" y="352.20" font-size="11" fill="#111" font-weight="bold" >E</text>
<text x="110.20" y="351.00" font-size="8.8" fill="#3a3a3a" stroke="#3a3a3a" stroke-width="0.18" text-anchor="middle" textLength="27" lengthAdjust="spacingAndGlyphs" >Mouse</text>
<rect x="24.30" y="385.90" width="19.10" height="9.40" fill="#edc0a6" />
<rect x="43.40" y="385.90" width="19.10" height="9.40" fill="#efc8b1" />
<rect x="62.50" y="385.90" width="19.10" height="9.40" fill="#efc9b3" />
<rect x="81.60" y="385.90" width="19.10" height="9.40" fill="#efc8b1" />
<rect x="100.70" y="385.90" width="19.10" height="9.40" fill="#efc8b1" />
<rect x="119.80" y="385.90" width="19.10" height="9.40" fill="#edc3ab" />
<rect x="138.90" y="385.90" width="19.10" height="9.40" fill="#d77b45" />
<rect x="158.00" y="385.90" width="19.10" height="9.40" fill="#de9266" />
<rect x="177.10" y="385.90" width="19.10" height="9.40" fill="#d46e34" />
<text x="21.20" y="393.00" font-size="6.8" fill="#3a3a3a" stroke="#3a3a3a" stroke-width="0.18" text-anchor="end" textLength="14.5" lengthAdjust="spacingAndGlyphs" >Ccl3</text>
<rect x="24.30" y="395.30" width="19.10" height="9.40" fill="#f5dacb" />
<rect x="43.40" y="395.30" width="19.10" height="9.40" fill="#efc8b1" />
<rect x="62.50" y="395.30" width="19.10" height="9.40" fill="#f7e2d6" />
<rect x="81.60" y="395.30" width="19.10" height="9.40" fill="#eab89c" />
<rect x="100.70" y="395.30" width="19.10" height="9.40" fill="#e7ae8c" />
<rect x="119.80" y="395.30" width="19.10" height="9.40" fill="#eec5ad" />
<rect x="138.90" y="395.30" width="19.10" height="9.40" fill="#de8f61" />
<rect x="158.00" y="395.30" width="19.10" height="9.40" fill="#d16729" />
<rect x="177.10" y="395.30" width="19.10" height="9.40" fill="#e5a682" />
<text x="21.20" y="402.40" font-size="6.8" fill="#3a3a3a" stroke="#3a3a3a" stroke-width="0.18" text-anchor="end" textLength="14.5" lengthAdjust="spacingAndGlyphs" >Ccl4</text>
<rect x="24.30" y="404.70" width="19.10" height="9.40" fill="#f6dfd2" />
<rect x="43.40" y="404.70" width="19.10" height="9.40" fill="#eab89c" />
<rect x="62.50" y="404.70" width="19.10" height="9.40" fill="#f1d0bc" />
<rect x="81.60" y="404.70" width="19.10" height="9.40" fill="#edc3ab" />
<rect x="100.70" y="404.70" width="19.10" height="9.40" fill="#eec5ad" />
<rect x="119.80" y="404.70" width="19.10" height="9.40" fill="#edc3ab" />
<rect x="138.90" y="404.70" width="19.10" height="9.40" fill="#db8756" />
<rect x="158.00" y="404.70" width="19.10" height="9.40" fill="#e8b191" />
<rect x="177.10" y="404.70" width="19.10" height="9.40" fill="#ce5c1a" />
<text x="21.20" y="411.80" font-size="6.8" fill="#3a3a3a" stroke="#3a3a3a" stroke-width="0.18" text-anchor="end" textLength="14.5" lengthAdjust="spacingAndGlyphs" >Ccl5</text>
<rect x="24.30" y="414.10" width="19.10" height="9.40" fill="#efc8b1" />
<rect x="43.40" y="414.10" width="19.10" height="9.40" fill="#f0cbb6" />
<rect x="62.50" y="414.10" width="19.10" height="9.40" fill="#f0cbb6" />
<rect x="81.60" y="414.10" width="19.10" height="9.40" fill="#edc3ab" />
<rect x="100.70" y="414.10" width="19.10" height="9.40" fill="#eec6af" />
<rect x="119.80" y="414.10" width="19.10" height="9.40" fill="#efc8b1" />
<rect x="138.90" y="414.10" width="19.10" height="9.40" fill="#d87e4a" />
<rect x="158.00" y="414.10" width="19.10" height="9.40" fill="#d9814e" />
<rect x="177.10" y="414.10" width="19.10" height="9.40" fill="#d9814e" />
<text x="21.20" y="421.20" font-size="6.8" fill="#3a3a3a" stroke="#3a3a3a" stroke-width="0.18" text-anchor="end" textLength="17.5" lengthAdjust="spacingAndGlyphs" >Cxcl9</text>
<rect x="24.30" y="423.50" width="19.10" height="9.40" fill="#f0cbb6" />
<rect x="43.40" y="423.50" width="19.10" height="9.40" fill="#efc8b1" />
<rect x="62.50" y="423.50" width="19.10" height="9.40" fill="#f0cbb6" />
<rect x="81.60" y="423.50" width="19.10" height="9.40" fill="#edc3ab" />
<rect x="100.70" y="423.50" width="19.10" height="9.40" fill="#efc8b1" />
<rect x="119.80" y="423.50" width="19.10" height="9.40" fill="#efc8b1" />
<rect x="138.90" y="423.50" width="19.10" height="9.40" fill="#d77b45" />
<rect x="158.00" y="423.50" width="19.10" height="9.40" fill="#d87e4a" />
<rect x="177.10" y="423.50" width="19.10" height="9.40" fill="#da8452" />
<text x="21.20" y="430.60" font-size="6.8" fill="#3a3a3a" stroke="#3a3a3a" stroke-width="0.18" text-anchor="end" textLength="19.8" lengthAdjust="spacingAndGlyphs" >Cxcl10</text>
<rect x="24.30" y="432.90" width="19.10" height="9.40" fill="#f3d4c2" />
<rect x="43.40" y="432.90" width="19.10" height="9.40" fill="#f0ccb8" />
<rect x="62.50" y="432.90" width="19.10" height="9.40" fill="#f4d7c7" />
<rect x="81.60" y="432.90" width="19.10" height="9.40" fill="#ecbda2" />
<rect x="100.70" y="432.90" width="19.10" height="9.40" fill="#ecbda2" />
<rect x="119.80" y="432.90" width="19.10" height="9.40" fill="#edc0a6" />
<rect x="138.90" y="432.90" width="19.10" height="9.40" fill="#d97f4c" />
<rect x="158.00" y="432.90" width="19.10" height="9.40" fill="#dd8d5f" />
<rect x="177.10" y="432.90" width="19.10" height="9.40" fill="#d77b45" />
<text x="21.20" y="440.00" font-size="6.8" fill="#3a3a3a" stroke="#3a3a3a" stroke-width="0.18" text-anchor="end" textLength="19.4" lengthAdjust="spacingAndGlyphs" >Cxcl11</text>
<rect x="24.30" y="442.30" width="19.10" height="9.40" fill="#f0cbb6" />
<rect x="43.40" y="442.30" width="19.10" height="9.40" fill="#f0cbb6" />
<rect x="62.50" y="442.30" width="19.10" height="9.40" fill="#edc0a6" />
<rect x="81.60" y="442.30" width="19.10" height="9.40" fill="#efc8b1" />
<rect x="100.70" y="442.30" width="19.10" height="9.40" fill="#efc8b1" />
<rect x="119.80" y="442.30" width="19.10" height="9.40" fill="#efc8b1" />
<rect x="138.90" y="442.30" width="19.10" height="9.40" fill="#d77b45" />
<rect x="158.00" y="442.30" width="19.10" height="9.40" fill="#dc8a5b" />
<rect x="177.10" y="442.30" width="19.10" height="9.40" fill="#d97f4c" />
<text x="21.20" y="449.40" font-size="6.8" fill="#3a3a3a" stroke="#3a3a3a" stroke-width="0.18" text-anchor="end" textLength="14.5" lengthAdjust="spacingAndGlyphs" >Tnfa</text>
<rect x="24.30" y="451.70" width="19.10" height="9.40" fill="#efc8b1" />
<rect x="43.40" y="451.70" width="19.10" height="9.40" fill="#efc8b1" />
<rect x="62.50" y="451.70" width="19.10" height="9.40" fill="#efc8b1" />
<rect x="81.60" y="451.70" width="19.10" height="9.40" fill="#efc8b1" />
<rect x="100.70" y="451.70" width="19.10" height="9.40" fill="#efc8b1" />
<rect x="119.80" y="451.70" width="19.10" height="9.40" fill="#efc8b1" />
<rect x="138.90" y="451.70" width="19.10" height="9.40" fill="#db8756" />
<rect x="158.00" y="451.70" width="19.10" height="9.40" fill="#d77b45" />
<rect x="177.10" y="451.70" width="19.10" height="9.40" fill="#db8756" />
<text x="21.20" y="458.80" font-size="6.8" fill="#3a3a3a" stroke="#3a3a3a" stroke-width="0.18" text-anchor="end" textLength="13" lengthAdjust="spacingAndGlyphs" >Ifng</text>
<rect x="24.30" y="461.10" width="19.10" height="9.40" fill="#efc8b1" />
<rect x="43.40" y="461.10" width="19.10" height="9.40" fill="#efc8b1" />
<rect x="62.50" y="461.10" width="19.10" height="9.40" fill="#efc8b1" />
<rect x="81.60" y="461.10" width="19.10" height="9.40" fill="#edc2a9" />
<rect x="100.70" y="461.10" width="19.10" height="9.40" fill="#efc8b1" />
<rect x="119.80" y="461.10" width="19.10" height="9.40" fill="#efc8b1" />
<rect x="138.90" y="461.10" width="19.10" height="9.40" fill="#d67841" />
<rect x="158.00" y="461.10" width="19.10" height="9.40" fill="#d9814e" />
<rect x="177.10" y="461.10" width="19.10" height="9.40" fill="#dc8a5b" />
<text x="21.20" y="468.20" font-size="6.8" fill="#3a3a3a" stroke="#3a3a3a" stroke-width="0.18" text-anchor="end" textLength="11.5" lengthAdjust="spacingAndGlyphs" >Il1a</text>
<rect x="24.30" y="470.50" width="19.10" height="9.40" fill="#edc2a9" />
<rect x="43.40" y="470.50" width="19.10" height="9.40" fill="#efc8b1" />
<rect x="62.50" y="470.50" width="19.10" height="9.40" fill="#edc2a9" />
<rect x="81.60" y="470.50" width="19.10" height="9.40" fill="#efc8b1" />
<rect x="100.70" y="470.50" width="19.10" height="9.40" fill="#f0cbb6" />
<rect x="119.80" y="470.50" width="19.10" height="9.40" fill="#efc8b1" />
<rect x="138.90" y="470.50" width="19.10" height="9.40" fill="#d67841" />
<rect x="158.00" y="470.50" width="19.10" height="9.40" fill="#dc8a5b" />
<rect x="177.10" y="470.50" width="19.10" height="9.40" fill="#d97f4c" />
<text x="21.20" y="477.60" font-size="6.8" fill="#3a3a3a" stroke="#3a3a3a" stroke-width="0.18" text-anchor="end" textLength="11.5" lengthAdjust="spacingAndGlyphs" >Il1b</text>
<line x1="24.30" y1="385.90" x2="24.30" y2="479.90" stroke="#bcaeaa" stroke-width="0.8" />
<line x1="43.40" y1="385.90" x2="43.40" y2="479.90" stroke="#bcaeaa" stroke-width="0.8" />
<line x1="62.50" y1="385.90" x2="62.50" y2="479.90" stroke="#bcaeaa" stroke-width="0.8" />
<line x1="81.60" y1="385.90" x2="81.60" y2="479.90" stroke="#bcaeaa" stroke-width="0.8" />
<line x1="100.70" y1="385.90" x2="100.70" y2="479.90" stroke="#bcaeaa" stroke-width="0.8" />
<line x1="119.80" y1="385.90" x2="119.80" y2="479.90" stroke="#bcaeaa" stroke-width="0.8" />
<line x1="138.90" y1="385.90" x2="138.90" y2="479.90" stroke="#bcaeaa" stroke-width="0.8" />
<line x1="158.00" y1="385.90" x2="158.00" y2="479.90" stroke="#bcaeaa" stroke-width="0.8" />
<line x1="177.10" y1="385.90" x2="177.10" y2="479.90" stroke="#bcaeaa" stroke-width="0.8" />
<line x1="196.20" y1="385.90" x2="196.20" y2="479.90" stroke="#bcaeaa" stroke-width="0.8" />
<line x1="24.30" y1="385.90" x2="196.20" y2="385.90" stroke="#bcaeaa" stroke-width="0.8" />
<line x1="24.30" y1="395.30" x2="196.20" y2="395.30" stroke="#bcaeaa" stroke-width="0.8" />
<line x1="24.30" y1="404.70" x2="196.20" y2="404.70" stroke="#bcaeaa" stroke-width="0.8" />
<line x1="24.30" y1="414.10" x2="196.20" y2="414.10" stroke="#bcaeaa" stroke-width="0.8" />
<line x1="24.30" y1="423.50" x2="196.20" y2="423.50" stroke="#bcaeaa" stroke-width="0.8" />
<line x1="24.30" y1="432.90" x2="196.20" y2="432.90" stroke="#bcaeaa" stroke-width="0.8" />
<line x1="24.30" y1="442.30" x2="196.20" y2="442.30" stroke="#bcaeaa" stroke-width="0.8" />
<line x1="24.30" y1="451.70" x2="196.20" y2="451.70" stroke="#bcaeaa" stroke-width="0.8" />
<line x1="24.30" y1="461.10" x2="196.20" y2="461.10" stroke="#bcaeaa" stroke-width="0.8" />
<line x1="24.30" y1="470.50" x2="196.20" y2="470.50" stroke="#bcaeaa" stroke-width="0.8" />
<line x1="24.30" y1="479.90" x2="196.20" y2="479.90" stroke="#bcaeaa" stroke-width="0.8" />
<text x="33.85" y="381.30" font-size="6.8" fill="#3a3a3a" stroke="#3a3a3a" stroke-width="0.18" text-anchor="middle" >1</text>
<text x="52.95" y="381.30" font-size="6.8" fill="#3a3a3a" stroke="#3a3a3a" stroke-width="0.18" text-anchor="middle" >2</text>
<text x="72.05" y="381.30" font-size="6.8" fill="#3a3a3a" stroke="#3a3a3a" stroke-width="0.18" text-anchor="middle" >3</text>
<text x="91.15" y="381.30" font-size="6.8" fill="#3a3a3a" stroke="#3a3a3a" stroke-width="0.18" text-anchor="middle" >1</text>
<text x="110.25" y="381.30" font-size="6.8" fill="#3a3a3a" stroke="#3a3a3a" stroke-width="0.18" text-anchor="middle" >2</text>
<text x="129.35" y="381.30" font-size="6.8" fill="#3a3a3a" stroke="#3a3a3a" stroke-width="0.18" text-anchor="middle" >3</text>
<text x="148.45" y="381.30" font-size="6.8" fill="#3a3a3a" stroke="#3a3a3a" stroke-width="0.18" text-anchor="middle" >1</text>
<text x="167.55" y="381.30" font-size="6.8" fill="#3a3a3a" stroke="#3a3a3a" stroke-width="0.18" text-anchor="middle" >2</text>
<text x="186.65" y="381.30" font-size="6.8" fill="#3a3a3a" stroke="#3a3a3a" stroke-width="0.18" text-anchor="middle" >3</text>
<line x1="26.00" y1="372.40" x2="80.30" y2="372.40" stroke="#666" stroke-width="0.8" />
<line x1="83.50" y1="372.40" x2="137.60" y2="372.40" stroke="#666" stroke-width="0.8" />
<line x1="140.00" y1="372.40" x2="194.90" y2="372.40" stroke="#666" stroke-width="0.8" />
<text x="32.70" y="367.50" font-size="7.2" fill="#3a3a3a" stroke="#3a3a3a" stroke-width="0.18" font-style="italic" textLength="44" lengthAdjust="spacingAndGlyphs" >Vil-cre Ripk3<tspan font-size="4.2" dy="-2.6">fl/fl</tspan><tspan dy="2.6"></tspan></text>
<text x="100.00" y="367.50" font-size="7.2" fill="#3a3a3a" stroke="#3a3a3a" stroke-width="0.18" font-style="italic" textLength="18.4" lengthAdjust="spacingAndGlyphs" >Ripk3<tspan font-size="4.2" dy="-2.6">-/-</tspan><tspan dy="2.6"></tspan></text>
<text x="167.00" y="367.30" font-size="7.2" fill="#3a3a3a" stroke="#3a3a3a" stroke-width="0.18" text-anchor="middle" textLength="10.5" lengthAdjust="spacingAndGlyphs" >WT</text>
<text x="225.20" y="349.00" font-size="7.0" fill="#3a3a3a" stroke="#3a3a3a" stroke-width="0.18" text-anchor="middle" textLength="19.5" lengthAdjust="spacingAndGlyphs" >WT vs.</text>
<line x1="208.00" y1="354.00" x2="240.00" y2="354.00" stroke="#888" stroke-width="0.8" />
<rect x="200.40" y="385.90" width="9.70" height="9.40" fill="#d99098" />
<rect x="210.10" y="385.90" width="9.70" height="9.40" fill="#d06878" />
<rect x="200.40" y="395.30" width="9.70" height="9.40" fill="#f0d8da" />
<rect x="210.10" y="395.30" width="9.70" height="9.40" fill="#d89098" />
<rect x="200.40" y="404.70" width="9.70" height="9.40" fill="#f0d8d8" />
<rect x="210.10" y="404.70" width="9.70" height="9.40" fill="#eed0d2" />
<rect x="200.40" y="414.10" width="9.70" height="9.40" fill="#da9a9e" />
<rect x="210.10" y="414.10" width="9.70" height="9.40" fill="#c84858" />
<rect x="200.40" y="423.50" width="9.70" height="9.40" fill="#da9a9e" />
<rect x="210.10" y="423.50" width="9.70" height="9.40" fill="#c04050" />
<rect x="200.40" y="432.90" width="9.70" height="9.40" fill="#edd0d2" />
<rect x="210.10" y="432.90" width="9.70" height="9.40" fill="#d88890" />
<rect x="200.40" y="442.30" width="9.70" height="9.40" fill="#d88088" />
<rect x="210.10" y="442.30" width="9.70" height="9.40" fill="#d47880" />
<rect x="200.40" y="451.70" width="9.70" height="9.40" fill="#da8890" />
<rect x="210.10" y="451.70" width="9.70" height="9.40" fill="#c84858" />
<rect x="200.40" y="461.10" width="9.70" height="9.40" fill="#ecc8cc" />
<rect x="210.10" y="461.10" width="9.70" height="9.40" fill="#e8c0c4" />
<rect x="200.40" y="470.50" width="9.70" height="9.40" fill="#d89098" />
<rect x="210.10" y="470.50" width="9.70" height="9.40" fill="#efd4d6" />
<line x1="200.40" y1="385.90" x2="219.80" y2="385.90" stroke="#c9b5b9" stroke-width="0.5" />
<line x1="200.40" y1="395.30" x2="219.80" y2="395.30" stroke="#c9b5b9" stroke-width="0.5" />
<line x1="200.40" y1="404.70" x2="219.80" y2="404.70" stroke="#c9b5b9" stroke-width="0.5" />
<line x1="200.40" y1="414.10" x2="219.80" y2="414.10" stroke="#c9b5b9" stroke-width="0.5" />
<line x1="200.40" y1="423.50" x2="219.80" y2="423.50" stroke="#c9b5b9" stroke-width="0.5" />
<line x1="200.40" y1="432.90" x2="219.80" y2="432.90" stroke="#c9b5b9" stroke-width="0.5" />
<line x1="200.40" y1="442.30" x2="219.80" y2="442.30" stroke="#c9b5b9" stroke-width="0.5" />
<line x1="200.40" y1="451.70" x2="219.80" y2="451.70" stroke="#c9b5b9" stroke-width="0.5" />
<line x1="200.40" y1="461.10" x2="219.80" y2="461.10" stroke="#c9b5b9" stroke-width="0.5" />
<line x1="200.40" y1="470.50" x2="219.80" y2="470.50" stroke="#c9b5b9" stroke-width="0.5" />
<line x1="200.40" y1="479.90" x2="219.80" y2="479.90" stroke="#c9b5b9" stroke-width="0.5" />
<line x1="210.10" y1="385.90" x2="210.10" y2="479.90" stroke="#c9b5b9" stroke-width="0.5" />
<rect x="200.4" y="385.9" width="19.4" height="94.0" fill="none" stroke="#c9b5b9" stroke-width="0.5"/>
<text x="203.40" y="380.00" font-size="7.0" fill="#3a3a3a" stroke="#3a3a3a" stroke-width="0.18" textLength="20" lengthAdjust="spacingAndGlyphs" transform="rotate(-60 203.40 380.00)" ><tspan font-style="italic">Ripk3</tspan><tspan font-size="4.4" dy="-2.4">-/-</tspan><tspan dy="2.4"></tspan></text>
<text x="214.60" y="379.00" font-size="7.0" fill="#3a3a3a" stroke="#3a3a3a" stroke-width="0.18" font-style="italic" textLength="17.5" lengthAdjust="spacingAndGlyphs" transform="rotate(-55 214.60 379.00)" >Vil-cre</text>
<text x="226.20" y="380.00" font-size="7.0" fill="#3a3a3a" stroke="#3a3a3a" stroke-width="0.18" textLength="23" lengthAdjust="spacingAndGlyphs" transform="rotate(-63 226.20 380.00)" ><tspan font-style="italic">Ripk3</tspan><tspan font-size="4.4" dy="-2.4">fl/fl</tspan><tspan dy="2.4"></tspan></text>
<rect x="227.00" y="386.30" width="7.60" height="94.50" fill="url(#gz)" />
<text x="238.40" y="389.50" font-size="7.0" fill="#3a3a3a" stroke="#3a3a3a" stroke-width="0.18" textLength="3.8" lengthAdjust="spacingAndGlyphs" >2</text>
<text x="238.40" y="412.50" font-size="7.0" fill="#3a3a3a" stroke="#3a3a3a" stroke-width="0.18" textLength="3.8" lengthAdjust="spacingAndGlyphs" >1</text>
<text x="238.40" y="435.50" font-size="7.0" fill="#3a3a3a" stroke="#3a3a3a" stroke-width="0.18" textLength="3.8" lengthAdjust="spacingAndGlyphs" >0</text>
<text x="238.40" y="458.50" font-size="7.0" fill="#3a3a3a" stroke="#3a3a3a" stroke-width="0.18" textLength="8.2" lengthAdjust="spacingAndGlyphs" >−1</text>
<text x="238.40" y="481.50" font-size="7.0" fill="#3a3a3a" stroke="#3a3a3a" stroke-width="0.18" textLength="8.2" lengthAdjust="spacingAndGlyphs" >−2</text>
<text x="260.80" y="430.20" font-size="8.4" fill="#3a3a3a" stroke="#3a3a3a" stroke-width="0.18" text-anchor="middle" textLength="22" lengthAdjust="spacingAndGlyphs" transform="rotate(-90 260.80 430.20)" >Z-Score</text>
<rect x="265.40" y="367.40" width="8.00" height="126.20" fill="url(#gf)" />
<text x="276.20" y="370.30" font-size="6.6" fill="#3a3a3a" stroke="#3a3a3a" stroke-width="0.18" textLength="3.6" lengthAdjust="spacingAndGlyphs" >4</text>
<text x="276.20" y="401.65" font-size="6.6" fill="#3a3a3a" stroke="#3a3a3a" stroke-width="0.18" textLength="3.6" lengthAdjust="spacingAndGlyphs" >2</text>
<text x="276.20" y="433.00" font-size="6.6" fill="#3a3a3a" stroke="#3a3a3a" stroke-width="0.18" textLength="3.6" lengthAdjust="spacingAndGlyphs" >0</text>
<text x="276.20" y="464.35" font-size="6.6" fill="#3a3a3a" stroke="#3a3a3a" stroke-width="0.18" textLength="6.8" lengthAdjust="spacingAndGlyphs" >−2</text>
<text x="276.20" y="495.70" font-size="6.6" fill="#3a3a3a" stroke="#3a3a3a" stroke-width="0.18" textLength="6.8" lengthAdjust="spacingAndGlyphs" >−4</text>
<text x="297.60" y="429.70" font-size="8.4" fill="#3a3a3a" stroke="#3a3a3a" stroke-width="0.18" text-anchor="middle" textLength="55.5" lengthAdjust="spacingAndGlyphs" transform="rotate(-90 297.60 429.70)" >Log<tspan font-size="5.0" dy="1.8">2</tspan><tspan dy="-1.8">(fold change)</tspan></text>
<text x="1.20" y="524.60" font-size="11" fill="#111" font-weight="bold" >F</text>
<text x="109.20" y="533.20" font-size="8.8" fill="#3a3a3a" stroke="#3a3a3a" stroke-width="0.18" text-anchor="middle" textLength="29.2" lengthAdjust="spacingAndGlyphs" >Human</text>
<text x="48.80" y="546.40" font-size="6.6" fill="#3a3a3a" stroke="#3a3a3a" stroke-width="0.18" text-anchor="end" textLength="20" lengthAdjust="spacingAndGlyphs" >Biopsy</text>
<text x="48.80" y="554.20" font-size="6.6" fill="#3a3a3a" stroke="#3a3a3a" stroke-width="0.18" text-anchor="end" textLength="31.4" lengthAdjust="spacingAndGlyphs" >specimens</text>
<text x="79.20" y="544.30" font-size="6.8" fill="#3a3a3a" stroke="#3a3a3a" stroke-width="0.18" text-anchor="middle" textLength="22.8" lengthAdjust="spacingAndGlyphs" >Control</text>
<text x="134.20" y="544.30" font-size="6.8" fill="#3a3a3a" stroke="#3a3a3a" stroke-width="0.18" text-anchor="middle" textLength="45.5" lengthAdjust="spacingAndGlyphs" >GVHD patients</text>
<line x1="52.50" y1="547.90" x2="105.00" y2="547.90" stroke="#666" stroke-width="0.8" />
<line x1="109.20" y1="547.90" x2="164.60" y2="547.90" stroke="#666" stroke-width="0.8" />
<rect x="51.80" y="559.80" width="19.08" height="9.45" fill="#eec5ad" />
<rect x="70.88" y="559.80" width="19.08" height="9.45" fill="#e9b495" />
<rect x="89.96" y="559.80" width="19.08" height="9.45" fill="#efc8b1" />
<rect x="109.04" y="559.80" width="19.08" height="9.45" fill="#d2682b" />
<rect x="128.12" y="559.80" width="19.08" height="9.45" fill="#f0cbb6" />
<rect x="147.20" y="559.80" width="19.08" height="9.45" fill="#e9b495" />
<text x="48.40" y="566.92" font-size="6.8" fill="#3a3a3a" stroke="#3a3a3a" stroke-width="0.18" text-anchor="end" textLength="16.5" lengthAdjust="spacingAndGlyphs" >CCL3</text>
<rect x="51.80" y="569.25" width="19.08" height="9.45" fill="#eec5ad" />
<rect x="70.88" y="569.25" width="19.08" height="9.45" fill="#e9b495" />
<rect x="89.96" y="569.25" width="19.08" height="9.45" fill="#efc8b1" />
<rect x="109.04" y="569.25" width="19.08" height="9.45" fill="#d2682b" />
<rect x="128.12" y="569.25" width="19.08" height="9.45" fill="#ecbda2" />
<rect x="147.20" y="569.25" width="19.08" height="9.45" fill="#e9b495" />
<text x="48.40" y="576.38" font-size="6.8" fill="#3a3a3a" stroke="#3a3a3a" stroke-width="0.18" text-anchor="end" textLength="16.5" lengthAdjust="spacingAndGlyphs" >CCL4</text>
<rect x="51.80" y="578.70" width="19.08" height="9.45" fill="#faede5" />
<rect x="70.88" y="578.70" width="19.08" height="9.45" fill="#e9b495" />
<rect x="89.96" y="578.70" width="19.08" height="9.45" fill="#de8f61" />
<rect x="109.04" y="578.70" width="19.08" height="9.45" fill="#edc2a9" />
<rect x="128.12" y="578.70" width="19.08" height="9.45" fill="#edc2a9" />
<rect x="147.20" y="578.70" width="19.08" height="9.45" fill="#dd8d5f" />
<text x="48.40" y="585.82" font-size="6.8" fill="#3a3a3a" stroke="#3a3a3a" stroke-width="0.18" text-anchor="end" textLength="16.5" lengthAdjust="spacingAndGlyphs" >CCL5</text>
<rect x="51.80" y="588.15" width="19.08" height="9.45" fill="#f1d0bc" />
<rect x="70.88" y="588.15" width="19.08" height="9.45" fill="#e9b495" />
<rect x="89.96" y="588.15" width="19.08" height="9.45" fill="#f5dacb" />
<rect x="109.04" y="588.15" width="19.08" height="9.45" fill="#d77b45" />
<rect x="128.12" y="588.15" width="19.08" height="9.45" fill="#de8f61" />
<rect x="147.20" y="588.15" width="19.08" height="9.45" fill="#ebbba0" />
<text x="48.40" y="595.27" font-size="6.8" fill="#3a3a3a" stroke="#3a3a3a" stroke-width="0.18" text-anchor="end" textLength="20.5" lengthAdjust="spacingAndGlyphs" >CXCL9</text>
<rect x="51.80" y="597.60" width="19.08" height="9.45" fill="#f0cbb6" />
<rect x="70.88" y="597.60" width="19.08" height="9.45" fill="#e9b495" />
<rect x="89.96" y="597.60" width="19.08" height="9.45" fill="#f5dacb" />
<rect x="109.04" y="597.60" width="19.08" height="9.45" fill="#d5733a" />
<rect x="128.12" y="597.60" width="19.08" height="9.45" fill="#e6a986" />
<rect x="147.20" y="597.60" width="19.08" height="9.45" fill="#ecbfa4" />
<text x="48.40" y="604.72" font-size="6.8" fill="#3a3a3a" stroke="#3a3a3a" stroke-width="0.18" text-anchor="end" textLength="24" lengthAdjust="spacingAndGlyphs" >CXCL10</text>
<line x1="51.80" y1="559.80" x2="51.80" y2="607.05" stroke="#c5b8b1" stroke-width="0.5" />
<line x1="70.88" y1="559.80" x2="70.88" y2="607.05" stroke="#c5b8b1" stroke-width="0.5" />
<line x1="89.96" y1="559.80" x2="89.96" y2="607.05" stroke="#c5b8b1" stroke-width="0.5" />
<line x1="109.04" y1="559.80" x2="109.04" y2="607.05" stroke="#c5b8b1" stroke-width="0.5" />
<line x1="128.12" y1="559.80" x2="128.12" y2="607.05" stroke="#c5b8b1" stroke-width="0.5" />
<line x1="147.20" y1="559.80" x2="147.20" y2="607.05" stroke="#c5b8b1" stroke-width="0.5" />
<line x1="166.28" y1="559.80" x2="166.28" y2="607.05" stroke="#c5b8b1" stroke-width="0.5" />
<line x1="51.80" y1="559.80" x2="166.28" y2="559.80" stroke="#c5b8b1" stroke-width="0.5" />
<line x1="51.80" y1="569.25" x2="166.28" y2="569.25" stroke="#c5b8b1" stroke-width="0.5" />
<line x1="51.80" y1="578.70" x2="166.28" y2="578.70" stroke="#c5b8b1" stroke-width="0.5" />
<line x1="51.80" y1="588.15" x2="166.28" y2="588.15" stroke="#c5b8b1" stroke-width="0.5" />
<line x1="51.80" y1="597.60" x2="166.28" y2="597.60" stroke="#c5b8b1" stroke-width="0.5" />
<line x1="51.80" y1="607.05" x2="166.28" y2="607.05" stroke="#c5b8b1" stroke-width="0.5" />
<text x="61.34" y="555.40" font-size="6.8" fill="#3a3a3a" stroke="#3a3a3a" stroke-width="0.18" text-anchor="middle" >1</text>
<text x="80.42" y="555.40" font-size="6.8" fill="#3a3a3a" stroke="#3a3a3a" stroke-width="0.18" text-anchor="middle" >2</text>
<text x="99.50" y="555.40" font-size="6.8" fill="#3a3a3a" stroke="#3a3a3a" stroke-width="0.18" text-anchor="middle" >3</text>
<text x="118.58" y="555.40" font-size="6.8" fill="#3a3a3a" stroke="#3a3a3a" stroke-width="0.18" text-anchor="middle" >1</text>
<text x="137.66" y="555.40" font-size="6.8" fill="#3a3a3a" stroke="#3a3a3a" stroke-width="0.18" text-anchor="middle" >2</text>
<text x="156.74" y="555.40" font-size="6.8" fill="#3a3a3a" stroke="#3a3a3a" stroke-width="0.18" text-anchor="middle" >3</text>
<rect x="171.20" y="559.80" width="9.20" height="9.45" fill="#c8505e" />
<rect x="171.20" y="569.25" width="9.20" height="9.45" fill="#d07080" />
<rect x="171.20" y="578.70" width="9.20" height="9.45" fill="#edf1fa" />
<rect x="171.20" y="588.15" width="9.20" height="9.45" fill="#d06878" />
<rect x="171.20" y="597.60" width="9.20" height="9.45" fill="#b83040" />
<line x1="171.20" y1="559.80" x2="180.40" y2="559.80" stroke="#c9b5b9" stroke-width="0.5" />
<line x1="171.20" y1="569.25" x2="180.40" y2="569.25" stroke="#c9b5b9" stroke-width="0.5" />
<line x1="171.20" y1="578.70" x2="180.40" y2="578.70" stroke="#c9b5b9" stroke-width="0.5" />
<line x1="171.20" y1="588.15" x2="180.40" y2="588.15" stroke="#c9b5b9" stroke-width="0.5" />
<line x1="171.20" y1="597.60" x2="180.40" y2="597.60" stroke="#c9b5b9" stroke-width="0.5" />
<line x1="171.20" y1="607.05" x2="180.40" y2="607.05" stroke="#c9b5b9" stroke-width="0.5" />
<rect x="171.2" y="559.8" width="9.2" height="47.25" fill="none" stroke="#c9b5b9" stroke-width="0.5"/>
<text x="172.60" y="553.00" font-size="7.4" fill="#3a3a3a" stroke="#3a3a3a" stroke-width="0.18" textLength="31.5" lengthAdjust="spacingAndGlyphs" transform="rotate(-56 172.60 553.00)" >Control vs.</text>
<text x="183.00" y="551.00" font-size="7.4" fill="#3a3a3a" stroke="#3a3a3a" stroke-width="0.18" textLength="17.5" lengthAdjust="spacingAndGlyphs" transform="rotate(-56 183.00 551.00)" >GVHD</text>
<rect x="204.60" y="517.30" width="7.20" height="97.00" fill="url(#gz)" />
<text x="215.40" y="520.30" font-size="6.6" fill="#3a3a3a" stroke="#3a3a3a" stroke-width="0.18" textLength="3.6" lengthAdjust="spacingAndGlyphs" >2</text>
<text x="215.40" y="544.60" font-size="6.6" fill="#3a3a3a" stroke="#3a3a3a" stroke-width="0.18" textLength="3.6" lengthAdjust="spacingAndGlyphs" >1</text>
<text x="215.40" y="568.90" font-size="6.6" fill="#3a3a3a" stroke="#3a3a3a" stroke-width="0.18" textLength="3.6" lengthAdjust="spacingAndGlyphs" >0</text>
<text x="214.00" y="593.20" font-size="6.6" fill="#3a3a3a" stroke="#3a3a3a" stroke-width="0.18" textLength="6.8" lengthAdjust="spacingAndGlyphs" >−1</text>
<text x="214.00" y="617.50" font-size="6.6" fill="#3a3a3a" stroke="#3a3a3a" stroke-width="0.18" textLength="6.8" lengthAdjust="spacingAndGlyphs" >−2</text>
<text x="236.60" y="566.50" font-size="8.4" fill="#3a3a3a" stroke="#3a3a3a" stroke-width="0.18" text-anchor="middle" textLength="50.5" lengthAdjust="spacingAndGlyphs" transform="rotate(-90 236.60 566.50)" >Log<tspan font-size="5.0" dy="1.8">2</tspan><tspan dy="-1.8">(RPKM+1)</tspan></text>
<rect x="243.60" y="517.80" width="8.00" height="99.50" fill="url(#gf)" />
<text x="254.60" y="520.70" font-size="6.6" fill="#3a3a3a" stroke="#3a3a3a" stroke-width="0.18" textLength="3.6" lengthAdjust="spacingAndGlyphs" >4</text>
<text x="254.60" y="545.30" font-size="6.6" fill="#3a3a3a" stroke="#3a3a3a" stroke-width="0.18" textLength="3.6" lengthAdjust="spacingAndGlyphs" >2</text>
<text x="254.60" y="569.90" font-size="6.6" fill="#3a3a3a" stroke="#3a3a3a" stroke-width="0.18" textLength="3.6" lengthAdjust="spacingAndGlyphs" >0</text>
<text x="254.60" y="594.50" font-size="6.6" fill="#3a3a3a" stroke="#3a3a3a" stroke-width="0.18" textLength="6.8" lengthAdjust="spacingAndGlyphs" >−2</text>
<text x="254.60" y="619.10" font-size="6.6" fill="#3a3a3a" stroke="#3a3a3a" stroke-width="0.18" textLength="6.8" lengthAdjust="spacingAndGlyphs" >−4</text>
<text x="274.80" y="568.00" font-size="8.4" fill="#3a3a3a" stroke="#3a3a3a" stroke-width="0.18" text-anchor="middle" textLength="57" lengthAdjust="spacingAndGlyphs" transform="rotate(-90 274.80 568.00)" >Log<tspan font-size="5.0" dy="1.8">2</tspan><tspan dy="-1.8">(fold change)</tspan></text>
<text x="313.30" y="351.80" font-size="11" fill="#111" font-weight="bold" >G</text>
<text x="383.00" y="361.40" font-size="8.8" fill="#3a3a3a" stroke="#3a3a3a" stroke-width="0.18" text-anchor="middle" textLength="27.5" lengthAdjust="spacingAndGlyphs" >CXCL9</text>
<text x="491.40" y="360.60" font-size="8.8" fill="#3a3a3a" stroke="#3a3a3a" stroke-width="0.18" text-anchor="middle" textLength="33" lengthAdjust="spacingAndGlyphs" >CXCL10</text>
<text x="320.00" y="371.20" font-size="8.4" fill="#3a3a3a" stroke="#3a3a3a" stroke-width="0.18" textLength="28" lengthAdjust="spacingAndGlyphs" >Day 17</text>
<rect x="358.90" y="447.74" width="4.70" height="8.46" fill="#e6e6e6" />
<rect x="368.10" y="402.75" width="5.80" height="53.45" fill="#e27b72" />
<rect x="378.00" y="430.05" width="5.40" height="26.15" fill="#7f8dbd" />
<rect x="387.50" y="422.36" width="5.50" height="33.84" fill="#f8c47e" />
<rect x="397.50" y="400.06" width="5.00" height="56.14" fill="#abcdec" />
<circle cx="361.60" cy="431.21" r="2.15" fill="#ffffff" stroke="#7a7a7a" stroke-width="0.75" />
<circle cx="361.60" cy="440.05" r="2.15" fill="#ffffff" stroke="#7a7a7a" stroke-width="0.75" />
<circle cx="361.60" cy="444.66" r="2.15" fill="#ffffff" stroke="#7a7a7a" stroke-width="0.75" />
<circle cx="371.00" cy="387.76" r="2.15" fill="#8c1c2e" stroke="#3a0810" stroke-width="0.75" />
<circle cx="371.00" cy="393.91" r="2.15" fill="#8c1c2e" stroke="#3a0810" stroke-width="0.75" />
<circle cx="373.00" cy="398.14" r="2.15" fill="#8c1c2e" stroke="#3a0810" stroke-width="0.75" />
<circle cx="368.60" cy="400.45" r="2.15" fill="#8c1c2e" stroke="#3a0810" stroke-width="0.75" />
<circle cx="373.20" cy="402.75" r="2.15" fill="#8c1c2e" stroke="#3a0810" stroke-width="0.75" />
<circle cx="369.60" cy="405.06" r="2.15" fill="#8c1c2e" stroke="#3a0810" stroke-width="0.75" />
<circle cx="380.70" cy="413.52" r="2.15" fill="#1f3560" stroke="#0a1428" stroke-width="0.75" />
<circle cx="380.70" cy="418.52" r="2.15" fill="#1f3560" stroke="#0a1428" stroke-width="0.75" />
<circle cx="380.70" cy="423.52" r="2.15" fill="#1f3560" stroke="#0a1428" stroke-width="0.75" />
<circle cx="377.80" cy="429.28" r="2.15" fill="#1f3560" stroke="#0a1428" stroke-width="0.75" />
<circle cx="383.20" cy="429.28" r="2.15" fill="#1f3560" stroke="#0a1428" stroke-width="0.75" />
<circle cx="380.50" cy="429.28" r="2.15" fill="#1f3560" stroke="#0a1428" stroke-width="0.75" />
<circle cx="390.20" cy="414.67" r="2.15" fill="#e0a030" stroke="#7a5a10" stroke-width="0.75" />
<circle cx="389.20" cy="422.36" r="2.15" fill="#e0a030" stroke="#7a5a10" stroke-width="0.75" />
<circle cx="392.20" cy="423.90" r="2.15" fill="#e0a030" stroke="#7a5a10" stroke-width="0.75" />
<circle cx="391.00" cy="428.13" r="2.15" fill="#e0a030" stroke="#7a5a10" stroke-width="0.75" />
<circle cx="390.50" cy="436.21" r="2.15" fill="#e0a030" stroke="#7a5a10" stroke-width="0.75" />
<circle cx="400.00" cy="388.14" r="2.15" fill="#6ea0d0" stroke="#1f4f80" stroke-width="0.75" />
<circle cx="402.50" cy="391.60" r="2.15" fill="#6ea0d0" stroke="#1f4f80" stroke-width="0.75" />
<circle cx="398.00" cy="393.91" r="2.15" fill="#6ea0d0" stroke="#1f4f80" stroke-width="0.75" />
<circle cx="402.50" cy="396.22" r="2.15" fill="#6ea0d0" stroke="#1f4f80" stroke-width="0.75" />
<circle cx="400.00" cy="398.52" r="2.15" fill="#6ea0d0" stroke="#1f4f80" stroke-width="0.75" />
<line x1="354.60" y1="376.30" x2="354.60" y2="456.65" stroke="#222" stroke-width="1.0" />
<line x1="354.15" y1="456.20" x2="407.50" y2="456.20" stroke="#222" stroke-width="1.0" />
<line x1="351.90" y1="456.20" x2="354.60" y2="456.20" stroke="#222" stroke-width="0.8" />
<text x="348.60" y="458.50" font-size="7.0" fill="#3a3a3a" stroke="#3a3a3a" stroke-width="0.18" text-anchor="end" textLength="3.9" lengthAdjust="spacingAndGlyphs" >0</text>
<line x1="351.90" y1="436.98" x2="354.60" y2="436.98" stroke="#222" stroke-width="0.8" />
<text x="348.60" y="439.28" font-size="7.0" fill="#3a3a3a" stroke="#3a3a3a" stroke-width="0.18" text-anchor="end" textLength="7.8" lengthAdjust="spacingAndGlyphs" >50</text>
<line x1="351.90" y1="417.75" x2="354.60" y2="417.75" stroke="#222" stroke-width="0.8" />
<text x="348.60" y="420.05" font-size="7.0" fill="#3a3a3a" stroke="#3a3a3a" stroke-width="0.18" text-anchor="end" textLength="11.7" lengthAdjust="spacingAndGlyphs" >100</text>
<line x1="351.90" y1="398.52" x2="354.60" y2="398.52" stroke="#222" stroke-width="0.8" />
<text x="348.60" y="400.82" font-size="7.0" fill="#3a3a3a" stroke="#3a3a3a" stroke-width="0.18" text-anchor="end" textLength="11.7" lengthAdjust="spacingAndGlyphs" >150</text>
<line x1="351.90" y1="379.30" x2="354.60" y2="379.30" stroke="#222" stroke-width="0.8" />
<text x="348.60" y="381.60" font-size="7.0" fill="#3a3a3a" stroke="#3a3a3a" stroke-width="0.18" text-anchor="end" textLength="11.7" lengthAdjust="spacingAndGlyphs" >200</text>
<line x1="380.30" y1="456.20" x2="380.30" y2="459.50" stroke="#222" stroke-width="0.8" />
<line x1="371.50" y1="383.60" x2="382.70" y2="383.60" stroke="#555" stroke-width="0.8" />
<text x="377.10" y="383.40" font-size="6.6" fill="#444" stroke="#444" stroke-width="0.18" text-anchor="middle" textLength="11.2" lengthAdjust="spacingAndGlyphs" >****</text>
<line x1="371.50" y1="377.80" x2="390.60" y2="377.80" stroke="#555" stroke-width="0.8" />
<text x="381.05" y="377.60" font-size="6.6" fill="#444" stroke="#444" stroke-width="0.18" text-anchor="middle" textLength="11.2" lengthAdjust="spacingAndGlyphs" >****</text>
<line x1="371.50" y1="371.60" x2="395.70" y2="371.60" stroke="#555" stroke-width="0.8" />
<text x="383.60" y="369.80" font-size="6.0" fill="#444" stroke="#444" stroke-width="0.18" text-anchor="middle" textLength="9.5" lengthAdjust="spacingAndGlyphs" >n.s.</text>
<line x1="361.30" y1="431.40" x2="361.30" y2="444.70" stroke="#8a8a8a" stroke-width="0.6" />
<text x="321.50" y="415.50" font-size="8.2" fill="#3a3a3a" stroke="#3a3a3a" stroke-width="0.18" text-anchor="middle" textLength="51" lengthAdjust="spacingAndGlyphs" transform="rotate(-90 321.50 415.50)" >Concentration in</text>
<text x="331.00" y="415.50" font-size="8.2" fill="#3a3a3a" stroke="#3a3a3a" stroke-width="0.18" text-anchor="middle" textLength="53" lengthAdjust="spacingAndGlyphs" transform="rotate(-90 331.00 415.50)" >intestine (pg/µg)</text>
<rect x="468.20" y="447.09" width="5.40" height="9.11" fill="#e6e6e6" />
<rect x="478.10" y="407.16" width="5.80" height="49.04" fill="#e27b72" />
<rect x="488.00" y="432.14" width="5.80" height="24.06" fill="#7f8dbd" />
<rect x="498.60" y="417.30" width="5.70" height="38.90" fill="#f8c47e" />
<rect x="509.10" y="401.84" width="5.40" height="54.36" fill="#abcdec" />
<circle cx="468.80" cy="434.91" r="2.15" fill="#ffffff" stroke="#7a7a7a" stroke-width="0.75" />
<circle cx="472.80" cy="438.08" r="2.15" fill="#ffffff" stroke="#7a7a7a" stroke-width="0.75" />
<circle cx="469.50" cy="443.20" r="2.15" fill="#ffffff" stroke="#7a7a7a" stroke-width="0.75" />
<circle cx="481.00" cy="392.52" r="2.15" fill="#8c1c2e" stroke="#3a0810" stroke-width="0.75" />
<circle cx="479.50" cy="401.63" r="2.15" fill="#8c1c2e" stroke="#3a0810" stroke-width="0.75" />
<circle cx="481.50" cy="401.63" r="2.15" fill="#8c1c2e" stroke="#3a0810" stroke-width="0.75" />
<circle cx="484.00" cy="401.63" r="2.15" fill="#8c1c2e" stroke="#3a0810" stroke-width="0.75" />
<circle cx="480.00" cy="411.56" r="2.15" fill="#8c1c2e" stroke="#3a0810" stroke-width="0.75" />
<circle cx="484.00" cy="413.51" r="2.15" fill="#8c1c2e" stroke="#3a0810" stroke-width="0.75" />
<circle cx="479.50" cy="416.07" r="2.15" fill="#8c1c2e" stroke="#3a0810" stroke-width="0.75" />
<circle cx="482.00" cy="414.23" r="2.15" fill="#8c1c2e" stroke="#3a0810" stroke-width="0.75" />
<circle cx="489.50" cy="422.93" r="2.15" fill="#1f3560" stroke="#0a1428" stroke-width="0.75" />
<circle cx="493.00" cy="422.93" r="2.15" fill="#1f3560" stroke="#0a1428" stroke-width="0.75" />
<circle cx="491.00" cy="428.15" r="2.15" fill="#1f3560" stroke="#0a1428" stroke-width="0.75" />
<circle cx="489.00" cy="441.56" r="2.15" fill="#1f3560" stroke="#0a1428" stroke-width="0.75" />
<circle cx="493.00" cy="438.59" r="2.15" fill="#1f3560" stroke="#0a1428" stroke-width="0.75" />
<circle cx="499.00" cy="416.89" r="2.15" fill="#e0a030" stroke="#7a5a10" stroke-width="0.75" />
<circle cx="503.50" cy="417.81" r="2.15" fill="#e0a030" stroke="#7a5a10" stroke-width="0.75" />
<circle cx="501.00" cy="422.21" r="2.15" fill="#e0a030" stroke="#7a5a10" stroke-width="0.75" />
<circle cx="500.00" cy="427.13" r="2.15" fill="#e0a030" stroke="#7a5a10" stroke-width="0.75" />
<circle cx="501.00" cy="431.63" r="2.15" fill="#e0a030" stroke="#7a5a10" stroke-width="0.75" />
<circle cx="500.50" cy="436.13" r="2.15" fill="#e0a030" stroke="#7a5a10" stroke-width="0.75" />
<circle cx="510.00" cy="401.22" r="2.15" fill="#6ea0d0" stroke="#1f4f80" stroke-width="0.75" />
<circle cx="513.00" cy="402.66" r="2.15" fill="#6ea0d0" stroke="#1f4f80" stroke-width="0.75" />
<circle cx="515.00" cy="404.19" r="2.15" fill="#6ea0d0" stroke="#1f4f80" stroke-width="0.75" />
<circle cx="511.00" cy="406.65" r="2.15" fill="#6ea0d0" stroke="#1f4f80" stroke-width="0.75" />
<circle cx="513.00" cy="410.13" r="2.15" fill="#6ea0d0" stroke="#1f4f80" stroke-width="0.75" />
<circle cx="511.00" cy="414.12" r="2.15" fill="#6ea0d0" stroke="#1f4f80" stroke-width="0.75" />
<circle cx="511.50" cy="418.53" r="2.15" fill="#6ea0d0" stroke="#1f4f80" stroke-width="0.75" />
<line x1="463.20" y1="371.30" x2="463.20" y2="456.65" stroke="#222" stroke-width="1.0" />
<line x1="462.75" y1="456.20" x2="519.50" y2="456.20" stroke="#222" stroke-width="1.0" />
<line x1="460.50" y1="456.20" x2="463.20" y2="456.20" stroke="#222" stroke-width="0.8" />
<text x="459.20" y="458.50" font-size="7.0" fill="#3a3a3a" stroke="#3a3a3a" stroke-width="0.18" text-anchor="end" textLength="3.9" lengthAdjust="spacingAndGlyphs" >0</text>
<line x1="460.50" y1="435.73" x2="463.20" y2="435.73" stroke="#222" stroke-width="0.8" />
<text x="459.20" y="438.03" font-size="7.0" fill="#3a3a3a" stroke="#3a3a3a" stroke-width="0.18" text-anchor="end" textLength="11.7" lengthAdjust="spacingAndGlyphs" >200</text>
<line x1="460.50" y1="415.25" x2="463.20" y2="415.25" stroke="#222" stroke-width="0.8" />
<text x="459.20" y="417.55" font-size="7.0" fill="#3a3a3a" stroke="#3a3a3a" stroke-width="0.18" text-anchor="end" textLength="11.7" lengthAdjust="spacingAndGlyphs" >400</text>
<line x1="460.50" y1="394.77" x2="463.20" y2="394.77" stroke="#222" stroke-width="0.8" />
<text x="459.20" y="397.07" font-size="7.0" fill="#3a3a3a" stroke="#3a3a3a" stroke-width="0.18" text-anchor="end" textLength="11.7" lengthAdjust="spacingAndGlyphs" >600</text>
<line x1="460.50" y1="374.30" x2="463.20" y2="374.30" stroke="#222" stroke-width="0.8" />
<text x="459.20" y="376.60" font-size="7.0" fill="#3a3a3a" stroke="#3a3a3a" stroke-width="0.18" text-anchor="end" textLength="11.7" lengthAdjust="spacingAndGlyphs" >800</text>
<line x1="491.10" y1="456.20" x2="491.10" y2="459.50" stroke="#222" stroke-width="0.8" />
<line x1="481.80" y1="386.10" x2="492.70" y2="386.10" stroke="#555" stroke-width="0.8" />
<text x="487.25" y="386.40" font-size="6.6" fill="#444" stroke="#444" stroke-width="0.18" text-anchor="middle" textLength="8.399999999999999" lengthAdjust="spacingAndGlyphs" >***</text>
<line x1="481.80" y1="379.30" x2="500.90" y2="379.30" stroke="#555" stroke-width="0.8" />
<text x="491.35" y="380.40" font-size="6.6" fill="#444" stroke="#444" stroke-width="0.18" text-anchor="middle" textLength="2.8" lengthAdjust="spacingAndGlyphs" >*</text>
<line x1="481.80" y1="372.00" x2="507.00" y2="372.00" stroke="#555" stroke-width="0.8" />
<text x="494.40" y="370.20" font-size="6.0" fill="#444" stroke="#444" stroke-width="0.18" text-anchor="middle" textLength="9.5" lengthAdjust="spacingAndGlyphs" >n.s.</text>
<line x1="481.00" y1="406.80" x2="481.00" y2="397.30" stroke="#5a1020" stroke-width="0.6" />
<line x1="479.60" y1="397.30" x2="482.40" y2="397.30" stroke="#5a1020" stroke-width="0.6" />
<text x="430.80" y="414.00" font-size="8.2" fill="#3a3a3a" stroke="#3a3a3a" stroke-width="0.18" text-anchor="middle" textLength="52" lengthAdjust="spacingAndGlyphs" transform="rotate(-90 430.80 414.00)" >Concentration in</text>
<text x="440.50" y="414.00" font-size="8.2" fill="#3a3a3a" stroke="#3a3a3a" stroke-width="0.18" text-anchor="middle" textLength="54" lengthAdjust="spacingAndGlyphs" transform="rotate(-90 440.50 414.00)" >intestine (pg/µg)</text>
<circle cx="363.50" cy="472.40" r="1.8" fill="#ffffff" stroke="#7a7a7a" stroke-width="0.6" />
<text x="368.10" y="474.50" font-size="6.0" fill="#444" stroke="#444" stroke-width="0.18" textLength="18.5" lengthAdjust="spacingAndGlyphs" >WT-BM</text>
<circle cx="363.50" cy="483.00" r="1.8" fill="#8c1c2e" stroke="#3a0810" stroke-width="0.6" />
<text x="368.10" y="485.10" font-size="6.0" fill="#444" stroke="#444" stroke-width="0.18" textLength="41.6" lengthAdjust="spacingAndGlyphs" >WT-BM+CD4<tspan font-size="4.0" dy="-2.2">+</tspan><tspan dy="2.2"> T</tspan></text>
<circle cx="425.80" cy="472.40" r="1.8" fill="#1f3560" stroke="#0a1428" stroke-width="0.6" />
<text x="430.40" y="474.50" font-size="6.0" fill="#444" stroke="#444" stroke-width="0.18" textLength="52" lengthAdjust="spacingAndGlyphs" ><tspan font-style="italic">Ripk3</tspan><tspan font-size="4.0" dy="-2.2">-/-</tspan><tspan dy="2.2">-BM+CD4</tspan><tspan font-size="4.0" dy="-2.2">+</tspan><tspan dy="2.2"> T</tspan></text>
<circle cx="425.80" cy="483.00" r="1.8" fill="#e0a030" stroke="#7a5a10" stroke-width="0.6" />
<text x="430.40" y="485.10" font-size="6.0" fill="#444" stroke="#444" stroke-width="0.18" textLength="69" lengthAdjust="spacingAndGlyphs" ><tspan font-style="italic">Vil-cre.Ripk3</tspan><tspan font-size="4.0" dy="-2.2">fl/fl</tspan><tspan dy="2.2">-BM+CD4</tspan><tspan font-size="4.0" dy="-2.2">+</tspan><tspan dy="2.2"> T</tspan></text>
<circle cx="406.20" cy="494.50" r="1.8" fill="#6ea0d0" stroke="#1f4f80" stroke-width="0.6" />
<text x="410.80" y="496.60" font-size="6.0" fill="#444" stroke="#444" stroke-width="0.18" textLength="48.2" lengthAdjust="spacingAndGlyphs" ><tspan font-style="italic">Mlkl</tspan><tspan font-size="4.0" dy="-2.2">-/-</tspan><tspan dy="2.2">-BM+CD4</tspan><tspan font-size="4.0" dy="-2.2">+</tspan><tspan dy="2.2"> T</tspan></text>
<text x="286.00" y="524.80" font-size="11" fill="#111" font-weight="bold" >H</text>
<text x="361.20" y="525.80" font-size="8.8" fill="#3a3a3a" stroke="#3a3a3a" stroke-width="0.18" text-anchor="middle" textLength="27" lengthAdjust="spacingAndGlyphs" >CXCL9</text>
<text x="315.00" y="535.60" font-size="6.6" fill="#3a3a3a" stroke="#3a3a3a" stroke-width="0.18" textLength="16.5" lengthAdjust="spacingAndGlyphs" >Day 7</text>
<rect x="330.00" y="611.37" width="10.00" height="10.93" fill="#e6e6e6" />
<rect x="347.40" y="576.31" width="9.80" height="45.99" fill="#e27b72" />
<rect x="364.30" y="599.11" width="10.30" height="23.19" fill="#7f8dbd" />
<rect x="381.50" y="580.26" width="10.00" height="42.04" fill="#abcdec" />
<circle cx="330.60" cy="609.10" r="2.15" fill="#ffffff" stroke="#7a7a7a" stroke-width="0.75" />
<circle cx="335.60" cy="606.84" r="2.15" fill="#ffffff" stroke="#7a7a7a" stroke-width="0.75" />
<circle cx="339.20" cy="606.65" r="2.15" fill="#ffffff" stroke="#7a7a7a" stroke-width="0.75" />
<circle cx="352.00" cy="565.75" r="2.15" fill="#8c1c2e" stroke="#3a0810" stroke-width="0.75" />
<circle cx="352.00" cy="571.03" r="2.15" fill="#8c1c2e" stroke="#3a0810" stroke-width="0.75" />
<circle cx="352.00" cy="579.32" r="2.15" fill="#8c1c2e" stroke="#3a0810" stroke-width="0.75" />
<circle cx="352.00" cy="586.49" r="2.15" fill="#8c1c2e" stroke="#3a0810" stroke-width="0.75" />
<circle cx="369.20" cy="593.65" r="2.15" fill="#1f3560" stroke="#0a1428" stroke-width="0.75" />
<circle cx="364.80" cy="599.30" r="2.15" fill="#1f3560" stroke="#0a1428" stroke-width="0.75" />
<circle cx="373.60" cy="597.04" r="2.15" fill="#1f3560" stroke="#0a1428" stroke-width="0.75" />
<circle cx="382.60" cy="577.63" r="2.15" fill="#6ea0d0" stroke="#1f4f80" stroke-width="0.75" />
<circle cx="390.40" cy="580.83" r="2.15" fill="#6ea0d0" stroke="#1f4f80" stroke-width="0.75" />
<circle cx="386.00" cy="583.85" r="2.15" fill="#6ea0d0" stroke="#1f4f80" stroke-width="0.75" />
<line x1="323.40" y1="543.90" x2="323.40" y2="622.75" stroke="#222" stroke-width="1.0" />
<line x1="322.95" y1="622.30" x2="395.50" y2="622.30" stroke="#222" stroke-width="1.0" />
<line x1="320.70" y1="622.30" x2="323.40" y2="622.30" stroke="#222" stroke-width="0.8" />
<text x="318.40" y="624.60" font-size="7.0" fill="#3a3a3a" stroke="#3a3a3a" stroke-width="0.18" text-anchor="end" textLength="3.9" lengthAdjust="spacingAndGlyphs" >0</text>
<line x1="320.70" y1="603.45" x2="323.40" y2="603.45" stroke="#222" stroke-width="0.8" />
<text x="318.40" y="605.75" font-size="7.0" fill="#3a3a3a" stroke="#3a3a3a" stroke-width="0.18" text-anchor="end" textLength="7.8" lengthAdjust="spacingAndGlyphs" >10</text>
<line x1="320.70" y1="584.60" x2="323.40" y2="584.60" stroke="#222" stroke-width="0.8" />
<text x="318.40" y="586.90" font-size="7.0" fill="#3a3a3a" stroke="#3a3a3a" stroke-width="0.18" text-anchor="end" textLength="7.8" lengthAdjust="spacingAndGlyphs" >20</text>
<line x1="320.70" y1="565.75" x2="323.40" y2="565.75" stroke="#222" stroke-width="0.8" />
<text x="318.40" y="568.05" font-size="7.0" fill="#3a3a3a" stroke="#3a3a3a" stroke-width="0.18" text-anchor="end" textLength="7.8" lengthAdjust="spacingAndGlyphs" >30</text>
<line x1="320.70" y1="546.90" x2="323.40" y2="546.90" stroke="#222" stroke-width="0.8" />
<text x="318.40" y="549.20" font-size="7.0" fill="#3a3a3a" stroke="#3a3a3a" stroke-width="0.18" text-anchor="end" textLength="7.8" lengthAdjust="spacingAndGlyphs" >40</text>
<line x1="360.30" y1="622.30" x2="360.30" y2="625.60" stroke="#222" stroke-width="0.8" />
<line x1="351.50" y1="559.20" x2="369.50" y2="559.20" stroke="#555" stroke-width="0.8" />
<text x="360.50" y="559.80" font-size="6.6" fill="#444" stroke="#444" stroke-width="0.18" text-anchor="middle" textLength="5.6" lengthAdjust="spacingAndGlyphs" >**</text>
<line x1="351.50" y1="551.00" x2="386.50" y2="551.00" stroke="#555" stroke-width="0.8" />
<text x="369.00" y="549.20" font-size="6.0" fill="#444" stroke="#444" stroke-width="0.18" text-anchor="middle" textLength="9.5" lengthAdjust="spacingAndGlyphs" >n.s.</text>
<text x="293.70" y="583.50" font-size="8.2" fill="#3a3a3a" stroke="#3a3a3a" stroke-width="0.18" text-anchor="middle" textLength="53" lengthAdjust="spacingAndGlyphs" transform="rotate(-90 293.70 583.50)" >Concentration in</text>
<text x="303.20" y="583.50" font-size="8.2" fill="#3a3a3a" stroke="#3a3a3a" stroke-width="0.18" text-anchor="middle" textLength="55" lengthAdjust="spacingAndGlyphs" transform="rotate(-90 303.20 583.50)" >intestine (pg/µg)</text>
<circle cx="336.10" cy="638.00" r="1.8" fill="#ffffff" stroke="#7a7a7a" stroke-width="0.6" />
<text x="340.70" y="640.10" font-size="6.0" fill="#444" stroke="#444" stroke-width="0.18" textLength="18.6" lengthAdjust="spacingAndGlyphs" >WT-BM</text>
<circle cx="336.10" cy="649.20" r="1.8" fill="#8c1c2e" stroke="#3a0810" stroke-width="0.6" />
<text x="340.70" y="651.30" font-size="6.0" fill="#444" stroke="#444" stroke-width="0.18" textLength="42.6" lengthAdjust="spacingAndGlyphs" >WT-BM+CD4<tspan font-size="4.0" dy="-2.2">+</tspan><tspan dy="2.2"> T</tspan></text>
<circle cx="336.10" cy="660.00" r="1.8" fill="#1f3560" stroke="#0a1428" stroke-width="0.6" />
<text x="340.70" y="662.10" font-size="6.0" fill="#444" stroke="#444" stroke-width="0.18" textLength="54.2" lengthAdjust="spacingAndGlyphs" ><tspan font-style="italic">Ripk3</tspan><tspan font-size="4.0" dy="-2.2">-/-</tspan><tspan dy="2.2">-BM+CD4</tspan><tspan font-size="4.0" dy="-2.2">+</tspan><tspan dy="2.2"> T</tspan></text>
<circle cx="336.10" cy="670.30" r="1.8" fill="#6ea0d0" stroke="#1f4f80" stroke-width="0.6" />
<text x="340.70" y="672.40" font-size="6.0" fill="#444" stroke="#444" stroke-width="0.18" textLength="49.5" lengthAdjust="spacingAndGlyphs" ><tspan font-style="italic">Mlkl</tspan><tspan font-size="4.0" dy="-2.2">-/-</tspan><tspan dy="2.2">-BM+CD4</tspan><tspan font-size="4.0" dy="-2.2">+</tspan><tspan dy="2.2"> T</tspan></text>
<text x="408.00" y="524.80" font-size="11" fill="#111" font-weight="bold" >I</text>
<text x="430.00" y="537.40" font-size="6.6" fill="#3a3a3a" stroke="#3a3a3a" stroke-width="0.18" textLength="16.8" lengthAdjust="spacingAndGlyphs" >Day 7</text>
<rect x="442.40" y="621.37" width="12.20" height="1.03" fill="#e6e6e6" />
<rect x="462.00" y="594.06" width="13.50" height="28.34" fill="#e27b72" />
<rect x="482.40" y="615.44" width="13.40" height="6.96" fill="#7f8dbd" />
<rect x="502.80" y="601.01" width="13.10" height="21.39" fill="#abcdec" />
<circle cx="448.40" cy="622.40" r="1.55" fill="#ffffff" stroke="#7a7a7a" stroke-width="0.75" />
<circle cx="450.40" cy="622.40" r="1.55" fill="#ffffff" stroke="#7a7a7a" stroke-width="0.75" />
<circle cx="446.40" cy="622.40" r="1.55" fill="#ffffff" stroke="#7a7a7a" stroke-width="0.75" />
<circle cx="452.40" cy="622.40" r="1.55" fill="#ffffff" stroke="#7a7a7a" stroke-width="0.75" />
<circle cx="444.40" cy="622.40" r="1.55" fill="#ffffff" stroke="#7a7a7a" stroke-width="0.75" />
<circle cx="454.40" cy="622.40" r="1.55" fill="#ffffff" stroke="#7a7a7a" stroke-width="0.75" />
<circle cx="442.40" cy="622.40" r="1.55" fill="#ffffff" stroke="#7a7a7a" stroke-width="0.75" />
<circle cx="456.40" cy="621.11" r="1.55" fill="#ffffff" stroke="#7a7a7a" stroke-width="0.75" />
<circle cx="440.40" cy="621.11" r="1.55" fill="#ffffff" stroke="#7a7a7a" stroke-width="0.75" />
<circle cx="448.40" cy="619.82" r="1.55" fill="#ffffff" stroke="#7a7a7a" stroke-width="0.75" />
<circle cx="450.40" cy="619.82" r="1.55" fill="#ffffff" stroke="#7a7a7a" stroke-width="0.75" />
<circle cx="448.40" cy="618.53" r="1.55" fill="#ffffff" stroke="#7a7a7a" stroke-width="0.75" />
<circle cx="450.40" cy="617.25" r="1.55" fill="#ffffff" stroke="#7a7a7a" stroke-width="0.75" />
<circle cx="446.40" cy="617.25" r="1.55" fill="#ffffff" stroke="#7a7a7a" stroke-width="0.75" />
<circle cx="448.40" cy="614.67" r="1.55" fill="#ffffff" stroke="#7a7a7a" stroke-width="0.75" />
<circle cx="448.40" cy="612.09" r="1.55" fill="#ffffff" stroke="#7a7a7a" stroke-width="0.75" />
<circle cx="448.40" cy="609.52" r="1.55" fill="#ffffff" stroke="#7a7a7a" stroke-width="0.75" />
<circle cx="468.60" cy="555.41" r="1.55" fill="#8c1c2e" stroke="#3a0810" stroke-width="0.75" />
<circle cx="468.60" cy="563.14" r="1.55" fill="#8c1c2e" stroke="#3a0810" stroke-width="0.75" />
<circle cx="468.60" cy="565.71" r="1.55" fill="#8c1c2e" stroke="#3a0810" stroke-width="0.75" />
<circle cx="471.00" cy="565.71" r="1.55" fill="#8c1c2e" stroke="#3a0810" stroke-width="0.75" />
<circle cx="468.60" cy="570.87" r="1.55" fill="#8c1c2e" stroke="#3a0810" stroke-width="0.75" />
<circle cx="468.60" cy="578.60" r="1.55" fill="#8c1c2e" stroke="#3a0810" stroke-width="0.75" />
<circle cx="471.00" cy="578.60" r="1.55" fill="#8c1c2e" stroke="#3a0810" stroke-width="0.75" />
<circle cx="468.60" cy="586.33" r="1.55" fill="#8c1c2e" stroke="#3a0810" stroke-width="0.75" />
<circle cx="468.60" cy="588.90" r="1.55" fill="#8c1c2e" stroke="#3a0810" stroke-width="0.75" />
<circle cx="468.60" cy="590.19" r="1.55" fill="#8c1c2e" stroke="#3a0810" stroke-width="0.75" />
<circle cx="468.60" cy="596.63" r="1.55" fill="#8c1c2e" stroke="#3a0810" stroke-width="0.75" />
<circle cx="468.60" cy="606.94" r="1.55" fill="#8c1c2e" stroke="#3a0810" stroke-width="0.75" />
<circle cx="468.60" cy="609.52" r="1.55" fill="#8c1c2e" stroke="#3a0810" stroke-width="0.75" />
<circle cx="471.00" cy="609.52" r="1.55" fill="#8c1c2e" stroke="#3a0810" stroke-width="0.75" />
<circle cx="468.60" cy="612.09" r="1.55" fill="#8c1c2e" stroke="#3a0810" stroke-width="0.75" />
<circle cx="471.00" cy="612.09" r="1.55" fill="#8c1c2e" stroke="#3a0810" stroke-width="0.75" />
<circle cx="466.20" cy="612.09" r="1.55" fill="#8c1c2e" stroke="#3a0810" stroke-width="0.75" />
<circle cx="473.40" cy="612.09" r="1.55" fill="#8c1c2e" stroke="#3a0810" stroke-width="0.75" />
<circle cx="468.60" cy="614.67" r="1.55" fill="#8c1c2e" stroke="#3a0810" stroke-width="0.75" />
<circle cx="468.60" cy="617.25" r="1.55" fill="#8c1c2e" stroke="#3a0810" stroke-width="0.75" />
<circle cx="468.60" cy="619.82" r="1.55" fill="#8c1c2e" stroke="#3a0810" stroke-width="0.75" />
<circle cx="471.00" cy="619.82" r="1.55" fill="#8c1c2e" stroke="#3a0810" stroke-width="0.75" />
<circle cx="489.00" cy="622.40" r="1.55" fill="#1f3560" stroke="#0a1428" stroke-width="0.75" />
<circle cx="491.70" cy="622.40" r="1.55" fill="#1f3560" stroke="#0a1428" stroke-width="0.75" />
<circle cx="489.00" cy="619.82" r="1.55" fill="#1f3560" stroke="#0a1428" stroke-width="0.75" />
<circle cx="491.70" cy="619.82" r="1.55" fill="#1f3560" stroke="#0a1428" stroke-width="0.75" />
<circle cx="486.30" cy="619.82" r="1.55" fill="#1f3560" stroke="#0a1428" stroke-width="0.75" />
<circle cx="494.40" cy="619.82" r="1.55" fill="#1f3560" stroke="#0a1428" stroke-width="0.75" />
<circle cx="489.00" cy="617.25" r="1.55" fill="#1f3560" stroke="#0a1428" stroke-width="0.75" />
<circle cx="491.70" cy="617.25" r="1.55" fill="#1f3560" stroke="#0a1428" stroke-width="0.75" />
<circle cx="486.30" cy="617.25" r="1.55" fill="#1f3560" stroke="#0a1428" stroke-width="0.75" />
<circle cx="494.40" cy="617.25" r="1.55" fill="#1f3560" stroke="#0a1428" stroke-width="0.75" />
<circle cx="489.00" cy="614.67" r="1.55" fill="#1f3560" stroke="#0a1428" stroke-width="0.75" />
<circle cx="491.70" cy="614.67" r="1.55" fill="#1f3560" stroke="#0a1428" stroke-width="0.75" />
<circle cx="489.00" cy="612.09" r="1.55" fill="#1f3560" stroke="#0a1428" stroke-width="0.75" />
<circle cx="489.00" cy="609.52" r="1.55" fill="#1f3560" stroke="#0a1428" stroke-width="0.75" />
<circle cx="489.00" cy="606.94" r="1.55" fill="#1f3560" stroke="#0a1428" stroke-width="0.75" />
<circle cx="491.70" cy="606.94" r="1.55" fill="#1f3560" stroke="#0a1428" stroke-width="0.75" />
<circle cx="509.40" cy="573.44" r="1.55" fill="#6ea0d0" stroke="#1f4f80" stroke-width="0.75" />
<circle cx="509.40" cy="576.02" r="1.55" fill="#6ea0d0" stroke="#1f4f80" stroke-width="0.75" />
<circle cx="509.40" cy="591.48" r="1.55" fill="#6ea0d0" stroke="#1f4f80" stroke-width="0.75" />
<circle cx="509.40" cy="596.63" r="1.55" fill="#6ea0d0" stroke="#1f4f80" stroke-width="0.75" />
<circle cx="509.40" cy="599.21" r="1.55" fill="#6ea0d0" stroke="#1f4f80" stroke-width="0.75" />
<circle cx="512.10" cy="599.21" r="1.55" fill="#6ea0d0" stroke="#1f4f80" stroke-width="0.75" />
<circle cx="509.40" cy="601.79" r="1.55" fill="#6ea0d0" stroke="#1f4f80" stroke-width="0.75" />
<circle cx="509.40" cy="604.36" r="1.55" fill="#6ea0d0" stroke="#1f4f80" stroke-width="0.75" />
<circle cx="509.40" cy="606.94" r="1.55" fill="#6ea0d0" stroke="#1f4f80" stroke-width="0.75" />
<circle cx="509.40" cy="609.52" r="1.55" fill="#6ea0d0" stroke="#1f4f80" stroke-width="0.75" />
<circle cx="509.40" cy="612.09" r="1.55" fill="#6ea0d0" stroke="#1f4f80" stroke-width="0.75" />
<circle cx="509.40" cy="614.67" r="1.55" fill="#6ea0d0" stroke="#1f4f80" stroke-width="0.75" />
<circle cx="509.40" cy="619.82" r="1.55" fill="#6ea0d0" stroke="#1f4f80" stroke-width="0.75" />
<line x1="437.90" y1="542.10" x2="437.90" y2="622.85" stroke="#222" stroke-width="1.0" />
<line x1="437.45" y1="622.40" x2="518.50" y2="622.40" stroke="#222" stroke-width="1.0" />
<line x1="435.20" y1="622.40" x2="437.90" y2="622.40" stroke="#222" stroke-width="0.8" />
<text x="432.20" y="624.70" font-size="7.0" fill="#3a3a3a" stroke="#3a3a3a" stroke-width="0.18" text-anchor="end" textLength="3.9" lengthAdjust="spacingAndGlyphs" >0</text>
<line x1="435.20" y1="596.63" x2="437.90" y2="596.63" stroke="#222" stroke-width="0.8" />
<text x="432.20" y="598.93" font-size="7.0" fill="#3a3a3a" stroke="#3a3a3a" stroke-width="0.18" text-anchor="end" textLength="7.8" lengthAdjust="spacingAndGlyphs" >10</text>
<line x1="435.20" y1="570.87" x2="437.90" y2="570.87" stroke="#222" stroke-width="0.8" />
<text x="432.20" y="573.17" font-size="7.0" fill="#3a3a3a" stroke="#3a3a3a" stroke-width="0.18" text-anchor="end" textLength="7.8" lengthAdjust="spacingAndGlyphs" >20</text>
<line x1="435.20" y1="545.10" x2="437.90" y2="545.10" stroke="#222" stroke-width="0.8" />
<text x="432.20" y="547.40" font-size="7.0" fill="#3a3a3a" stroke="#3a3a3a" stroke-width="0.18" text-anchor="end" textLength="7.8" lengthAdjust="spacingAndGlyphs" >30</text>
<line x1="448.40" y1="622.40" x2="448.40" y2="625.70" stroke="#222" stroke-width="0.8" />
<line x1="468.60" y1="622.40" x2="468.60" y2="625.70" stroke="#222" stroke-width="0.8" />
<line x1="489.00" y1="622.40" x2="489.00" y2="625.70" stroke="#222" stroke-width="0.8" />
<line x1="509.40" y1="622.40" x2="509.40" y2="625.70" stroke="#222" stroke-width="0.8" />
<line x1="468.50" y1="551.30" x2="489.80" y2="551.30" stroke="#555" stroke-width="0.8" />
<text x="479.15" y="551.80" font-size="6.6" fill="#444" stroke="#444" stroke-width="0.18" text-anchor="middle" textLength="11.2" lengthAdjust="spacingAndGlyphs" >****</text>
<line x1="468.50" y1="542.80" x2="509.90" y2="542.80" stroke="#555" stroke-width="0.8" />
<text x="489.20" y="541.00" font-size="6.0" fill="#444" stroke="#444" stroke-width="0.18" text-anchor="middle" textLength="9.5" lengthAdjust="spacingAndGlyphs" >n.s.</text>
<text x="419.80" y="582.00" font-size="7.8" fill="#3a3a3a" stroke="#3a3a3a" stroke-width="0.18" text-anchor="middle" textLength="53.4" lengthAdjust="spacingAndGlyphs" transform="rotate(-90 419.80 582.00)" >CD3<tspan font-size="5.0" dy="-2.6">+</tspan><tspan dy="2.6"> T cells/field</tspan></text>
<circle cx="459.40" cy="638.70" r="1.8" fill="#ffffff" stroke="#7a7a7a" stroke-width="0.6" />
<text x="464.00" y="640.80" font-size="6.0" fill="#444" stroke="#444" stroke-width="0.18" textLength="18.6" lengthAdjust="spacingAndGlyphs" >WT-BM</text>
<circle cx="459.40" cy="649.20" r="1.8" fill="#8c1c2e" stroke="#3a0810" stroke-width="0.6" />
<text x="464.00" y="651.30" font-size="6.0" fill="#444" stroke="#444" stroke-width="0.18" textLength="41.8" lengthAdjust="spacingAndGlyphs" >WT-BM+CD4<tspan font-size="4.0" dy="-2.2">+</tspan><tspan dy="2.2"> T</tspan></text>
<circle cx="459.40" cy="660.00" r="1.8" fill="#1f3560" stroke="#0a1428" stroke-width="0.6" />
<text x="464.00" y="662.10" font-size="6.0" fill="#444" stroke="#444" stroke-width="0.18" textLength="53.4" lengthAdjust="spacingAndGlyphs" ><tspan font-style="italic">Ripk3</tspan><tspan font-size="4.0" dy="-2.2">-/-</tspan><tspan dy="2.2">-BM+CD4</tspan><tspan font-size="4.0" dy="-2.2">+</tspan><tspan dy="2.2"> T</tspan></text>
<circle cx="459.40" cy="670.30" r="1.8" fill="#6ea0d0" stroke="#1f4f80" stroke-width="0.6" />
<text x="464.00" y="672.40" font-size="6.0" fill="#444" stroke="#444" stroke-width="0.18" textLength="49" lengthAdjust="spacingAndGlyphs" ><tspan font-style="italic">Mlkl</tspan><tspan font-size="4.0" dy="-2.2">-/-</tspan><tspan dy="2.2">-BM+CD4</tspan><tspan font-size="4.0" dy="-2.2">+</tspan><tspan dy="2.2"> T</tspan></text>
</svg></body></html>
